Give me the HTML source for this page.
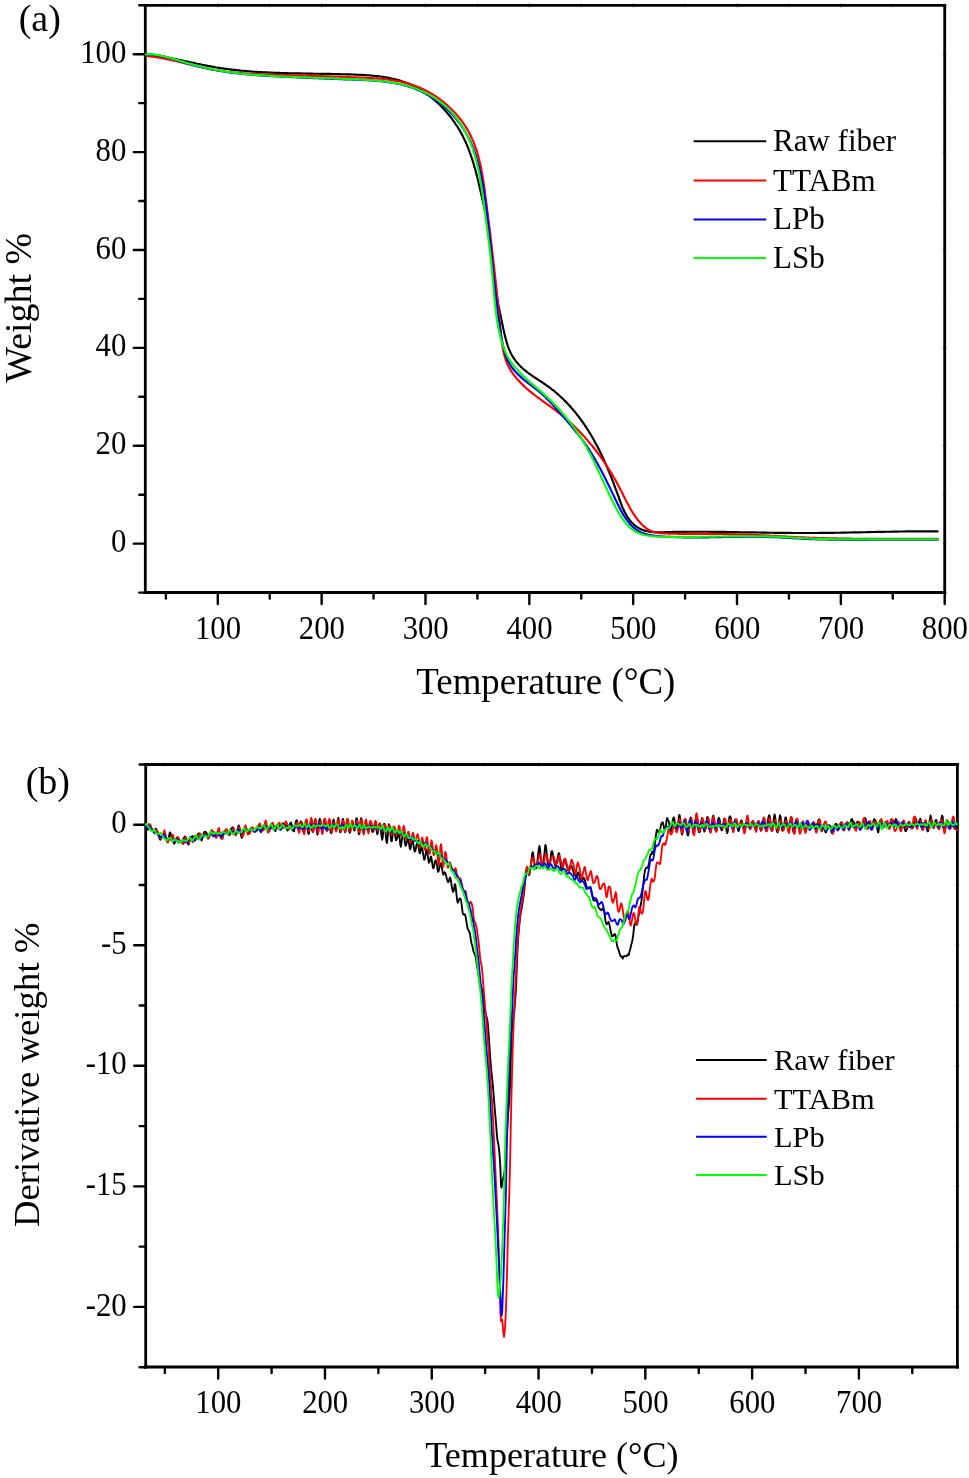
<!DOCTYPE html>
<html><head><meta charset="utf-8"><title>TGA / DTG curves</title>
<style>
html,body{margin:0;padding:0;background:#fff;}
body{width:969px;height:1478px;overflow:hidden;font-family:"Liberation Serif",serif;}
svg{display:block;will-change:transform;}
svg text{font-family:"Liberation Serif",serif;fill:#000;}
</style></head><body>
<svg width="969" height="1478" viewBox="0 0 969 1478">
<rect width="969" height="1478" fill="#fff"/>
<line x1="145.30" y1="3.90" x2="145.30" y2="594.00" stroke="#000" stroke-width="2.8" stroke-linecap="butt"/>
<line x1="944.70" y1="3.90" x2="944.70" y2="594.00" stroke="#000" stroke-width="2.8" stroke-linecap="butt"/>
<line x1="143.80" y1="5.40" x2="946.20" y2="5.40" stroke="#000" stroke-width="2.8" stroke-linecap="butt"/>
<line x1="143.80" y1="592.50" x2="946.20" y2="592.50" stroke="#000" stroke-width="2.8" stroke-linecap="butt"/>
<line x1="217.80" y1="592.50" x2="217.80" y2="604.00" stroke="#000" stroke-width="2.4" stroke-linecap="round"/>
<line x1="217.80" y1="3.30" x2="217.80" y2="7.50" stroke="#000" stroke-width="1.2" stroke-linecap="butt" stroke-opacity="0.35"/>
<line x1="321.64" y1="592.50" x2="321.64" y2="604.00" stroke="#000" stroke-width="2.4" stroke-linecap="round"/>
<line x1="321.64" y1="3.30" x2="321.64" y2="7.50" stroke="#000" stroke-width="1.2" stroke-linecap="butt" stroke-opacity="0.35"/>
<line x1="425.49" y1="592.50" x2="425.49" y2="604.00" stroke="#000" stroke-width="2.4" stroke-linecap="round"/>
<line x1="425.49" y1="3.30" x2="425.49" y2="7.50" stroke="#000" stroke-width="1.2" stroke-linecap="butt" stroke-opacity="0.35"/>
<line x1="529.33" y1="592.50" x2="529.33" y2="604.00" stroke="#000" stroke-width="2.4" stroke-linecap="round"/>
<line x1="529.33" y1="3.30" x2="529.33" y2="7.50" stroke="#000" stroke-width="1.2" stroke-linecap="butt" stroke-opacity="0.35"/>
<line x1="633.17" y1="592.50" x2="633.17" y2="604.00" stroke="#000" stroke-width="2.4" stroke-linecap="round"/>
<line x1="633.17" y1="3.30" x2="633.17" y2="7.50" stroke="#000" stroke-width="1.2" stroke-linecap="butt" stroke-opacity="0.35"/>
<line x1="737.01" y1="592.50" x2="737.01" y2="604.00" stroke="#000" stroke-width="2.4" stroke-linecap="round"/>
<line x1="737.01" y1="3.30" x2="737.01" y2="7.50" stroke="#000" stroke-width="1.2" stroke-linecap="butt" stroke-opacity="0.35"/>
<line x1="840.86" y1="592.50" x2="840.86" y2="604.00" stroke="#000" stroke-width="2.4" stroke-linecap="round"/>
<line x1="840.86" y1="3.30" x2="840.86" y2="7.50" stroke="#000" stroke-width="1.2" stroke-linecap="butt" stroke-opacity="0.35"/>
<line x1="944.70" y1="592.50" x2="944.70" y2="604.00" stroke="#000" stroke-width="2.4" stroke-linecap="round"/>
<line x1="944.70" y1="3.30" x2="944.70" y2="7.50" stroke="#000" stroke-width="1.2" stroke-linecap="butt" stroke-opacity="0.35"/>
<line x1="165.88" y1="592.50" x2="165.88" y2="598.50" stroke="#000" stroke-width="2.4" stroke-linecap="round"/>
<line x1="165.88" y1="3.40" x2="165.88" y2="7.40" stroke="#000" stroke-width="1.0" stroke-linecap="butt" stroke-opacity="0.3"/>
<line x1="269.72" y1="592.50" x2="269.72" y2="598.50" stroke="#000" stroke-width="2.4" stroke-linecap="round"/>
<line x1="269.72" y1="3.40" x2="269.72" y2="7.40" stroke="#000" stroke-width="1.0" stroke-linecap="butt" stroke-opacity="0.3"/>
<line x1="373.56" y1="592.50" x2="373.56" y2="598.50" stroke="#000" stroke-width="2.4" stroke-linecap="round"/>
<line x1="373.56" y1="3.40" x2="373.56" y2="7.40" stroke="#000" stroke-width="1.0" stroke-linecap="butt" stroke-opacity="0.3"/>
<line x1="477.41" y1="592.50" x2="477.41" y2="598.50" stroke="#000" stroke-width="2.4" stroke-linecap="round"/>
<line x1="477.41" y1="3.40" x2="477.41" y2="7.40" stroke="#000" stroke-width="1.0" stroke-linecap="butt" stroke-opacity="0.3"/>
<line x1="581.25" y1="592.50" x2="581.25" y2="598.50" stroke="#000" stroke-width="2.4" stroke-linecap="round"/>
<line x1="581.25" y1="3.40" x2="581.25" y2="7.40" stroke="#000" stroke-width="1.0" stroke-linecap="butt" stroke-opacity="0.3"/>
<line x1="685.09" y1="592.50" x2="685.09" y2="598.50" stroke="#000" stroke-width="2.4" stroke-linecap="round"/>
<line x1="685.09" y1="3.40" x2="685.09" y2="7.40" stroke="#000" stroke-width="1.0" stroke-linecap="butt" stroke-opacity="0.3"/>
<line x1="788.94" y1="592.50" x2="788.94" y2="598.50" stroke="#000" stroke-width="2.4" stroke-linecap="round"/>
<line x1="788.94" y1="3.40" x2="788.94" y2="7.40" stroke="#000" stroke-width="1.0" stroke-linecap="butt" stroke-opacity="0.3"/>
<line x1="892.78" y1="592.50" x2="892.78" y2="598.50" stroke="#000" stroke-width="2.4" stroke-linecap="round"/>
<line x1="892.78" y1="3.40" x2="892.78" y2="7.40" stroke="#000" stroke-width="1.0" stroke-linecap="butt" stroke-opacity="0.3"/>
<line x1="133.80" y1="543.65" x2="145.30" y2="543.65" stroke="#000" stroke-width="2.4" stroke-linecap="round"/>
<line x1="942.60" y1="543.65" x2="946.80" y2="543.65" stroke="#000" stroke-width="1.2" stroke-linecap="butt" stroke-opacity="0.35"/>
<line x1="133.80" y1="445.76" x2="145.30" y2="445.76" stroke="#000" stroke-width="2.4" stroke-linecap="round"/>
<line x1="942.60" y1="445.76" x2="946.80" y2="445.76" stroke="#000" stroke-width="1.2" stroke-linecap="butt" stroke-opacity="0.35"/>
<line x1="133.80" y1="347.87" x2="145.30" y2="347.87" stroke="#000" stroke-width="2.4" stroke-linecap="round"/>
<line x1="942.60" y1="347.87" x2="946.80" y2="347.87" stroke="#000" stroke-width="1.2" stroke-linecap="butt" stroke-opacity="0.35"/>
<line x1="133.80" y1="249.98" x2="145.30" y2="249.98" stroke="#000" stroke-width="2.4" stroke-linecap="round"/>
<line x1="942.60" y1="249.98" x2="946.80" y2="249.98" stroke="#000" stroke-width="1.2" stroke-linecap="butt" stroke-opacity="0.35"/>
<line x1="133.80" y1="152.09" x2="145.30" y2="152.09" stroke="#000" stroke-width="2.4" stroke-linecap="round"/>
<line x1="942.60" y1="152.09" x2="946.80" y2="152.09" stroke="#000" stroke-width="1.2" stroke-linecap="butt" stroke-opacity="0.35"/>
<line x1="133.80" y1="54.20" x2="145.30" y2="54.20" stroke="#000" stroke-width="2.4" stroke-linecap="round"/>
<line x1="942.60" y1="54.20" x2="946.80" y2="54.20" stroke="#000" stroke-width="1.2" stroke-linecap="butt" stroke-opacity="0.35"/>
<line x1="139.30" y1="592.60" x2="145.30" y2="592.60" stroke="#000" stroke-width="2.4" stroke-linecap="round"/>
<line x1="942.70" y1="592.60" x2="946.70" y2="592.60" stroke="#000" stroke-width="1.0" stroke-linecap="butt" stroke-opacity="0.3"/>
<line x1="139.30" y1="494.70" x2="145.30" y2="494.70" stroke="#000" stroke-width="2.4" stroke-linecap="round"/>
<line x1="942.70" y1="494.70" x2="946.70" y2="494.70" stroke="#000" stroke-width="1.0" stroke-linecap="butt" stroke-opacity="0.3"/>
<line x1="139.30" y1="396.81" x2="145.30" y2="396.81" stroke="#000" stroke-width="2.4" stroke-linecap="round"/>
<line x1="942.70" y1="396.81" x2="946.70" y2="396.81" stroke="#000" stroke-width="1.0" stroke-linecap="butt" stroke-opacity="0.3"/>
<line x1="139.30" y1="298.92" x2="145.30" y2="298.92" stroke="#000" stroke-width="2.4" stroke-linecap="round"/>
<line x1="942.70" y1="298.92" x2="946.70" y2="298.92" stroke="#000" stroke-width="1.0" stroke-linecap="butt" stroke-opacity="0.3"/>
<line x1="139.30" y1="201.03" x2="145.30" y2="201.03" stroke="#000" stroke-width="2.4" stroke-linecap="round"/>
<line x1="942.70" y1="201.03" x2="946.70" y2="201.03" stroke="#000" stroke-width="1.0" stroke-linecap="butt" stroke-opacity="0.3"/>
<line x1="139.30" y1="103.14" x2="145.30" y2="103.14" stroke="#000" stroke-width="2.4" stroke-linecap="round"/>
<line x1="942.70" y1="103.14" x2="946.70" y2="103.14" stroke="#000" stroke-width="1.0" stroke-linecap="butt" stroke-opacity="0.3"/>
<line x1="139.30" y1="5.25" x2="145.30" y2="5.25" stroke="#000" stroke-width="2.4" stroke-linecap="round"/>
<line x1="942.70" y1="5.25" x2="946.70" y2="5.25" stroke="#000" stroke-width="1.0" stroke-linecap="butt" stroke-opacity="0.3"/>
<text x="0.00" y="0.00" font-size="33.6" text-anchor="middle" transform="translate(218.00 638.70) scale(0.915,1)">100</text>
<text x="0.00" y="0.00" font-size="33.6" text-anchor="middle" transform="translate(321.84 638.70) scale(0.915,1)">200</text>
<text x="0.00" y="0.00" font-size="33.6" text-anchor="middle" transform="translate(425.69 638.70) scale(0.915,1)">300</text>
<text x="0.00" y="0.00" font-size="33.6" text-anchor="middle" transform="translate(529.53 638.70) scale(0.915,1)">400</text>
<text x="0.00" y="0.00" font-size="33.6" text-anchor="middle" transform="translate(633.37 638.70) scale(0.915,1)">500</text>
<text x="0.00" y="0.00" font-size="33.6" text-anchor="middle" transform="translate(737.21 638.70) scale(0.915,1)">600</text>
<text x="0.00" y="0.00" font-size="33.6" text-anchor="middle" transform="translate(841.06 638.70) scale(0.915,1)">700</text>
<text x="0.00" y="0.00" font-size="33.6" text-anchor="middle" transform="translate(944.90 638.70) scale(0.915,1)">800</text>
<text x="0.00" y="0.00" font-size="33.6" text-anchor="end" transform="translate(126.30 552.25) scale(0.915,1)">0</text>
<text x="0.00" y="0.00" font-size="33.6" text-anchor="end" transform="translate(126.30 454.36) scale(0.915,1)">20</text>
<text x="0.00" y="0.00" font-size="33.6" text-anchor="end" transform="translate(126.30 356.47) scale(0.915,1)">40</text>
<text x="0.00" y="0.00" font-size="33.6" text-anchor="end" transform="translate(126.30 258.58) scale(0.915,1)">60</text>
<text x="0.00" y="0.00" font-size="33.6" text-anchor="end" transform="translate(126.30 160.69) scale(0.915,1)">80</text>
<text x="0.00" y="0.00" font-size="33.6" text-anchor="end" transform="translate(126.30 62.80) scale(0.915,1)">100</text>
<path d="M145.9 54.5 L147.4 54.6 L148.8 54.8 L150.3 55.0 L151.8 55.1 L153.3 55.3 L154.8 55.5 L156.3 55.7 L157.8 56.0 L159.2 56.2 L160.7 56.4 L162.2 56.7 L163.7 56.9 L165.1 57.2 L166.6 57.4 L168.1 57.7 L169.6 58.0 L171.0 58.3 L172.5 58.5 L174.0 58.8 L175.5 59.1 L176.9 59.4 L178.4 59.7 L179.9 60.0 L181.3 60.3 L182.8 60.6 L184.3 61.0 L185.7 61.3 L187.2 61.6 L188.7 61.9 L190.1 62.2 L191.6 62.5 L193.1 62.8 L194.6 63.1 L196.0 63.5 L197.5 63.8 L199.0 64.1 L200.4 64.4 L201.9 64.7 L203.4 65.0 L204.9 65.3 L206.3 65.6 L207.8 65.9 L209.3 66.1 L210.7 66.4 L212.2 66.7 L213.7 66.9 L215.2 67.2 L216.7 67.5 L218.1 67.7 L219.6 67.9 L221.1 68.2 L222.6 68.4 L224.1 68.6 L225.6 68.8 L227.1 69.0 L228.6 69.2 L230.0 69.4 L231.5 69.6 L233.0 69.8 L234.5 69.9 L236.0 70.1 L237.5 70.3 L239.0 70.4 L240.5 70.6 L242.0 70.7 L243.5 70.8 L245.0 71.0 L246.5 71.1 L248.0 71.2 L249.5 71.3 L251.0 71.5 L252.5 71.6 L254.0 71.7 L255.5 71.8 L257.0 71.9 L258.5 72.0 L260.0 72.1 L261.5 72.1 L263.0 72.2 L264.5 72.3 L266.0 72.4 L267.5 72.4 L269.0 72.5 L270.5 72.6 L272.0 72.6 L273.5 72.7 L275.1 72.8 L276.6 72.8 L278.1 72.9 L279.6 72.9 L281.1 73.0 L282.6 73.0 L284.1 73.1 L285.6 73.1 L287.1 73.1 L288.6 73.2 L290.1 73.2 L291.6 73.2 L293.1 73.3 L294.6 73.3 L296.1 73.3 L297.6 73.4 L299.1 73.4 L300.5 73.4 L302.0 73.5 L303.5 73.5 L305.0 73.5 L306.5 73.5 L308.0 73.6 L309.5 73.6 L311.0 73.6 L312.5 73.6 L314.0 73.7 L315.5 73.7 L317.0 73.7 L318.5 73.7 L320.0 73.8 L321.5 73.8 L323.0 73.8 L324.5 73.8 L326.0 73.9 L327.5 73.9 L329.0 73.9 L330.5 73.9 L332.0 74.0 L333.5 74.0 L335.0 74.0 L336.5 74.1 L338.0 74.1 L339.5 74.1 L341.1 74.2 L342.6 74.2 L344.1 74.2 L345.6 74.3 L347.1 74.3 L348.6 74.4 L350.1 74.4 L351.6 74.5 L353.1 74.5 L354.6 74.6 L356.2 74.6 L357.7 74.7 L359.2 74.8 L360.7 74.8 L362.2 74.9 L363.7 75.0 L365.2 75.1 L366.7 75.2 L368.2 75.3 L369.7 75.4 L371.2 75.5 L372.7 75.7 L374.2 75.8 L375.7 76.0 L377.2 76.1 L378.7 76.3 L380.2 76.5 L381.7 76.7 L383.2 76.9 L384.6 77.2 L386.1 77.4 L387.6 77.7 L389.0 77.9 L390.5 78.2 L392.0 78.6 L393.4 78.9 L394.8 79.2 L396.3 79.6 L397.7 80.0 L399.1 80.4 L400.5 80.8 L402.0 81.3 L403.4 81.7 L404.8 82.2 L406.1 82.7 L407.5 83.2 L408.9 83.8 L410.3 84.4 L411.6 85.0 L413.0 85.6 L414.3 86.3 L415.6 87.0 L417.0 87.7 L418.3 88.4 L419.6 89.2 L420.9 89.9 L422.1 90.7 L423.4 91.6 L424.7 92.4 L425.9 93.3 L427.2 94.2 L428.4 95.1 L429.6 96.0 L430.8 96.9 L432.0 97.9 L433.2 98.9 L434.3 99.9 L435.5 100.9 L436.6 101.9 L437.8 103.0 L438.9 104.0 L440.0 105.1 L441.0 106.1 L442.1 107.2 L443.1 108.3 L444.2 109.5 L445.2 110.6 L446.2 111.7 L447.2 112.8 L448.1 114.0 L449.1 115.2 L450.0 116.3 L451.0 117.5 L451.9 118.7 L452.7 119.9 L453.6 121.1 L454.5 122.3 L455.3 123.6 L456.1 124.8 L457.0 126.0 L457.8 127.3 L458.5 128.6 L459.3 129.8 L460.0 131.1 L460.8 132.4 L461.5 133.7 L462.2 135.0 L462.9 136.3 L463.5 137.7 L464.2 139.0 L464.8 140.4 L465.5 141.7 L466.1 143.1 L466.7 144.4 L467.2 145.8 L467.8 147.2 L468.4 148.6 L468.9 150.0 L469.4 151.4 L469.9 152.8 L470.5 154.2 L470.9 155.6 L471.4 157.0 L471.9 158.5 L472.4 159.9 L472.8 161.3 L473.3 162.8 L473.7 164.2 L474.1 165.7 L474.5 167.1 L475.0 168.6 L475.4 170.0 L475.8 171.5 L476.1 172.9 L476.5 174.4 L476.9 175.9 L477.3 177.3 L477.6 178.8 L478.0 180.3 L478.4 181.8 L478.7 183.2 L479.1 184.7 L479.4 186.2 L479.7 187.6 L480.1 189.1 L480.4 190.6 L480.8 192.1 L481.1 193.5 L481.4 195.0 L481.8 196.5 L482.1 197.9 L482.4 199.4 L482.8 200.8 L483.1 202.3 L483.4 203.7 L483.8 205.2 L484.1 206.6 L484.4 208.1 L484.8 209.5 L485.1 211.0 L485.4 212.4 L485.7 213.9 L486.0 215.3 L486.3 216.8 L486.6 218.2 L486.9 219.7 L487.2 221.1 L487.4 222.6 L487.7 224.1 L487.9 225.5 L488.2 227.0 L488.4 228.5 L488.6 230.0 L488.8 231.5 L489.0 232.9 L489.2 234.4 L489.4 235.9 L489.6 237.4 L489.8 238.9 L489.9 240.4 L490.1 241.9 L490.3 243.4 L490.4 244.9 L490.6 246.4 L490.7 247.9 L490.9 249.4 L491.0 250.9 L491.2 252.4 L491.3 253.9 L491.5 255.4 L491.6 256.9 L491.8 258.4 L491.9 259.9 L492.1 261.4 L492.2 262.9 L492.4 264.4 L492.6 265.9 L492.7 267.4 L492.9 268.9 L493.1 270.4 L493.3 271.9 L493.4 273.4 L493.6 274.9 L493.8 276.3 L494.0 277.8 L494.2 279.3 L494.4 280.8 L494.7 282.3 L494.9 283.8 L495.1 285.3 L495.3 286.7 L495.6 288.2 L495.8 289.7 L496.0 291.2 L496.3 292.7 L496.5 294.1 L496.8 295.6 L497.0 297.1 L497.3 298.6 L497.5 300.0 L497.8 301.5 L498.1 303.0 L498.3 304.5 L498.6 305.9 L498.9 307.4 L499.2 308.9 L499.5 310.4 L499.8 311.8 L500.1 313.3 L500.4 314.8 L500.7 316.3 L501.0 317.7 L501.3 319.2 L501.6 320.7 L501.9 322.2 L502.2 323.6 L502.5 325.1 L502.9 326.6 L503.2 328.1 L503.5 329.5 L503.9 331.0 L504.2 332.5 L504.5 334.0 L504.9 335.5 L505.2 336.9 L505.6 338.4 L506.0 339.9 L506.4 341.3 L506.8 342.8 L507.2 344.2 L507.7 345.7 L508.2 347.1 L508.7 348.5 L509.3 349.8 L509.9 351.2 L510.5 352.5 L511.2 353.9 L511.9 355.2 L512.6 356.4 L513.4 357.7 L514.2 358.9 L515.1 360.1 L516.0 361.3 L516.9 362.4 L517.8 363.5 L518.8 364.6 L519.8 365.7 L520.9 366.7 L521.9 367.7 L523.0 368.7 L524.1 369.7 L525.3 370.6 L526.5 371.6 L527.6 372.5 L528.8 373.4 L530.0 374.2 L531.3 375.1 L532.5 376.0 L533.8 376.8 L535.0 377.7 L536.3 378.5 L537.6 379.3 L538.8 380.2 L540.1 381.0 L541.4 381.8 L542.7 382.7 L543.9 383.5 L545.2 384.4 L546.4 385.3 L547.7 386.1 L548.9 387.0 L550.1 387.9 L551.3 388.9 L552.5 389.8 L553.7 390.7 L554.9 391.7 L556.0 392.7 L557.2 393.7 L558.3 394.6 L559.5 395.7 L560.6 396.7 L561.7 397.7 L562.8 398.7 L563.8 399.8 L564.9 400.9 L566.0 401.9 L567.0 403.0 L568.0 404.1 L569.1 405.2 L570.1 406.3 L571.1 407.5 L572.1 408.6 L573.0 409.7 L574.0 410.9 L575.0 412.0 L575.9 413.2 L576.9 414.4 L577.8 415.6 L578.7 416.7 L579.6 417.9 L580.5 419.2 L581.4 420.4 L582.3 421.6 L583.1 422.8 L584.0 424.0 L584.8 425.3 L585.7 426.5 L586.5 427.8 L587.3 429.0 L588.1 430.3 L588.9 431.6 L589.7 432.8 L590.5 434.1 L591.2 435.4 L592.0 436.7 L592.7 438.0 L593.5 439.3 L594.2 440.6 L594.9 441.9 L595.6 443.2 L596.3 444.5 L597.0 445.8 L597.7 447.1 L598.4 448.4 L599.1 449.8 L599.7 451.1 L600.4 452.4 L601.0 453.8 L601.7 455.1 L602.3 456.4 L602.9 457.8 L603.5 459.1 L604.2 460.5 L604.8 461.9 L605.4 463.2 L606.0 464.6 L606.6 466.0 L607.2 467.3 L607.7 468.7 L608.3 470.1 L608.9 471.5 L609.5 472.9 L610.0 474.3 L610.6 475.7 L611.2 477.1 L611.7 478.5 L612.3 479.9 L612.8 481.3 L613.4 482.7 L613.9 484.2 L614.4 485.6 L615.0 487.0 L615.5 488.5 L616.0 489.9 L616.6 491.3 L617.1 492.8 L617.6 494.2 L618.2 495.7 L618.7 497.1 L619.2 498.6 L619.7 500.0 L620.3 501.5 L620.8 502.9 L621.4 504.4 L621.9 505.8 L622.5 507.3 L623.1 508.7 L623.8 510.1 L624.4 511.5 L625.1 512.8 L625.8 514.1 L626.6 515.5 L627.3 516.7 L628.1 518.0 L629.0 519.2 L629.9 520.4 L630.8 521.5 L631.8 522.6 L632.8 523.6 L633.8 524.6 L634.9 525.5 L636.0 526.4 L637.2 527.2 L638.4 527.9 L639.6 528.6 L640.9 529.2 L642.2 529.7 L643.5 530.2 L644.8 530.6 L646.2 531.0 L647.6 531.3 L649.1 531.6 L650.5 531.8 L652.0 532.0 L653.5 532.1 L654.9 532.2 L656.4 532.2 L657.9 532.3 L659.4 532.3 L661.0 532.2 L662.5 532.2 L664.0 532.2 L665.5 532.1 L667.0 532.1 L668.6 532.0 L670.1 532.0 L671.6 532.0 L673.1 531.9 L674.6 531.9 L676.2 531.9 L677.7 531.9 L679.2 531.8 L680.7 531.8 L682.2 531.8 L683.7 531.8 L685.3 531.8 L686.8 531.8 L688.3 531.7 L689.8 531.7 L691.3 531.7 L692.8 531.7 L694.3 531.7 L695.8 531.7 L697.4 531.7 L698.9 531.7 L700.4 531.7 L701.9 531.7 L703.4 531.7 L704.9 531.7 L706.4 531.7 L707.9 531.7 L709.4 531.8 L710.9 531.8 L712.4 531.8 L713.9 531.8 L715.4 531.8 L717.0 531.8 L718.5 531.8 L720.0 531.9 L721.5 531.9 L723.0 531.9 L724.5 531.9 L726.0 531.9 L727.5 532.0 L729.0 532.0 L730.5 532.0 L732.0 532.0 L733.5 532.1 L735.0 532.1 L736.5 532.1 L738.0 532.1 L739.5 532.2 L741.0 532.2 L742.5 532.2 L744.0 532.2 L745.5 532.3 L747.0 532.3 L748.5 532.3 L750.0 532.3 L751.5 532.4 L753.0 532.4 L754.5 532.4 L756.0 532.4 L757.5 532.5 L759.0 532.5 L760.5 532.5 L762.0 532.6 L763.5 532.6 L765.0 532.6 L766.5 532.6 L768.0 532.7 L769.5 532.7 L771.0 532.7 L772.5 532.7 L774.0 532.8 L775.5 532.8 L777.0 532.8 L778.5 532.8 L780.0 532.8 L781.5 532.9 L783.0 532.9 L784.5 532.9 L786.0 532.9 L787.5 532.9 L789.0 532.9 L790.4 532.9 L791.9 533.0 L793.4 533.0 L794.9 533.0 L796.4 533.0 L797.9 533.0 L799.4 533.0 L800.9 533.0 L802.4 533.0 L803.9 533.0 L805.5 533.0 L807.0 533.0 L808.5 533.0 L810.0 533.0 L811.5 533.0 L813.0 533.0 L814.5 533.0 L816.0 533.0 L817.5 533.0 L819.0 532.9 L820.5 532.9 L822.0 532.9 L823.5 532.9 L825.0 532.9 L826.5 532.9 L828.0 532.8 L829.5 532.8 L831.0 532.8 L832.5 532.8 L834.0 532.8 L835.5 532.7 L837.0 532.7 L838.5 532.7 L840.0 532.7 L841.5 532.6 L843.0 532.6 L844.5 532.6 L846.0 532.6 L847.5 532.5 L849.0 532.5 L850.6 532.5 L852.1 532.4 L853.6 532.4 L855.1 532.4 L856.6 532.3 L858.1 532.3 L859.6 532.3 L861.1 532.3 L862.6 532.2 L864.1 532.2 L865.6 532.2 L867.1 532.1 L868.6 532.1 L870.1 532.1 L871.6 532.0 L873.1 532.0 L874.6 532.0 L876.1 531.9 L877.6 531.9 L879.1 531.9 L880.6 531.8 L882.1 531.8 L883.6 531.8 L885.2 531.8 L886.7 531.7 L888.2 531.7 L889.7 531.7 L891.2 531.7 L892.7 531.6 L894.2 531.6 L895.7 531.6 L897.2 531.6 L898.7 531.5 L900.2 531.5 L901.7 531.5 L903.2 531.5 L904.7 531.5 L906.2 531.4 L907.7 531.4 L909.2 531.4 L910.7 531.4 L912.2 531.4 L913.7 531.4 L915.2 531.3 L916.7 531.3 L918.2 531.3 L919.7 531.3 L921.2 531.3 L922.7 531.3 L924.2 531.3 L925.7 531.3 L927.2 531.3 L928.7 531.3 L930.2 531.3 L931.7 531.3 L933.2 531.3 L934.7 531.3 L936.2 531.3 L937.6 531.4" fill="none" stroke="#000" stroke-width="2.15" stroke-linejoin="round" stroke-linecap="round"/>
<path d="M145.8 55.8 L147.3 56.0 L148.8 56.2 L150.3 56.4 L151.8 56.6 L153.3 56.8 L154.8 57.0 L156.3 57.2 L157.8 57.5 L159.2 57.7 L160.7 58.0 L162.2 58.2 L163.7 58.5 L165.1 58.8 L166.6 59.1 L168.1 59.4 L169.5 59.7 L171.0 60.0 L172.5 60.4 L173.9 60.7 L175.4 61.0 L176.9 61.3 L178.3 61.7 L179.8 62.0 L181.2 62.4 L182.7 62.7 L184.2 63.1 L185.6 63.4 L187.1 63.8 L188.5 64.1 L190.0 64.5 L191.5 64.8 L192.9 65.2 L194.4 65.5 L195.8 65.9 L197.3 66.2 L198.8 66.5 L200.2 66.9 L201.7 67.2 L203.2 67.5 L204.6 67.8 L206.1 68.2 L207.6 68.5 L209.0 68.8 L210.5 69.1 L212.0 69.3 L213.5 69.6 L214.9 69.9 L216.4 70.1 L217.9 70.4 L219.4 70.6 L220.9 70.9 L222.4 71.1 L223.8 71.3 L225.3 71.5 L226.8 71.7 L228.3 71.8 L229.8 72.0 L231.3 72.2 L232.8 72.3 L234.3 72.5 L235.8 72.6 L237.3 72.8 L238.8 72.9 L240.3 73.0 L241.8 73.1 L243.3 73.3 L244.8 73.4 L246.3 73.5 L247.8 73.6 L249.4 73.6 L250.9 73.7 L252.4 73.8 L253.9 73.9 L255.4 74.0 L256.9 74.0 L258.4 74.1 L259.9 74.1 L261.4 74.2 L262.9 74.3 L264.5 74.3 L266.0 74.4 L267.5 74.4 L269.0 74.5 L270.5 74.5 L272.0 74.5 L273.5 74.6 L275.0 74.6 L276.5 74.7 L278.0 74.7 L279.5 74.7 L281.0 74.8 L282.5 74.8 L284.0 74.9 L285.5 74.9 L287.0 75.0 L288.5 75.0 L290.0 75.1 L291.5 75.1 L293.0 75.1 L294.5 75.2 L296.0 75.2 L297.5 75.3 L299.0 75.3 L300.5 75.4 L302.0 75.4 L303.4 75.5 L304.9 75.5 L306.4 75.6 L307.9 75.7 L309.4 75.7 L310.9 75.8 L312.4 75.8 L313.9 75.9 L315.4 75.9 L316.9 76.0 L318.3 76.0 L319.8 76.1 L321.3 76.1 L322.8 76.2 L324.3 76.2 L325.8 76.3 L327.3 76.4 L328.8 76.4 L330.3 76.5 L331.8 76.5 L333.3 76.6 L334.8 76.6 L336.3 76.7 L337.8 76.7 L339.3 76.8 L340.8 76.8 L342.3 76.9 L343.8 76.9 L345.3 77.0 L346.8 77.0 L348.3 77.1 L349.8 77.1 L351.4 77.2 L352.9 77.2 L354.4 77.3 L355.9 77.3 L357.4 77.4 L359.0 77.5 L360.5 77.5 L362.0 77.6 L363.5 77.6 L365.0 77.7 L366.6 77.8 L368.1 77.8 L369.6 77.9 L371.1 78.0 L372.7 78.1 L374.2 78.2 L375.7 78.3 L377.2 78.4 L378.7 78.6 L380.2 78.7 L381.7 78.8 L383.3 79.0 L384.8 79.2 L386.3 79.3 L387.8 79.5 L389.3 79.7 L390.7 79.9 L392.2 80.2 L393.7 80.4 L395.2 80.6 L396.7 80.9 L398.1 81.2 L399.6 81.5 L401.1 81.8 L402.5 82.1 L404.0 82.5 L405.4 82.9 L406.9 83.2 L408.3 83.7 L409.7 84.1 L411.2 84.5 L412.6 85.0 L414.0 85.5 L415.4 86.0 L416.8 86.5 L418.2 87.1 L419.5 87.6 L420.9 88.2 L422.3 88.8 L423.6 89.5 L425.0 90.1 L426.3 90.8 L427.6 91.5 L428.9 92.2 L430.2 93.0 L431.5 93.7 L432.8 94.5 L434.1 95.3 L435.4 96.1 L436.6 96.9 L437.9 97.8 L439.1 98.7 L440.3 99.6 L441.5 100.5 L442.7 101.4 L443.9 102.3 L445.0 103.3 L446.2 104.3 L447.3 105.2 L448.4 106.3 L449.5 107.3 L450.6 108.3 L451.7 109.4 L452.7 110.4 L453.8 111.5 L454.8 112.6 L455.8 113.7 L456.8 114.9 L457.8 116.0 L458.7 117.1 L459.7 118.3 L460.6 119.5 L461.5 120.7 L462.4 121.9 L463.2 123.1 L464.1 124.3 L464.9 125.6 L465.7 126.8 L466.5 128.1 L467.3 129.4 L468.0 130.6 L468.7 131.9 L469.4 133.2 L470.1 134.6 L470.8 135.9 L471.4 137.2 L472.0 138.6 L472.6 139.9 L473.2 141.3 L473.8 142.7 L474.3 144.0 L474.8 145.4 L475.3 146.8 L475.8 148.2 L476.3 149.6 L476.8 151.1 L477.2 152.5 L477.6 153.9 L478.0 155.3 L478.4 156.8 L478.8 158.2 L479.2 159.7 L479.5 161.1 L479.9 162.6 L480.2 164.1 L480.6 165.6 L480.9 167.0 L481.2 168.5 L481.5 170.0 L481.7 171.5 L482.0 173.0 L482.3 174.5 L482.5 176.0 L482.8 177.5 L483.0 179.0 L483.3 180.5 L483.5 182.0 L483.7 183.5 L484.0 185.0 L484.2 186.5 L484.4 188.0 L484.6 189.5 L484.8 191.0 L485.0 192.5 L485.2 194.1 L485.4 195.6 L485.6 197.1 L485.8 198.6 L486.0 200.1 L486.2 201.6 L486.4 203.1 L486.6 204.6 L486.8 206.1 L486.9 207.6 L487.1 209.1 L487.3 210.6 L487.5 212.1 L487.7 213.6 L487.9 215.1 L488.1 216.6 L488.3 218.1 L488.5 219.6 L488.6 221.1 L488.8 222.6 L489.0 224.0 L489.2 225.5 L489.4 227.0 L489.6 228.5 L489.7 230.0 L489.9 231.5 L490.1 233.0 L490.3 234.5 L490.5 236.0 L490.6 237.4 L490.8 238.9 L491.0 240.4 L491.2 241.9 L491.3 243.4 L491.5 244.9 L491.7 246.3 L491.9 247.8 L492.0 249.3 L492.2 250.8 L492.4 252.3 L492.6 253.8 L492.7 255.2 L492.9 256.7 L493.1 258.2 L493.2 259.7 L493.4 261.2 L493.6 262.7 L493.7 264.1 L493.9 265.6 L494.1 267.1 L494.2 268.6 L494.4 270.1 L494.6 271.6 L494.7 273.1 L494.9 274.5 L495.1 276.0 L495.2 277.5 L495.4 279.0 L495.5 280.5 L495.7 282.0 L495.9 283.5 L496.0 284.9 L496.2 286.4 L496.3 287.9 L496.5 289.4 L496.7 290.9 L496.8 292.4 L497.0 293.9 L497.1 295.4 L497.3 296.9 L497.4 298.4 L497.6 299.9 L497.7 301.4 L497.9 302.9 L498.0 304.4 L498.2 305.9 L498.4 307.3 L498.5 308.9 L498.7 310.4 L498.8 311.9 L499.0 313.4 L499.1 314.9 L499.3 316.4 L499.4 317.9 L499.6 319.4 L499.7 320.9 L499.9 322.4 L500.0 323.9 L500.1 325.4 L500.3 326.9 L500.4 328.5 L500.6 330.0 L500.7 331.5 L500.9 333.0 L501.0 334.5 L501.2 336.1 L501.3 337.6 L501.5 339.1 L501.7 340.6 L501.9 342.1 L502.1 343.6 L502.3 345.1 L502.5 346.6 L502.8 348.1 L503.1 349.5 L503.3 351.0 L503.7 352.5 L504.0 353.9 L504.4 355.4 L504.8 356.8 L505.2 358.2 L505.7 359.6 L506.1 361.0 L506.7 362.3 L507.2 363.7 L507.8 365.0 L508.5 366.3 L509.1 367.6 L509.9 368.9 L510.6 370.2 L511.4 371.4 L512.2 372.7 L513.1 373.9 L514.0 375.1 L514.9 376.3 L515.8 377.4 L516.8 378.6 L517.8 379.7 L518.8 380.8 L519.8 382.0 L520.9 383.0 L522.0 384.1 L523.0 385.2 L524.2 386.2 L525.3 387.3 L526.4 388.3 L527.6 389.3 L528.7 390.3 L529.9 391.3 L531.1 392.2 L532.3 393.2 L533.4 394.1 L534.6 395.0 L535.8 396.0 L537.0 396.9 L538.2 397.8 L539.5 398.7 L540.7 399.5 L541.9 400.4 L543.1 401.3 L544.3 402.2 L545.5 403.0 L546.7 403.9 L547.9 404.8 L549.1 405.7 L550.4 406.5 L551.6 407.4 L552.8 408.3 L554.0 409.2 L555.2 410.1 L556.4 410.9 L557.5 411.9 L558.7 412.8 L559.9 413.7 L561.1 414.6 L562.2 415.6 L563.4 416.5 L564.6 417.5 L565.7 418.5 L566.8 419.5 L568.0 420.4 L569.1 421.5 L570.2 422.5 L571.3 423.5 L572.4 424.5 L573.5 425.6 L574.6 426.6 L575.7 427.7 L576.7 428.8 L577.8 429.8 L578.9 430.9 L579.9 432.0 L580.9 433.1 L582.0 434.2 L583.0 435.3 L584.0 436.4 L585.0 437.5 L586.0 438.7 L587.0 439.8 L588.0 440.9 L589.0 442.1 L589.9 443.2 L590.9 444.4 L591.9 445.5 L592.8 446.7 L593.7 447.8 L594.7 449.0 L595.6 450.2 L596.5 451.4 L597.4 452.6 L598.3 453.8 L599.2 455.0 L600.1 456.2 L600.9 457.4 L601.8 458.6 L602.7 459.8 L603.5 461.1 L604.4 462.3 L605.2 463.5 L606.0 464.8 L606.8 466.0 L607.7 467.3 L608.5 468.6 L609.3 469.8 L610.1 471.1 L610.8 472.4 L611.6 473.6 L612.4 474.9 L613.2 476.2 L613.9 477.5 L614.7 478.8 L615.4 480.1 L616.1 481.4 L616.9 482.8 L617.6 484.1 L618.3 485.4 L619.0 486.7 L619.7 488.1 L620.4 489.4 L621.1 490.8 L621.8 492.1 L622.5 493.5 L623.1 494.8 L623.8 496.2 L624.5 497.6 L625.2 498.9 L625.9 500.3 L626.6 501.6 L627.3 503.0 L628.0 504.3 L628.7 505.6 L629.4 507.0 L630.1 508.3 L630.9 509.6 L631.6 510.9 L632.4 512.2 L633.2 513.5 L634.1 514.7 L634.9 516.0 L635.8 517.2 L636.7 518.4 L637.6 519.6 L638.5 520.8 L639.5 521.9 L640.5 523.1 L641.6 524.2 L642.6 525.2 L643.7 526.2 L644.9 527.2 L646.0 528.1 L647.2 529.0 L648.5 529.8 L649.7 530.5 L651.0 531.1 L652.4 531.6 L653.8 532.1 L655.2 532.5 L656.6 532.7 L658.1 533.0 L659.6 533.1 L661.0 533.2 L662.6 533.3 L664.1 533.4 L665.6 533.5 L667.1 533.5 L668.6 533.6 L670.1 533.6 L671.6 533.6 L673.2 533.7 L674.7 533.7 L676.2 533.7 L677.7 533.8 L679.2 533.8 L680.7 533.8 L682.2 533.8 L683.7 533.9 L685.2 533.9 L686.7 533.9 L688.3 533.9 L689.8 533.9 L691.3 533.9 L692.8 533.9 L694.3 533.9 L695.8 533.9 L697.3 533.9 L698.8 533.9 L700.3 533.9 L701.8 533.9 L703.3 533.9 L704.8 533.9 L706.3 533.9 L707.8 533.9 L709.3 533.9 L710.8 533.9 L712.3 533.9 L713.8 533.9 L715.3 534.0 L716.8 534.0 L718.3 534.0 L719.9 534.0 L721.4 534.0 L722.9 534.0 L724.4 534.0 L725.9 534.0 L727.4 534.0 L728.9 534.1 L730.4 534.1 L731.9 534.1 L733.4 534.1 L734.9 534.2 L736.4 534.2 L737.9 534.2 L739.4 534.3 L740.9 534.3 L742.4 534.4 L743.9 534.4 L745.4 534.5 L746.9 534.5 L748.4 534.6 L749.9 534.6 L751.4 534.7 L752.9 534.8 L754.4 534.8 L755.9 534.9 L757.4 535.0 L758.9 535.0 L760.4 535.1 L761.9 535.2 L763.4 535.3 L764.9 535.4 L766.4 535.4 L767.9 535.5 L769.4 535.6 L770.9 535.7 L772.4 535.8 L773.9 535.9 L775.4 535.9 L776.9 536.0 L778.4 536.1 L779.9 536.2 L781.4 536.3 L782.9 536.4 L784.4 536.4 L785.9 536.5 L787.4 536.6 L788.9 536.7 L790.4 536.8 L791.9 536.9 L793.4 536.9 L794.9 537.0 L796.4 537.1 L797.9 537.2 L799.4 537.2 L800.9 537.3 L802.4 537.4 L803.9 537.4 L805.4 537.5 L806.9 537.6 L808.4 537.6 L809.9 537.7 L811.4 537.8 L812.9 537.8 L814.5 537.9 L816.0 537.9 L817.5 538.0 L819.0 538.0 L820.5 538.1 L822.0 538.1 L823.5 538.1 L825.0 538.2 L826.5 538.2 L828.0 538.3 L829.5 538.3 L831.0 538.3 L832.5 538.4 L834.0 538.4 L835.5 538.4 L837.0 538.5 L838.5 538.5 L840.0 538.5 L841.5 538.5 L843.0 538.5 L844.5 538.6 L846.0 538.6 L847.5 538.6 L849.0 538.6 L850.5 538.6 L852.0 538.7 L853.5 538.7 L855.0 538.7 L856.5 538.7 L858.0 538.7 L859.5 538.7 L861.0 538.7 L862.5 538.7 L864.0 538.7 L865.5 538.8 L867.0 538.8 L868.5 538.8 L870.0 538.8 L871.5 538.8 L873.0 538.8 L874.5 538.8 L876.1 538.8 L877.6 538.8 L879.1 538.8 L880.6 538.8 L882.1 538.8 L883.6 538.8 L885.1 538.8 L886.6 538.8 L888.1 538.8 L889.6 538.8 L891.1 538.8 L892.6 538.8 L894.1 538.8 L895.6 538.8 L897.1 538.8 L898.6 538.8 L900.1 538.8 L901.6 538.8 L903.1 538.8 L904.6 538.8 L906.1 538.8 L907.6 538.8 L909.1 538.8 L910.6 538.8 L912.1 538.8 L913.6 538.8 L915.1 538.8 L916.6 538.8 L918.1 538.8 L919.7 538.8 L921.2 538.8 L922.7 538.8 L924.2 538.8 L925.7 538.8 L927.2 538.8 L928.7 538.8 L930.2 538.8 L931.7 538.8 L933.2 538.8 L934.7 538.8 L936.2 538.8 L937.7 538.8" fill="none" stroke="#f00" stroke-width="2.15" stroke-linejoin="round" stroke-linecap="round"/>
<path d="M145.8 54.8 L147.3 54.7 L148.9 54.6 L150.4 54.6 L151.9 54.7 L153.4 54.8 L154.9 54.9 L156.3 55.1 L157.8 55.3 L159.3 55.5 L160.8 55.8 L162.2 56.1 L163.7 56.4 L165.1 56.8 L166.6 57.2 L168.0 57.6 L169.5 58.0 L170.9 58.4 L172.4 58.8 L173.8 59.3 L175.3 59.7 L176.7 60.2 L178.1 60.6 L179.6 61.1 L181.0 61.5 L182.5 62.0 L183.9 62.4 L185.3 62.9 L186.8 63.3 L188.2 63.7 L189.7 64.1 L191.1 64.5 L192.6 64.9 L194.0 65.3 L195.5 65.7 L196.9 66.1 L198.4 66.4 L199.8 66.8 L201.3 67.1 L202.8 67.5 L204.2 67.8 L205.7 68.2 L207.2 68.5 L208.6 68.8 L210.1 69.1 L211.6 69.4 L213.0 69.7 L214.5 70.0 L216.0 70.2 L217.5 70.5 L218.9 70.8 L220.4 71.0 L221.9 71.3 L223.4 71.5 L224.9 71.7 L226.4 72.0 L227.8 72.2 L229.3 72.4 L230.8 72.6 L232.3 72.8 L233.8 73.0 L235.3 73.1 L236.8 73.3 L238.3 73.5 L239.8 73.7 L241.3 73.8 L242.8 74.0 L244.3 74.1 L245.8 74.3 L247.3 74.4 L248.8 74.5 L250.3 74.7 L251.8 74.8 L253.3 74.9 L254.8 75.0 L256.3 75.1 L257.8 75.3 L259.4 75.4 L260.9 75.5 L262.4 75.6 L263.9 75.7 L265.4 75.8 L266.9 75.9 L268.4 75.9 L269.9 76.0 L271.4 76.1 L272.9 76.2 L274.4 76.3 L275.9 76.4 L277.4 76.4 L278.9 76.5 L280.4 76.6 L281.9 76.7 L283.4 76.7 L284.9 76.8 L286.4 76.9 L287.9 77.0 L289.4 77.0 L290.9 77.1 L292.4 77.2 L293.9 77.2 L295.4 77.3 L296.9 77.4 L298.4 77.5 L299.9 77.5 L301.4 77.6 L302.9 77.7 L304.3 77.7 L305.8 77.8 L307.3 77.9 L308.8 77.9 L310.3 78.0 L311.8 78.0 L313.3 78.1 L314.8 78.2 L316.3 78.2 L317.8 78.3 L319.3 78.4 L320.8 78.4 L322.3 78.5 L323.8 78.5 L325.3 78.6 L326.8 78.6 L328.2 78.7 L329.7 78.8 L331.2 78.8 L332.7 78.9 L334.2 78.9 L335.7 79.0 L337.3 79.0 L338.8 79.1 L340.3 79.2 L341.8 79.2 L343.3 79.3 L344.8 79.3 L346.3 79.4 L347.8 79.4 L349.3 79.5 L350.8 79.5 L352.4 79.6 L353.9 79.6 L355.4 79.7 L356.9 79.7 L358.4 79.8 L360.0 79.8 L361.5 79.9 L363.0 80.0 L364.5 80.0 L366.0 80.1 L367.6 80.2 L369.1 80.3 L370.6 80.4 L372.1 80.5 L373.6 80.6 L375.1 80.7 L376.7 80.8 L378.2 80.9 L379.7 81.1 L381.2 81.2 L382.7 81.4 L384.2 81.6 L385.7 81.7 L387.2 81.9 L388.7 82.1 L390.1 82.4 L391.6 82.6 L393.1 82.8 L394.6 83.1 L396.0 83.4 L397.5 83.7 L399.0 84.0 L400.4 84.3 L401.9 84.7 L403.3 85.0 L404.7 85.4 L406.2 85.8 L407.6 86.2 L409.0 86.7 L410.4 87.1 L411.8 87.6 L413.2 88.1 L414.6 88.6 L416.0 89.2 L417.4 89.7 L418.7 90.3 L420.1 90.9 L421.4 91.6 L422.8 92.2 L424.1 92.9 L425.4 93.6 L426.7 94.3 L428.0 95.1 L429.3 95.8 L430.6 96.6 L431.9 97.4 L433.1 98.2 L434.4 99.1 L435.6 99.9 L436.9 100.8 L438.1 101.7 L439.3 102.6 L440.5 103.5 L441.6 104.5 L442.8 105.5 L443.9 106.4 L445.1 107.4 L446.2 108.4 L447.3 109.5 L448.4 110.5 L449.5 111.6 L450.5 112.7 L451.6 113.8 L452.6 114.9 L453.6 116.0 L454.6 117.1 L455.6 118.3 L456.6 119.4 L457.5 120.6 L458.4 121.8 L459.4 123.0 L460.3 124.2 L461.1 125.4 L462.0 126.7 L462.8 127.9 L463.7 129.2 L464.5 130.5 L465.2 131.7 L466.0 133.0 L466.7 134.3 L467.5 135.7 L468.2 137.0 L468.9 138.3 L469.5 139.7 L470.2 141.0 L470.8 142.4 L471.4 143.7 L472.0 145.1 L472.5 146.5 L473.1 147.9 L473.6 149.3 L474.1 150.7 L474.6 152.1 L475.1 153.5 L475.6 155.0 L476.1 156.4 L476.5 157.8 L476.9 159.3 L477.4 160.7 L477.8 162.2 L478.1 163.6 L478.5 165.1 L478.9 166.5 L479.3 168.0 L479.6 169.4 L479.9 170.9 L480.3 172.4 L480.6 173.9 L480.9 175.3 L481.2 176.8 L481.5 178.3 L481.8 179.8 L482.1 181.2 L482.3 182.7 L482.6 184.2 L482.9 185.7 L483.1 187.2 L483.4 188.6 L483.6 190.1 L483.9 191.6 L484.1 193.1 L484.3 194.6 L484.5 196.1 L484.8 197.6 L485.0 199.1 L485.2 200.5 L485.4 202.0 L485.6 203.5 L485.8 205.0 L486.0 206.5 L486.2 208.0 L486.4 209.5 L486.6 211.0 L486.8 212.5 L487.0 214.0 L487.2 215.4 L487.3 216.9 L487.5 218.4 L487.7 219.9 L487.9 221.4 L488.1 222.9 L488.2 224.4 L488.4 225.9 L488.6 227.4 L488.7 228.9 L488.9 230.4 L489.1 231.9 L489.2 233.4 L489.4 234.8 L489.6 236.3 L489.7 237.8 L489.9 239.3 L490.0 240.8 L490.2 242.3 L490.3 243.8 L490.5 245.3 L490.7 246.8 L490.8 248.3 L491.0 249.8 L491.1 251.3 L491.3 252.8 L491.4 254.3 L491.6 255.8 L491.7 257.3 L491.9 258.8 L492.0 260.2 L492.2 261.7 L492.3 263.2 L492.5 264.7 L492.6 266.2 L492.8 267.7 L492.9 269.2 L493.1 270.7 L493.2 272.2 L493.4 273.7 L493.5 275.2 L493.7 276.7 L493.8 278.2 L494.0 279.7 L494.2 281.2 L494.3 282.7 L494.5 284.2 L494.6 285.7 L494.8 287.2 L495.0 288.7 L495.1 290.2 L495.3 291.7 L495.5 293.2 L495.6 294.6 L495.8 296.1 L496.0 297.6 L496.1 299.1 L496.3 300.6 L496.5 302.1 L496.7 303.6 L496.9 305.1 L497.0 306.6 L497.2 308.1 L497.4 309.6 L497.6 311.1 L497.8 312.6 L498.0 314.1 L498.2 315.6 L498.4 317.1 L498.6 318.6 L498.8 320.1 L499.0 321.6 L499.2 323.1 L499.4 324.6 L499.7 326.1 L499.9 327.6 L500.1 329.1 L500.3 330.5 L500.6 332.0 L500.8 333.5 L501.1 335.0 L501.3 336.5 L501.6 338.0 L501.8 339.5 L502.1 341.0 L502.4 342.5 L502.7 343.9 L503.0 345.4 L503.3 346.9 L503.7 348.3 L504.0 349.8 L504.4 351.2 L504.9 352.6 L505.3 354.0 L505.8 355.4 L506.3 356.7 L506.8 358.1 L507.4 359.4 L508.0 360.7 L508.7 362.0 L509.3 363.3 L510.1 364.6 L510.8 365.8 L511.6 367.0 L512.5 368.2 L513.4 369.3 L514.3 370.5 L515.3 371.6 L516.3 372.7 L517.4 373.7 L518.5 374.8 L519.6 375.8 L520.7 376.9 L521.9 377.9 L523.0 378.9 L524.2 379.9 L525.4 380.8 L526.7 381.8 L527.9 382.8 L529.1 383.8 L530.4 384.7 L531.6 385.7 L532.8 386.6 L534.1 387.6 L535.3 388.6 L536.5 389.5 L537.7 390.5 L538.9 391.5 L540.1 392.5 L541.2 393.5 L542.4 394.5 L543.5 395.5 L544.6 396.5 L545.7 397.5 L546.7 398.6 L547.8 399.6 L548.9 400.7 L549.9 401.7 L550.9 402.8 L551.9 403.8 L552.9 404.9 L554.0 406.0 L554.9 407.1 L555.9 408.2 L556.9 409.3 L557.9 410.4 L558.9 411.5 L559.8 412.6 L560.8 413.7 L561.8 414.9 L562.8 416.0 L563.7 417.1 L564.7 418.2 L565.7 419.4 L566.7 420.5 L567.7 421.7 L568.6 422.8 L569.6 424.0 L570.6 425.1 L571.6 426.3 L572.5 427.5 L573.5 428.6 L574.5 429.8 L575.4 431.0 L576.4 432.2 L577.4 433.4 L578.3 434.5 L579.2 435.7 L580.2 436.9 L581.1 438.1 L582.0 439.4 L582.9 440.6 L583.8 441.8 L584.6 443.0 L585.5 444.3 L586.4 445.5 L587.2 446.7 L588.0 448.0 L588.9 449.2 L589.7 450.5 L590.5 451.7 L591.3 453.0 L592.0 454.3 L592.8 455.5 L593.6 456.8 L594.3 458.1 L595.1 459.4 L595.8 460.7 L596.6 462.0 L597.3 463.3 L598.0 464.6 L598.7 465.9 L599.5 467.2 L600.2 468.5 L600.9 469.8 L601.6 471.1 L602.2 472.5 L602.9 473.8 L603.6 475.1 L604.3 476.5 L605.0 477.8 L605.6 479.1 L606.3 480.5 L607.0 481.8 L607.6 483.2 L608.3 484.5 L609.0 485.9 L609.6 487.2 L610.3 488.6 L610.9 490.0 L611.6 491.3 L612.2 492.7 L612.9 494.1 L613.6 495.4 L614.2 496.8 L614.9 498.2 L615.5 499.6 L616.2 500.9 L616.9 502.3 L617.5 503.7 L618.2 505.1 L618.9 506.5 L619.6 507.8 L620.3 509.2 L621.0 510.6 L621.8 511.9 L622.5 513.2 L623.3 514.6 L624.1 515.9 L624.9 517.2 L625.8 518.5 L626.7 519.7 L627.6 521.0 L628.5 522.2 L629.5 523.3 L630.5 524.5 L631.5 525.5 L632.5 526.6 L633.6 527.5 L634.7 528.5 L635.9 529.3 L637.1 530.1 L638.3 530.9 L639.5 531.6 L640.8 532.2 L642.1 532.7 L643.5 533.2 L644.8 533.7 L646.2 534.1 L647.6 534.5 L649.1 534.8 L650.5 535.1 L652.0 535.4 L653.4 535.6 L654.9 535.8 L656.4 536.0 L657.9 536.1 L659.5 536.3 L661.0 536.4 L662.5 536.5 L664.0 536.6 L665.5 536.7 L667.1 536.7 L668.6 536.8 L670.1 536.9 L671.6 537.0 L673.1 537.0 L674.7 537.1 L676.2 537.1 L677.7 537.2 L679.2 537.2 L680.7 537.2 L682.2 537.3 L683.7 537.3 L685.2 537.3 L686.8 537.3 L688.3 537.3 L689.8 537.4 L691.3 537.4 L692.8 537.4 L694.3 537.4 L695.8 537.4 L697.3 537.4 L698.8 537.4 L700.3 537.3 L701.8 537.3 L703.3 537.3 L704.8 537.3 L706.3 537.3 L707.8 537.3 L709.3 537.3 L710.8 537.2 L712.3 537.2 L713.8 537.2 L715.3 537.2 L716.8 537.1 L718.3 537.1 L719.8 537.1 L721.3 537.1 L722.8 537.0 L724.3 537.0 L725.8 537.0 L727.3 537.0 L728.9 536.9 L730.4 536.9 L731.9 536.9 L733.4 536.9 L734.9 536.8 L736.4 536.8 L737.9 536.8 L739.4 536.8 L740.9 536.8 L742.4 536.8 L743.9 536.7 L745.4 536.7 L746.9 536.7 L748.4 536.7 L749.9 536.7 L751.4 536.7 L753.0 536.7 L754.5 536.7 L756.0 536.8 L757.5 536.8 L759.0 536.8 L760.5 536.8 L762.0 536.8 L763.5 536.9 L765.0 536.9 L766.5 536.9 L768.0 537.0 L769.5 537.0 L771.0 537.1 L772.5 537.1 L774.0 537.2 L775.5 537.2 L777.0 537.3 L778.5 537.4 L780.0 537.4 L781.5 537.5 L783.0 537.6 L784.5 537.7 L786.0 537.8 L787.5 537.9 L789.0 537.9 L790.5 538.0 L792.0 538.1 L793.5 538.2 L795.0 538.3 L796.4 538.4 L797.9 538.5 L799.4 538.5 L800.9 538.6 L802.4 538.7 L803.9 538.8 L805.4 538.9 L806.9 538.9 L808.4 539.0 L809.9 539.1 L811.4 539.1 L812.9 539.2 L814.4 539.2 L815.9 539.3 L817.4 539.3 L818.9 539.4 L820.4 539.4 L821.9 539.4 L823.4 539.5 L824.9 539.5 L826.4 539.5 L827.9 539.6 L829.4 539.6 L830.9 539.6 L832.4 539.6 L833.9 539.7 L835.4 539.7 L836.9 539.7 L838.4 539.7 L839.9 539.7 L841.4 539.7 L842.9 539.7 L844.4 539.8 L846.0 539.8 L847.5 539.8 L849.0 539.8 L850.5 539.8 L852.0 539.8 L853.5 539.8 L855.0 539.8 L856.5 539.8 L858.0 539.8 L859.5 539.8 L861.0 539.8 L862.5 539.8 L864.0 539.8 L865.5 539.8 L867.0 539.8 L868.5 539.8 L870.0 539.8 L871.5 539.7 L873.0 539.7 L874.5 539.7 L876.0 539.7 L877.5 539.7 L879.1 539.7 L880.6 539.7 L882.1 539.7 L883.6 539.7 L885.1 539.7 L886.6 539.7 L888.1 539.7 L889.6 539.7 L891.1 539.7 L892.6 539.7 L894.1 539.7 L895.6 539.7 L897.1 539.7 L898.6 539.7 L900.1 539.7 L901.6 539.7 L903.1 539.7 L904.6 539.7 L906.1 539.7 L907.6 539.7 L909.1 539.7 L910.6 539.7 L912.1 539.7 L913.6 539.7 L915.1 539.7 L916.6 539.7 L918.1 539.7 L919.6 539.7 L921.1 539.7 L922.6 539.7 L924.2 539.7 L925.7 539.7 L927.2 539.7 L928.7 539.7 L930.2 539.7 L931.7 539.7 L933.2 539.7 L934.7 539.7 L936.2 539.7 L937.7 539.7" fill="none" stroke="#00f" stroke-width="2.15" stroke-linejoin="round" stroke-linecap="round"/>
<path d="M145.8 54.3 L147.4 54.3 L148.9 54.3 L150.4 54.3 L151.9 54.4 L153.4 54.5 L154.8 54.7 L156.3 54.9 L157.8 55.1 L159.3 55.4 L160.7 55.7 L162.2 56.0 L163.6 56.3 L165.1 56.6 L166.6 57.0 L168.0 57.4 L169.4 57.8 L170.9 58.2 L172.3 58.6 L173.8 59.0 L175.2 59.5 L176.7 59.9 L178.1 60.3 L179.5 60.8 L181.0 61.2 L182.4 61.6 L183.9 62.0 L185.3 62.5 L186.8 62.9 L188.2 63.3 L189.6 63.7 L191.1 64.1 L192.5 64.5 L194.0 64.9 L195.5 65.3 L196.9 65.6 L198.4 66.0 L199.8 66.4 L201.3 66.7 L202.7 67.1 L204.2 67.4 L205.7 67.8 L207.1 68.1 L208.6 68.4 L210.1 68.7 L211.5 69.0 L213.0 69.3 L214.5 69.6 L215.9 69.9 L217.4 70.2 L218.9 70.4 L220.4 70.7 L221.8 70.9 L223.3 71.2 L224.8 71.4 L226.3 71.7 L227.8 71.9 L229.3 72.1 L230.8 72.3 L232.2 72.5 L233.7 72.7 L235.2 72.9 L236.7 73.1 L238.2 73.2 L239.7 73.4 L241.2 73.6 L242.7 73.7 L244.2 73.9 L245.7 74.0 L247.2 74.2 L248.7 74.3 L250.2 74.4 L251.7 74.6 L253.2 74.7 L254.7 74.8 L256.2 74.9 L257.7 75.0 L259.2 75.1 L260.7 75.2 L262.2 75.3 L263.7 75.4 L265.2 75.5 L266.7 75.6 L268.2 75.7 L269.7 75.8 L271.2 75.9 L272.7 76.0 L274.2 76.0 L275.7 76.1 L277.2 76.2 L278.7 76.3 L280.2 76.3 L281.7 76.4 L283.2 76.5 L284.7 76.5 L286.2 76.6 L287.7 76.7 L289.2 76.7 L290.7 76.8 L292.2 76.9 L293.7 76.9 L295.2 77.0 L296.7 77.1 L298.2 77.1 L299.7 77.2 L301.2 77.2 L302.7 77.3 L304.2 77.4 L305.7 77.4 L307.2 77.5 L308.7 77.5 L310.2 77.6 L311.7 77.7 L313.2 77.7 L314.7 77.8 L316.2 77.8 L317.7 77.9 L319.2 77.9 L320.7 78.0 L322.2 78.1 L323.7 78.1 L325.2 78.2 L326.7 78.2 L328.2 78.3 L329.7 78.3 L331.2 78.4 L332.7 78.5 L334.2 78.5 L335.7 78.6 L337.2 78.6 L338.7 78.7 L340.2 78.7 L341.7 78.8 L343.2 78.9 L344.7 78.9 L346.2 79.0 L347.7 79.1 L349.2 79.1 L350.7 79.2 L352.2 79.2 L353.7 79.3 L355.2 79.4 L356.7 79.4 L358.2 79.5 L359.7 79.6 L361.2 79.6 L362.8 79.7 L364.3 79.8 L365.8 79.9 L367.3 80.0 L368.8 80.1 L370.3 80.2 L371.8 80.3 L373.3 80.4 L374.8 80.5 L376.3 80.6 L377.8 80.7 L379.3 80.9 L380.8 81.0 L382.3 81.2 L383.8 81.4 L385.3 81.5 L386.8 81.7 L388.3 81.9 L389.8 82.1 L391.3 82.4 L392.7 82.6 L394.2 82.9 L395.7 83.1 L397.1 83.4 L398.6 83.7 L400.1 84.0 L401.5 84.3 L403.0 84.7 L404.4 85.0 L405.9 85.4 L407.3 85.8 L408.7 86.2 L410.1 86.6 L411.6 87.1 L413.0 87.5 L414.4 88.0 L415.8 88.5 L417.2 89.1 L418.6 89.6 L419.9 90.2 L421.3 90.8 L422.7 91.4 L424.0 92.0 L425.4 92.7 L426.7 93.4 L428.1 94.1 L429.4 94.8 L430.7 95.6 L432.0 96.3 L433.3 97.1 L434.5 97.9 L435.8 98.8 L437.1 99.6 L438.3 100.5 L439.5 101.4 L440.7 102.3 L441.9 103.2 L443.1 104.2 L444.2 105.1 L445.4 106.1 L446.5 107.2 L447.6 108.2 L448.7 109.2 L449.7 110.3 L450.8 111.4 L451.8 112.5 L452.8 113.6 L453.8 114.8 L454.8 115.9 L455.7 117.1 L456.6 118.3 L457.5 119.5 L458.4 120.7 L459.3 121.9 L460.1 123.2 L461.0 124.4 L461.8 125.7 L462.6 127.0 L463.3 128.3 L464.1 129.6 L464.8 130.9 L465.5 132.2 L466.2 133.6 L466.9 134.9 L467.6 136.3 L468.2 137.6 L468.8 139.0 L469.4 140.4 L470.0 141.7 L470.6 143.1 L471.1 144.5 L471.6 145.9 L472.2 147.3 L472.7 148.7 L473.2 150.1 L473.6 151.6 L474.1 153.0 L474.5 154.4 L474.9 155.8 L475.4 157.3 L475.8 158.7 L476.1 160.2 L476.5 161.6 L476.9 163.1 L477.2 164.5 L477.6 166.0 L477.9 167.4 L478.2 168.9 L478.5 170.4 L478.8 171.8 L479.1 173.3 L479.4 174.8 L479.7 176.3 L479.9 177.7 L480.2 179.2 L480.4 180.7 L480.7 182.2 L480.9 183.7 L481.2 185.2 L481.4 186.7 L481.6 188.2 L481.8 189.7 L482.0 191.1 L482.3 192.6 L482.5 194.1 L482.7 195.6 L482.9 197.1 L483.1 198.6 L483.3 200.1 L483.5 201.6 L483.7 203.1 L483.9 204.6 L484.1 206.1 L484.3 207.6 L484.5 209.1 L484.7 210.6 L484.9 212.1 L485.1 213.5 L485.3 215.0 L485.5 216.5 L485.7 218.0 L485.9 219.5 L486.1 221.0 L486.3 222.5 L486.5 223.9 L486.7 225.4 L486.9 226.9 L487.1 228.4 L487.3 229.9 L487.5 231.4 L487.7 232.9 L487.9 234.3 L488.0 235.8 L488.2 237.3 L488.4 238.8 L488.6 240.3 L488.8 241.8 L489.0 243.2 L489.2 244.7 L489.4 246.2 L489.5 247.7 L489.7 249.2 L489.9 250.7 L490.1 252.2 L490.2 253.7 L490.4 255.1 L490.6 256.6 L490.7 258.1 L490.9 259.6 L491.1 261.1 L491.2 262.6 L491.4 264.1 L491.5 265.6 L491.7 267.1 L491.8 268.6 L492.0 270.1 L492.1 271.6 L492.2 273.1 L492.4 274.6 L492.5 276.1 L492.6 277.6 L492.8 279.1 L492.9 280.6 L493.0 282.1 L493.1 283.6 L493.3 285.1 L493.4 286.6 L493.5 288.1 L493.6 289.6 L493.8 291.1 L493.9 292.6 L494.0 294.1 L494.2 295.6 L494.3 297.1 L494.4 298.7 L494.6 300.2 L494.7 301.7 L494.9 303.2 L495.0 304.7 L495.2 306.2 L495.4 307.7 L495.5 309.2 L495.7 310.7 L495.9 312.1 L496.1 313.6 L496.3 315.1 L496.5 316.6 L496.7 318.1 L497.0 319.6 L497.2 321.1 L497.4 322.6 L497.7 324.0 L498.0 325.5 L498.2 327.0 L498.5 328.5 L498.8 329.9 L499.1 331.4 L499.5 332.9 L499.8 334.3 L500.1 335.8 L500.5 337.2 L500.9 338.7 L501.3 340.1 L501.7 341.6 L502.1 343.0 L502.5 344.4 L503.0 345.9 L503.5 347.3 L504.0 348.7 L504.6 350.0 L505.1 351.4 L505.7 352.8 L506.4 354.1 L507.0 355.4 L507.7 356.7 L508.5 358.0 L509.2 359.3 L510.0 360.5 L510.8 361.7 L511.7 363.0 L512.6 364.2 L513.5 365.3 L514.4 366.5 L515.3 367.6 L516.3 368.8 L517.3 369.9 L518.3 371.0 L519.3 372.1 L520.3 373.1 L521.4 374.2 L522.4 375.2 L523.5 376.3 L524.6 377.3 L525.7 378.3 L526.8 379.3 L527.9 380.3 L529.0 381.3 L530.2 382.3 L531.3 383.3 L532.5 384.2 L533.6 385.2 L534.7 386.2 L535.9 387.2 L537.0 388.2 L538.2 389.2 L539.3 390.2 L540.5 391.1 L541.6 392.1 L542.8 393.1 L543.9 394.2 L545.0 395.2 L546.1 396.2 L547.2 397.2 L548.3 398.3 L549.4 399.3 L550.5 400.4 L551.6 401.5 L552.6 402.5 L553.7 403.6 L554.8 404.7 L555.8 405.8 L556.8 406.9 L557.9 408.0 L558.9 409.1 L559.9 410.3 L560.9 411.4 L561.9 412.5 L562.9 413.7 L563.9 414.8 L564.9 416.0 L565.8 417.1 L566.8 418.3 L567.7 419.5 L568.7 420.7 L569.6 421.8 L570.5 423.0 L571.4 424.2 L572.3 425.4 L573.2 426.7 L574.1 427.9 L575.0 429.1 L575.9 430.3 L576.7 431.6 L577.6 432.8 L578.4 434.0 L579.2 435.3 L580.1 436.5 L580.9 437.8 L581.7 439.1 L582.5 440.3 L583.2 441.6 L584.0 442.9 L584.8 444.2 L585.5 445.5 L586.3 446.8 L587.0 448.0 L587.7 449.4 L588.4 450.7 L589.1 452.0 L589.8 453.3 L590.5 454.6 L591.2 455.9 L591.9 457.2 L592.5 458.6 L593.2 459.9 L593.8 461.2 L594.5 462.6 L595.1 463.9 L595.8 465.3 L596.4 466.6 L597.1 468.0 L597.7 469.3 L598.3 470.7 L598.9 472.0 L599.6 473.4 L600.2 474.8 L600.8 476.1 L601.4 477.5 L602.1 478.9 L602.7 480.2 L603.3 481.6 L603.9 483.0 L604.6 484.3 L605.2 485.7 L605.8 487.1 L606.5 488.5 L607.1 489.8 L607.8 491.2 L608.4 492.6 L609.0 494.0 L609.7 495.4 L610.4 496.7 L611.0 498.1 L611.7 499.5 L612.4 500.9 L613.1 502.3 L613.8 503.6 L614.5 505.0 L615.2 506.4 L615.9 507.8 L616.6 509.1 L617.4 510.5 L618.1 511.8 L618.9 513.2 L619.7 514.5 L620.5 515.8 L621.3 517.1 L622.2 518.3 L623.0 519.5 L623.9 520.7 L624.8 521.9 L625.7 523.1 L626.7 524.2 L627.7 525.2 L628.7 526.2 L629.7 527.2 L630.8 528.2 L631.9 529.0 L633.0 529.9 L634.1 530.7 L635.3 531.4 L636.5 532.1 L637.8 532.7 L639.1 533.2 L640.4 533.7 L641.7 534.2 L643.1 534.6 L644.5 535.0 L645.9 535.3 L647.4 535.5 L648.9 535.8 L650.3 536.0 L651.8 536.2 L653.3 536.3 L654.9 536.4 L656.4 536.5 L657.9 536.6 L659.5 536.7 L661.0 536.7 L662.6 536.7 L664.2 536.8 L665.7 536.8 L667.3 536.8 L668.8 536.8 L670.4 536.8 L671.9 536.9 L673.4 536.9 L675.0 536.9 L676.5 536.9 L678.0 536.9 L679.5 536.9 L681.1 536.9 L682.6 536.9 L684.1 536.9 L685.6 536.9 L687.1 536.9 L688.6 536.9 L690.2 536.9 L691.7 536.8 L693.2 536.8 L694.7 536.8 L696.2 536.8 L697.7 536.8 L699.2 536.8 L700.7 536.8 L702.2 536.7 L703.7 536.7 L705.2 536.7 L706.6 536.7 L708.1 536.7 L709.6 536.6 L711.1 536.6 L712.6 536.6 L714.1 536.6 L715.6 536.6 L717.1 536.5 L718.6 536.5 L720.1 536.5 L721.6 536.5 L723.1 536.5 L724.5 536.4 L726.0 536.4 L727.5 536.4 L729.0 536.4 L730.5 536.4 L732.0 536.3 L733.5 536.3 L735.0 536.3 L736.5 536.3 L738.0 536.3 L739.5 536.3 L741.0 536.3 L742.5 536.3 L744.0 536.2 L745.5 536.2 L747.0 536.2 L748.6 536.2 L750.1 536.2 L751.6 536.2 L753.1 536.2 L754.6 536.3 L756.1 536.3 L757.6 536.3 L759.1 536.3 L760.6 536.3 L762.1 536.3 L763.7 536.4 L765.2 536.4 L766.7 536.4 L768.2 536.5 L769.7 536.5 L771.2 536.6 L772.7 536.6 L774.2 536.7 L775.7 536.7 L777.2 536.8 L778.7 536.9 L780.2 536.9 L781.7 537.0 L783.2 537.1 L784.7 537.2 L786.2 537.3 L787.7 537.3 L789.2 537.4 L790.6 537.5 L792.1 537.6 L793.6 537.7 L795.1 537.8 L796.6 537.9 L798.1 538.0 L799.6 538.0 L801.1 538.1 L802.6 538.2 L804.1 538.3 L805.6 538.4 L807.0 538.4 L808.5 538.5 L810.0 538.5 L811.5 538.6 L813.0 538.7 L814.5 538.7 L816.0 538.8 L817.5 538.8 L819.0 538.9 L820.5 538.9 L822.0 538.9 L823.5 539.0 L825.0 539.0 L826.5 539.0 L828.0 539.1 L829.5 539.1 L831.0 539.1 L832.5 539.1 L834.0 539.2 L835.5 539.2 L837.0 539.2 L838.5 539.2 L840.0 539.2 L841.5 539.2 L843.0 539.3 L844.5 539.3 L846.0 539.3 L847.5 539.3 L849.0 539.3 L850.5 539.3 L852.1 539.3 L853.6 539.3 L855.1 539.3 L856.6 539.3 L858.1 539.3 L859.6 539.3 L861.1 539.3 L862.6 539.3 L864.1 539.3 L865.6 539.3 L867.1 539.3 L868.6 539.3 L870.1 539.3 L871.6 539.3 L873.1 539.2 L874.6 539.2 L876.1 539.2 L877.6 539.2 L879.1 539.2 L880.6 539.2 L882.1 539.2 L883.6 539.2 L885.1 539.2 L886.6 539.2 L888.1 539.2 L889.6 539.2 L891.1 539.2 L892.6 539.2 L894.1 539.2 L895.6 539.2 L897.1 539.2 L898.6 539.2 L900.1 539.2 L901.6 539.2 L903.1 539.2 L904.6 539.2 L906.1 539.2 L907.6 539.2 L909.1 539.2 L910.6 539.2 L912.1 539.2 L913.6 539.2 L915.1 539.2 L916.7 539.2 L918.2 539.2 L919.7 539.2 L921.2 539.2 L922.7 539.2 L924.2 539.2 L925.7 539.2 L927.2 539.2 L928.7 539.2 L930.2 539.2 L931.7 539.2 L933.2 539.2 L934.7 539.2 L936.2 539.2 L937.7 539.2" fill="none" stroke="#0f0" stroke-width="2.15" stroke-linejoin="round" stroke-linecap="round"/>
<line x1="693.60" y1="141.20" x2="766.20" y2="141.20" stroke="#000" stroke-width="2.0" stroke-linecap="butt"/>
<text x="773.00" y="151.20" font-size="31" text-anchor="start">Raw fiber</text>
<line x1="693.60" y1="180.50" x2="766.20" y2="180.50" stroke="#f00" stroke-width="2.0" stroke-linecap="butt"/>
<text x="773.00" y="190.50" font-size="31" text-anchor="start">TTABm</text>
<line x1="693.60" y1="219.40" x2="766.20" y2="219.40" stroke="#00f" stroke-width="2.0" stroke-linecap="butt"/>
<text x="773.00" y="229.40" font-size="31" text-anchor="start">LPb</text>
<line x1="693.60" y1="258.00" x2="766.20" y2="258.00" stroke="#0f0" stroke-width="2.0" stroke-linecap="butt"/>
<text x="773.00" y="268.00" font-size="31" text-anchor="start">LSb</text>
<text x="18.70" y="31.00" font-size="38" text-anchor="start">(a)</text>
<text x="31.00" y="307.70" font-size="38" text-anchor="middle" transform="rotate(-90 31.00 307.70)">Weight %</text>
<text x="416.30" y="693.80" font-size="36.9" text-anchor="start">Temperature (°C)</text>
<line x1="145.70" y1="763.00" x2="145.70" y2="1368.50" stroke="#000" stroke-width="2.8" stroke-linecap="butt"/>
<line x1="957.40" y1="763.00" x2="957.40" y2="1368.50" stroke="#000" stroke-width="2.8" stroke-linecap="butt"/>
<line x1="144.20" y1="764.50" x2="958.90" y2="764.50" stroke="#000" stroke-width="2.8" stroke-linecap="butt"/>
<line x1="144.20" y1="1367.00" x2="958.90" y2="1367.00" stroke="#000" stroke-width="2.8" stroke-linecap="butt"/>
<line x1="218.20" y1="1367.00" x2="218.20" y2="1378.50" stroke="#000" stroke-width="2.4" stroke-linecap="round"/>
<line x1="218.20" y1="762.40" x2="218.20" y2="766.60" stroke="#000" stroke-width="1.2" stroke-linecap="butt" stroke-opacity="0.35"/>
<line x1="324.98" y1="1367.00" x2="324.98" y2="1378.50" stroke="#000" stroke-width="2.4" stroke-linecap="round"/>
<line x1="324.98" y1="762.40" x2="324.98" y2="766.60" stroke="#000" stroke-width="1.2" stroke-linecap="butt" stroke-opacity="0.35"/>
<line x1="431.77" y1="1367.00" x2="431.77" y2="1378.50" stroke="#000" stroke-width="2.4" stroke-linecap="round"/>
<line x1="431.77" y1="762.40" x2="431.77" y2="766.60" stroke="#000" stroke-width="1.2" stroke-linecap="butt" stroke-opacity="0.35"/>
<line x1="538.55" y1="1367.00" x2="538.55" y2="1378.50" stroke="#000" stroke-width="2.4" stroke-linecap="round"/>
<line x1="538.55" y1="762.40" x2="538.55" y2="766.60" stroke="#000" stroke-width="1.2" stroke-linecap="butt" stroke-opacity="0.35"/>
<line x1="645.33" y1="1367.00" x2="645.33" y2="1378.50" stroke="#000" stroke-width="2.4" stroke-linecap="round"/>
<line x1="645.33" y1="762.40" x2="645.33" y2="766.60" stroke="#000" stroke-width="1.2" stroke-linecap="butt" stroke-opacity="0.35"/>
<line x1="752.12" y1="1367.00" x2="752.12" y2="1378.50" stroke="#000" stroke-width="2.4" stroke-linecap="round"/>
<line x1="752.12" y1="762.40" x2="752.12" y2="766.60" stroke="#000" stroke-width="1.2" stroke-linecap="butt" stroke-opacity="0.35"/>
<line x1="858.90" y1="1367.00" x2="858.90" y2="1378.50" stroke="#000" stroke-width="2.4" stroke-linecap="round"/>
<line x1="858.90" y1="762.40" x2="858.90" y2="766.60" stroke="#000" stroke-width="1.2" stroke-linecap="butt" stroke-opacity="0.35"/>
<line x1="164.81" y1="1367.00" x2="164.81" y2="1373.00" stroke="#000" stroke-width="2.4" stroke-linecap="round"/>
<line x1="164.81" y1="762.50" x2="164.81" y2="766.50" stroke="#000" stroke-width="1.0" stroke-linecap="butt" stroke-opacity="0.3"/>
<line x1="271.59" y1="1367.00" x2="271.59" y2="1373.00" stroke="#000" stroke-width="2.4" stroke-linecap="round"/>
<line x1="271.59" y1="762.50" x2="271.59" y2="766.50" stroke="#000" stroke-width="1.0" stroke-linecap="butt" stroke-opacity="0.3"/>
<line x1="378.38" y1="1367.00" x2="378.38" y2="1373.00" stroke="#000" stroke-width="2.4" stroke-linecap="round"/>
<line x1="378.38" y1="762.50" x2="378.38" y2="766.50" stroke="#000" stroke-width="1.0" stroke-linecap="butt" stroke-opacity="0.3"/>
<line x1="485.16" y1="1367.00" x2="485.16" y2="1373.00" stroke="#000" stroke-width="2.4" stroke-linecap="round"/>
<line x1="485.16" y1="762.50" x2="485.16" y2="766.50" stroke="#000" stroke-width="1.0" stroke-linecap="butt" stroke-opacity="0.3"/>
<line x1="591.94" y1="1367.00" x2="591.94" y2="1373.00" stroke="#000" stroke-width="2.4" stroke-linecap="round"/>
<line x1="591.94" y1="762.50" x2="591.94" y2="766.50" stroke="#000" stroke-width="1.0" stroke-linecap="butt" stroke-opacity="0.3"/>
<line x1="698.73" y1="1367.00" x2="698.73" y2="1373.00" stroke="#000" stroke-width="2.4" stroke-linecap="round"/>
<line x1="698.73" y1="762.50" x2="698.73" y2="766.50" stroke="#000" stroke-width="1.0" stroke-linecap="butt" stroke-opacity="0.3"/>
<line x1="805.51" y1="1367.00" x2="805.51" y2="1373.00" stroke="#000" stroke-width="2.4" stroke-linecap="round"/>
<line x1="805.51" y1="762.50" x2="805.51" y2="766.50" stroke="#000" stroke-width="1.0" stroke-linecap="butt" stroke-opacity="0.3"/>
<line x1="912.29" y1="1367.00" x2="912.29" y2="1373.00" stroke="#000" stroke-width="2.4" stroke-linecap="round"/>
<line x1="912.29" y1="762.50" x2="912.29" y2="766.50" stroke="#000" stroke-width="1.0" stroke-linecap="butt" stroke-opacity="0.3"/>
<line x1="134.20" y1="1306.90" x2="145.70" y2="1306.90" stroke="#000" stroke-width="2.4" stroke-linecap="round"/>
<line x1="955.30" y1="1306.90" x2="959.50" y2="1306.90" stroke="#000" stroke-width="1.2" stroke-linecap="butt" stroke-opacity="0.35"/>
<line x1="134.20" y1="1186.35" x2="145.70" y2="1186.35" stroke="#000" stroke-width="2.4" stroke-linecap="round"/>
<line x1="955.30" y1="1186.35" x2="959.50" y2="1186.35" stroke="#000" stroke-width="1.2" stroke-linecap="butt" stroke-opacity="0.35"/>
<line x1="134.20" y1="1065.80" x2="145.70" y2="1065.80" stroke="#000" stroke-width="2.4" stroke-linecap="round"/>
<line x1="955.30" y1="1065.80" x2="959.50" y2="1065.80" stroke="#000" stroke-width="1.2" stroke-linecap="butt" stroke-opacity="0.35"/>
<line x1="134.20" y1="945.25" x2="145.70" y2="945.25" stroke="#000" stroke-width="2.4" stroke-linecap="round"/>
<line x1="955.30" y1="945.25" x2="959.50" y2="945.25" stroke="#000" stroke-width="1.2" stroke-linecap="butt" stroke-opacity="0.35"/>
<line x1="134.20" y1="824.70" x2="145.70" y2="824.70" stroke="#000" stroke-width="2.4" stroke-linecap="round"/>
<line x1="955.30" y1="824.70" x2="959.50" y2="824.70" stroke="#000" stroke-width="1.2" stroke-linecap="butt" stroke-opacity="0.35"/>
<line x1="139.70" y1="1367.18" x2="145.70" y2="1367.18" stroke="#000" stroke-width="2.4" stroke-linecap="round"/>
<line x1="955.40" y1="1367.18" x2="959.40" y2="1367.18" stroke="#000" stroke-width="1.0" stroke-linecap="butt" stroke-opacity="0.3"/>
<line x1="139.70" y1="1246.62" x2="145.70" y2="1246.62" stroke="#000" stroke-width="2.4" stroke-linecap="round"/>
<line x1="955.40" y1="1246.62" x2="959.40" y2="1246.62" stroke="#000" stroke-width="1.0" stroke-linecap="butt" stroke-opacity="0.3"/>
<line x1="139.70" y1="1126.08" x2="145.70" y2="1126.08" stroke="#000" stroke-width="2.4" stroke-linecap="round"/>
<line x1="955.40" y1="1126.08" x2="959.40" y2="1126.08" stroke="#000" stroke-width="1.0" stroke-linecap="butt" stroke-opacity="0.3"/>
<line x1="139.70" y1="1005.53" x2="145.70" y2="1005.53" stroke="#000" stroke-width="2.4" stroke-linecap="round"/>
<line x1="955.40" y1="1005.53" x2="959.40" y2="1005.53" stroke="#000" stroke-width="1.0" stroke-linecap="butt" stroke-opacity="0.3"/>
<line x1="139.70" y1="884.98" x2="145.70" y2="884.98" stroke="#000" stroke-width="2.4" stroke-linecap="round"/>
<line x1="955.40" y1="884.98" x2="959.40" y2="884.98" stroke="#000" stroke-width="1.0" stroke-linecap="butt" stroke-opacity="0.3"/>
<line x1="139.70" y1="764.43" x2="145.70" y2="764.43" stroke="#000" stroke-width="2.4" stroke-linecap="round"/>
<line x1="955.40" y1="764.43" x2="959.40" y2="764.43" stroke="#000" stroke-width="1.0" stroke-linecap="butt" stroke-opacity="0.3"/>
<text x="0.00" y="0.00" font-size="33.6" text-anchor="middle" transform="translate(218.40 1413.20) scale(0.915,1)">100</text>
<text x="0.00" y="0.00" font-size="33.6" text-anchor="middle" transform="translate(325.18 1413.20) scale(0.915,1)">200</text>
<text x="0.00" y="0.00" font-size="33.6" text-anchor="middle" transform="translate(431.97 1413.20) scale(0.915,1)">300</text>
<text x="0.00" y="0.00" font-size="33.6" text-anchor="middle" transform="translate(538.75 1413.20) scale(0.915,1)">400</text>
<text x="0.00" y="0.00" font-size="33.6" text-anchor="middle" transform="translate(645.53 1413.20) scale(0.915,1)">500</text>
<text x="0.00" y="0.00" font-size="33.6" text-anchor="middle" transform="translate(752.32 1413.20) scale(0.915,1)">600</text>
<text x="0.00" y="0.00" font-size="33.6" text-anchor="middle" transform="translate(859.10 1413.20) scale(0.915,1)">700</text>
<text x="0.00" y="0.00" font-size="33.6" text-anchor="end" transform="translate(126.70 1315.50) scale(0.915,1)">-20</text>
<text x="0.00" y="0.00" font-size="33.6" text-anchor="end" transform="translate(126.70 1194.95) scale(0.915,1)">-15</text>
<text x="0.00" y="0.00" font-size="33.6" text-anchor="end" transform="translate(126.70 1074.40) scale(0.915,1)">-10</text>
<text x="0.00" y="0.00" font-size="33.6" text-anchor="end" transform="translate(126.70 953.85) scale(0.915,1)">-5</text>
<text x="0.00" y="0.00" font-size="33.6" text-anchor="end" transform="translate(126.70 833.30) scale(0.915,1)">0</text>
<path d="M145.8 825.4 L146.4 826.5 L147.0 828.2 L147.6 829.5 L148.2 829.4 L148.8 827.9 L149.4 826.6 L150.0 826.1 L150.6 826.1 L151.2 827.8 L151.8 830.1 L152.4 830.8 L153.0 830.3 L153.6 831.2 L154.2 832.8 L154.8 831.4 L155.4 829.0 L156.0 828.6 L156.6 830.1 L157.2 831.7 L157.8 833.0 L158.4 834.9 L159.0 836.9 L159.6 838.8 L160.2 839.7 L160.8 838.8 L161.4 837.4 L162.0 835.7 L162.6 834.6 L163.2 834.3 L163.8 833.9 L164.4 834.1 L165.0 834.9 L165.6 836.4 L166.2 838.5 L166.8 840.5 L167.4 841.1 L168.0 841.0 L168.6 839.1 L169.2 835.1 L169.8 832.5 L170.4 832.6 L171.0 835.0 L171.6 837.9 L172.2 839.6 L172.8 840.4 L173.4 841.8 L174.0 843.7 L174.6 843.4 L175.2 841.3 L175.8 839.6 L176.4 838.8 L177.0 837.7 L177.6 837.3 L178.2 838.0 L178.8 838.9 L179.4 840.3 L180.0 841.9 L180.6 841.9 L181.2 842.0 L181.8 842.8 L182.4 842.5 L183.0 840.9 L183.6 839.1 L184.2 837.7 L184.8 836.5 L185.4 836.6 L186.0 838.4 L186.6 839.9 L187.2 841.6 L187.8 843.5 L188.4 844.6 L189.0 843.7 L189.6 839.9 L190.2 837.3 L190.8 837.4 L191.4 837.4 L192.0 836.2 L192.6 836.1 L193.2 837.8 L193.8 838.9 L194.4 840.0 L195.0 840.6 L195.6 839.3 L196.2 838.0 L196.8 837.1 L197.4 835.7 L198.0 834.3 L198.6 833.3 L199.2 833.3 L199.8 833.8 L200.4 836.0 L201.0 839.4 L201.6 840.5 L202.2 839.1 L202.8 836.7 L203.4 834.8 L204.0 832.9 L204.6 831.6 L205.2 831.8 L205.8 832.1 L206.4 832.6 L207.0 834.3 L207.6 837.2 L208.2 838.7 L208.8 837.5 L209.4 835.4 L210.0 834.4 L210.6 833.9 L211.2 832.6 L211.8 831.6 L212.4 831.3 L213.0 832.2 L213.6 833.7 L214.2 834.1 L214.8 835.1 L215.4 835.1 L216.0 834.0 L216.6 833.8 L217.2 833.0 L217.8 831.0 L218.4 829.8 L219.0 831.1 L219.6 833.2 L220.2 835.2 L220.8 837.4 L221.4 838.5 L222.0 838.4 L222.6 836.9 L223.2 833.8 L223.8 831.6 L224.4 831.1 L225.0 831.5 L225.6 832.3 L226.2 832.8 L226.8 833.0 L227.4 833.7 L228.0 834.2 L228.6 834.4 L229.2 834.4 L229.8 833.7 L230.4 831.4 L231.0 829.3 L231.6 828.3 L232.2 827.6 L232.8 827.3 L233.4 828.3 L234.0 831.3 L234.6 833.7 L235.2 834.7 L235.8 834.0 L236.4 833.0 L237.0 833.0 L237.6 830.7 L238.2 827.0 L238.8 825.4 L239.4 827.2 L240.0 830.0 L240.6 832.8 L241.2 836.3 L241.8 838.0 L242.4 836.4 L243.0 833.9 L243.6 832.1 L244.2 829.6 L244.8 828.5 L245.4 829.1 L246.0 829.1 L246.6 829.4 L247.2 830.8 L247.8 832.2 L248.4 833.1 L249.0 832.7 L249.6 831.0 L250.2 829.6 L250.8 828.6 L251.4 827.9 L252.0 827.8 L252.6 828.2 L253.2 829.0 L253.8 830.1 L254.4 831.0 L255.0 831.9 L255.6 831.7 L256.2 830.2 L256.8 830.6 L257.4 830.2 L258.0 827.0 L258.6 825.1 L259.2 824.9 L259.8 827.6 L260.4 831.3 L261.0 832.2 L261.6 830.3 L262.2 828.5 L262.8 828.2 L263.4 828.2 L264.0 826.9 L264.6 825.6 L265.2 825.4 L265.8 826.1 L266.4 827.0 L267.0 827.4 L267.6 828.3 L268.2 829.3 L268.8 829.0 L269.4 829.1 L270.0 827.9 L270.6 825.7 L271.2 824.1 L271.8 823.6 L272.4 824.0 L273.0 824.7 L273.6 826.4 L274.2 828.8 L274.8 830.5 L275.4 831.1 L276.0 829.5 L276.6 827.5 L277.2 826.7 L277.8 825.5 L278.4 823.9 L279.0 824.6 L279.6 826.2 L280.2 826.4 L280.8 827.0 L281.4 827.6 L282.0 825.9 L282.6 823.5 L283.2 823.4 L283.8 824.8 L284.4 825.5 L285.0 825.4 L285.6 825.0 L286.2 825.9 L286.8 828.7 L287.4 830.5 L288.0 830.1 L288.6 829.0 L289.2 827.0 L289.8 824.8 L290.4 822.9 L291.0 822.5 L291.6 824.5 L292.2 826.6 L292.8 828.9 L293.4 831.1 L294.0 831.4 L294.6 828.7 L295.2 824.7 L295.8 821.8 L296.4 820.3 L297.0 820.5 L297.6 823.5 L298.2 828.5 L298.8 830.9 L299.4 828.7 L300.0 824.7 L300.6 821.7 L301.2 821.5 L301.8 824.3 L302.4 828.1 L303.0 831.0 L303.6 831.6 L304.2 829.3 L304.8 825.9 L305.4 822.2 L306.0 820.3 L306.6 822.0 L307.2 825.8 L307.8 830.3 L308.4 833.9 L309.0 833.5 L309.6 828.6 L310.2 823.9 L310.8 822.4 L311.4 825.1 L312.0 829.8 L312.6 831.7 L313.2 830.9 L313.8 827.8 L314.4 823.7 L315.0 820.5 L315.6 820.1 L316.2 823.5 L316.8 830.3 L317.4 834.7 L318.0 832.1 L318.6 826.1 L319.2 821.0 L319.8 818.8 L320.4 820.3 L321.0 824.3 L321.6 828.6 L322.2 829.5 L322.8 827.4 L323.4 824.8 L324.0 821.5 L324.6 818.9 L325.2 820.6 L325.8 825.4 L326.4 829.4 L327.0 831.0 L327.6 830.0 L328.2 825.4 L328.8 820.9 L329.4 821.8 L330.0 827.5 L330.6 832.2 L331.2 833.2 L331.8 831.9 L332.4 827.7 L333.0 821.8 L333.6 819.5 L334.2 821.6 L334.8 825.2 L335.4 828.6 L336.0 830.0 L336.6 828.7 L337.2 824.7 L337.8 819.6 L338.4 817.9 L339.0 822.2 L339.6 828.8 L340.2 832.4 L340.8 831.8 L341.4 828.7 L342.0 823.9 L342.6 819.6 L343.2 819.0 L343.8 823.7 L344.4 829.5 L345.0 832.2 L345.6 830.6 L346.2 826.5 L346.8 821.2 L347.4 819.0 L348.0 822.1 L348.6 826.9 L349.2 831.1 L349.8 832.9 L350.4 831.4 L351.0 827.5 L351.6 823.5 L352.2 821.2 L352.8 821.8 L353.4 825.8 L354.0 830.0 L354.6 830.6 L355.2 827.7 L355.8 822.6 L356.4 818.3 L357.0 818.4 L357.6 822.9 L358.2 829.4 L358.8 834.2 L359.4 833.9 L360.0 827.6 L360.6 819.8 L361.2 818.1 L361.8 823.3 L362.4 829.5 L363.0 831.9 L363.6 830.2 L364.2 827.3 L364.8 824.4 L365.4 822.8 L366.0 824.0 L366.6 826.3 L367.2 828.7 L367.8 830.0 L368.4 829.2 L369.0 826.7 L369.6 823.5 L370.2 822.1 L370.8 823.6 L371.4 827.4 L372.0 830.9 L372.6 832.0 L373.2 831.5 L373.8 829.5 L374.4 826.3 L375.0 823.7 L375.6 824.3 L376.2 828.0 L376.8 832.6 L377.4 834.3 L378.0 832.0 L378.6 827.8 L379.2 824.6 L379.8 823.5 L380.4 825.6 L381.0 831.1 L381.6 836.8 L382.2 839.8 L382.8 836.9 L383.4 829.4 L384.0 823.9 L384.6 823.9 L385.2 828.2 L385.8 835.4 L386.4 841.8 L387.0 843.0 L387.6 838.0 L388.2 829.6 L388.8 824.2 L389.4 825.4 L390.0 830.2 L390.6 836.0 L391.2 840.8 L391.8 841.2 L392.4 837.4 L393.0 831.8 L393.6 827.8 L394.2 827.7 L394.8 831.9 L395.4 837.1 L396.0 840.2 L396.6 839.7 L397.2 837.7 L397.8 835.0 L398.4 833.1 L399.0 833.8 L399.6 837.9 L400.2 844.1 L400.8 846.8 L401.4 843.7 L402.0 838.9 L402.6 835.1 L403.2 833.7 L403.8 834.6 L404.4 838.0 L405.0 843.3 L405.6 845.9 L406.2 844.8 L406.8 842.3 L407.4 839.5 L408.0 838.9 L408.6 840.6 L409.2 844.3 L409.8 848.5 L410.4 849.3 L411.0 845.8 L411.6 841.4 L412.2 839.7 L412.8 840.9 L413.4 844.4 L414.0 848.9 L414.6 851.5 L415.2 851.4 L415.8 849.0 L416.4 845.4 L417.0 843.0 L417.6 842.2 L418.2 843.6 L418.8 848.1 L419.4 852.7 L420.0 853.3 L420.6 850.7 L421.2 847.6 L421.8 847.3 L422.4 849.7 L423.0 853.0 L423.6 856.8 L424.2 859.7 L424.8 858.9 L425.4 855.7 L426.0 851.9 L426.6 849.5 L427.2 851.4 L427.8 855.9 L428.4 860.4 L429.0 862.7 L429.6 861.7 L430.2 858.7 L430.8 856.4 L431.4 857.4 L432.0 861.5 L432.6 865.9 L433.2 868.2 L433.8 867.6 L434.4 864.4 L435.0 861.1 L435.6 860.2 L436.2 861.4 L436.8 864.2 L437.4 868.2 L438.0 871.9 L438.6 871.3 L439.2 868.9 L439.8 866.0 L440.4 863.3 L441.0 863.4 L441.6 866.0 L442.2 869.7 L442.8 873.0 L443.4 874.7 L444.0 873.8 L444.6 872.2 L445.2 872.7 L445.8 874.6 L446.4 876.9 L447.0 879.5 L447.6 881.6 L448.2 882.2 L448.8 881.4 L449.4 879.0 L450.0 877.4 L450.6 878.9 L451.2 882.7 L451.8 886.7 L452.4 890.0 L453.0 891.8 L453.6 891.4 L454.2 887.8 L454.8 884.1 L455.4 884.9 L456.0 889.8 L456.6 895.7 L457.2 900.8 L457.8 902.7 L458.4 901.7 L459.0 899.5 L459.6 898.5 L460.2 898.4 L460.8 899.4 L461.4 902.5 L462.0 907.6 L462.6 912.4 L463.2 914.4 L463.8 914.6 L464.4 914.3 L465.0 914.5 L465.6 916.5 L466.2 920.2 L466.8 924.0 L467.4 927.6 L468.0 929.5 L468.6 930.4 L469.2 931.4 L469.8 933.2 L470.4 936.5 L471.0 940.9 L471.6 943.8 L472.2 945.2 L472.8 948.1 L473.4 951.0 L474.0 952.6 L474.6 954.0 L475.2 955.4 L475.8 957.7 L476.4 961.9 L477.0 966.0 L477.6 969.4 L478.2 973.3 L478.8 977.9 L479.4 981.9 L480.0 983.8 L480.6 985.1 L481.2 986.6 L481.8 989.1 L482.4 992.2 L483.0 995.7 L483.6 999.6 L484.2 1004.4 L484.8 1009.5 L485.4 1013.3 L486.0 1015.3 L486.6 1017.0 L487.2 1019.4 L487.8 1023.3 L488.4 1030.5 L489.0 1039.0 L489.6 1048.0 L490.2 1057.1 L490.8 1064.9 L491.4 1071.6 L492.0 1077.2 L492.6 1082.7 L493.2 1088.8 L493.8 1096.5 L494.4 1104.6 L495.0 1111.5 L495.6 1118.3 L496.2 1125.8 L496.8 1133.6 L497.4 1139.7 L498.0 1142.6 L498.6 1145.5 L499.2 1150.8 L499.8 1158.2 L500.4 1168.7 L501.0 1186.4 L501.6 1187.7 L502.2 1183.9 L502.8 1179.8 L503.4 1177.3 L504.0 1174.8 L504.6 1171.3 L505.2 1164.9 L505.8 1155.8 L506.4 1146.7 L507.0 1135.8 L507.6 1123.3 L508.2 1112.8 L508.8 1105.8 L509.4 1098.4 L510.0 1086.0 L510.6 1067.0 L511.2 1047.0 L511.8 1032.6 L512.4 1025.6 L513.0 1020.4 L513.6 1015.9 L514.2 1011.1 L514.8 1004.8 L515.4 997.5 L516.0 989.1 L516.6 973.1 L517.2 955.9 L517.8 944.3 L518.4 935.3 L519.0 928.6 L519.6 922.3 L520.2 916.6 L520.8 912.7 L521.4 910.0 L522.0 906.5 L522.6 902.3 L523.2 898.7 L523.8 894.8 L524.4 889.5 L525.0 882.6 L525.6 876.1 L526.2 872.7 L526.8 871.2 L527.4 871.1 L528.0 872.5 L528.6 874.5 L529.2 875.2 L529.8 872.6 L530.4 868.4 L531.0 864.2 L531.6 858.7 L532.2 853.3 L532.8 852.1 L533.4 855.5 L534.0 861.4 L534.6 866.0 L535.2 867.8 L535.8 868.5 L536.4 868.0 L537.0 864.6 L537.6 859.3 L538.2 854.0 L538.8 848.7 L539.4 846.0 L540.0 848.9 L540.6 855.5 L541.2 861.1 L541.8 864.3 L542.4 866.6 L543.0 865.7 L543.6 860.7 L544.2 855.5 L544.8 849.4 L545.4 844.9 L546.0 846.8 L546.6 852.5 L547.2 858.7 L547.8 863.1 L548.4 865.7 L549.0 866.8 L549.6 865.6 L550.2 861.6 L550.8 856.0 L551.4 851.8 L552.0 851.0 L552.6 853.0 L553.2 856.6 L553.8 859.8 L554.4 862.7 L555.0 865.4 L555.6 866.4 L556.2 864.4 L556.8 861.5 L557.4 859.3 L558.0 856.3 L558.6 853.1 L559.2 853.5 L559.8 857.6 L560.4 863.0 L561.0 868.1 L561.6 869.8 L562.2 868.4 L562.8 865.3 L563.4 862.7 L564.0 860.9 L564.6 859.0 L565.2 859.4 L565.8 862.5 L566.4 865.0 L567.0 866.6 L567.6 868.5 L568.2 870.6 L568.8 871.1 L569.4 868.8 L570.0 866.4 L570.6 865.3 L571.2 865.7 L571.8 866.7 L572.4 868.6 L573.0 870.6 L573.6 872.5 L574.2 874.7 L574.8 875.3 L575.4 874.9 L576.0 876.2 L576.6 876.9 L577.2 874.5 L577.8 872.5 L578.4 872.4 L579.0 874.4 L579.6 877.0 L580.2 879.4 L580.8 880.2 L581.4 880.5 L582.0 880.9 L582.6 879.6 L583.2 878.0 L583.8 877.7 L584.4 878.6 L585.0 880.7 L585.6 883.0 L586.2 885.4 L586.8 887.3 L587.4 888.0 L588.0 888.1 L588.6 887.6 L589.2 888.0 L589.8 887.6 L590.4 886.9 L591.0 888.3 L591.6 891.4 L592.2 894.6 L592.8 897.8 L593.4 900.2 L594.0 900.6 L594.6 900.5 L595.2 900.6 L595.8 900.3 L596.4 899.5 L597.0 900.1 L597.6 902.4 L598.2 905.8 L598.8 908.1 L599.4 908.5 L600.0 909.1 L600.6 909.9 L601.2 910.4 L601.8 909.8 L602.4 908.4 L603.0 908.5 L603.6 910.0 L604.2 911.9 L604.8 915.6 L605.4 920.2 L606.0 923.3 L606.6 924.3 L607.2 924.0 L607.8 923.2 L608.4 921.8 L609.0 922.4 L609.6 925.6 L610.2 928.7 L610.8 931.5 L611.4 934.2 L612.0 936.1 L612.6 936.4 L613.2 935.9 L613.8 934.8 L614.4 934.2 L615.0 934.1 L615.6 935.8 L616.2 939.5 L616.8 943.9 L617.4 946.7 L618.0 948.6 L618.6 949.9 L619.2 951.9 L619.8 954.1 L620.4 955.8 L621.0 956.5 L621.6 956.1 L622.2 957.6 L622.8 958.6 L623.4 957.2 L624.0 956.2 L624.6 956.0 L625.2 956.1 L625.8 956.2 L626.4 956.4 L627.0 955.6 L627.6 954.5 L628.2 955.0 L628.8 955.1 L629.4 951.8 L630.0 950.0 L630.6 947.6 L631.2 944.7 L631.8 942.7 L632.4 940.2 L633.0 936.6 L633.6 931.3 L634.2 925.4 L634.8 923.3 L635.4 924.3 L636.0 924.6 L636.6 924.9 L637.2 923.9 L637.8 920.2 L638.4 916.8 L639.0 913.9 L639.6 910.9 L640.2 907.8 L640.8 904.7 L641.4 901.2 L642.0 896.7 L642.6 891.1 L643.2 884.9 L643.8 879.2 L644.4 873.8 L645.0 870.4 L645.6 868.8 L646.2 867.7 L646.8 867.7 L647.4 867.8 L648.0 867.1 L648.6 865.1 L649.2 861.7 L649.8 857.6 L650.4 854.9 L651.0 854.6 L651.6 853.2 L652.2 851.5 L652.8 852.5 L653.4 854.5 L654.0 852.1 L654.6 846.2 L655.2 840.8 L655.8 836.5 L656.4 832.3 L657.0 829.8 L657.6 830.3 L658.2 831.9 L658.8 832.3 L659.4 831.8 L660.0 830.3 L660.6 826.9 L661.2 824.3 L661.8 823.2 L662.4 822.3 L663.0 822.8 L663.6 825.7 L664.2 828.8 L664.8 829.6 L665.4 828.2 L666.0 825.2 L666.6 820.2 L667.2 817.9 L667.8 819.3 L668.4 820.6 L669.0 822.2 L669.6 826.1 L670.2 830.6 L670.8 832.5 L671.4 830.1 L672.0 825.5 L672.6 821.1 L673.2 818.2 L673.8 817.3 L674.4 819.3 L675.0 823.6 L675.6 828.0 L676.2 831.1 L676.8 831.4 L677.4 829.0 L678.0 824.8 L678.6 819.0 L679.2 815.0 L679.8 815.6 L680.4 820.2 L681.0 827.3 L681.6 833.2 L682.2 834.5 L682.8 831.6 L683.4 827.6 L684.0 823.5 L684.6 819.5 L685.2 818.9 L685.8 820.9 L686.4 824.7 L687.0 830.7 L687.6 835.0 L688.2 835.5 L688.8 832.2 L689.4 825.9 L690.0 820.1 L690.6 817.4 L691.2 817.9 L691.8 821.2 L692.4 826.4 L693.0 831.9 L693.6 833.7 L694.2 831.6 L694.8 826.9 L695.4 821.3 L696.0 817.2 L696.6 815.8 L697.2 818.0 L697.8 824.2 L698.4 830.2 L699.0 832.2 L699.6 832.1 L700.2 830.7 L700.8 826.3 L701.4 821.0 L702.0 818.0 L702.6 819.6 L703.2 824.7 L703.8 829.6 L704.4 831.7 L705.0 830.5 L705.6 827.1 L706.2 823.1 L706.8 819.8 L707.4 817.0 L708.0 817.4 L708.6 821.6 L709.2 827.1 L709.8 831.1 L710.4 831.6 L711.0 829.9 L711.6 826.8 L712.2 821.2 L712.8 816.5 L713.4 815.6 L714.0 818.7 L714.6 824.3 L715.2 829.1 L715.8 831.1 L716.4 830.8 L717.0 828.1 L717.6 823.8 L718.2 819.2 L718.8 817.6 L719.4 818.8 L720.0 821.6 L720.6 826.2 L721.2 829.7 L721.8 830.4 L722.4 829.3 L723.0 826.6 L723.6 822.1 L724.2 818.6 L724.8 818.7 L725.4 822.3 L726.0 827.3 L726.6 831.2 L727.2 833.1 L727.8 831.2 L728.4 825.3 L729.0 819.4 L729.6 816.5 L730.2 816.4 L730.8 817.8 L731.4 822.1 L732.0 826.5 L732.6 828.1 L733.2 828.5 L733.8 827.6 L734.4 824.4 L735.0 820.4 L735.6 819.3 L736.2 820.6 L736.8 823.1 L737.4 826.9 L738.0 830.4 L738.6 831.0 L739.2 829.1 L739.8 826.1 L740.4 823.0 L741.0 820.6 L741.6 820.5 L742.2 822.5 L742.8 825.4 L743.4 827.8 L744.0 829.6 L744.6 830.1 L745.2 828.5 L745.8 825.6 L746.4 822.9 L747.0 822.5 L747.6 824.0 L748.2 825.0 L748.8 825.7 L749.4 827.5 L750.0 829.0 L750.6 827.8 L751.2 824.8 L751.8 822.4 L752.4 821.7 L753.0 821.7 L753.6 822.5 L754.2 825.4 L754.8 827.8 L755.4 828.6 L756.0 828.3 L756.6 826.2 L757.2 824.4 L757.8 823.8 L758.4 823.5 L759.0 823.9 L759.6 825.3 L760.2 828.1 L760.8 830.7 L761.4 829.7 L762.0 826.1 L762.6 822.3 L763.2 820.7 L763.8 821.0 L764.4 821.8 L765.0 824.8 L765.6 829.1 L766.2 830.9 L766.8 828.6 L767.4 824.2 L768.0 820.1 L768.6 816.7 L769.2 815.1 L769.8 816.9 L770.4 821.9 L771.0 827.8 L771.6 830.8 L772.2 829.9 L772.8 826.9 L773.4 822.4 L774.0 817.1 L774.6 814.5 L775.2 817.0 L775.8 823.1 L776.4 828.7 L777.0 831.7 L777.6 832.3 L778.2 829.2 L778.8 824.0 L779.4 818.8 L780.0 815.3 L780.6 816.5 L781.2 822.1 L781.8 828.0 L782.4 830.7 L783.0 830.3 L783.6 828.4 L784.2 825.2 L784.8 821.0 L785.4 817.4 L786.0 817.4 L786.6 821.1 L787.2 825.6 L787.8 829.1 L788.4 830.8 L789.0 829.8 L789.6 826.0 L790.2 820.9 L790.8 817.4 L791.4 817.4 L792.0 821.2 L792.6 827.1 L793.2 831.4 L793.8 832.7 L794.4 831.2 L795.0 827.0 L795.6 822.3 L796.2 819.6 L796.8 819.8 L797.4 821.8 L798.0 824.8 L798.6 827.4 L799.2 827.9 L799.8 827.0 L800.4 826.0 L801.0 824.5 L801.6 823.3 L802.2 822.9 L802.8 823.3 L803.4 825.7 L804.0 829.1 L804.6 830.0 L805.2 827.9 L805.8 825.5 L806.4 824.6 L807.0 825.0 L807.6 826.2 L808.2 826.8 L808.8 826.1 L809.4 826.5 L810.0 828.1 L810.6 828.7 L811.2 827.1 L811.8 825.3 L812.4 825.2 L813.0 825.2 L813.6 825.2 L814.2 825.2 L814.8 826.4 L815.4 826.3 L816.0 824.1 L816.6 824.3 L817.2 825.8 L817.8 823.8 L818.4 820.1 L819.0 819.4 L819.6 821.2 L820.2 825.1 L820.8 829.0 L821.4 830.7 L822.0 831.0 L822.6 828.4 L823.2 826.7 L823.8 828.0 L824.4 829.3 L825.0 830.8 L825.6 832.4 L826.2 832.4 L826.8 830.0 L827.4 826.2 L828.0 825.3 L828.6 826.4 L829.2 826.5 L829.8 825.8 L830.4 826.3 L831.0 829.7 L831.6 832.8 L832.2 833.0 L832.8 832.4 L833.4 831.5 L834.0 829.6 L834.6 826.6 L835.2 824.3 L835.8 824.0 L836.4 824.0 L837.0 824.5 L837.6 827.3 L838.2 829.5 L838.8 829.2 L839.4 827.7 L840.0 826.3 L840.6 824.0 L841.2 822.2 L841.8 824.1 L842.4 828.0 L843.0 829.8 L843.6 828.8 L844.2 827.5 L844.8 826.6 L845.4 826.2 L846.0 826.0 L846.6 823.2 L847.2 822.1 L847.8 823.9 L848.4 823.7 L849.0 823.1 L849.6 824.3 L850.2 824.2 L850.8 821.9 L851.4 819.3 L852.0 819.0 L852.6 820.5 L853.2 821.6 L853.8 822.1 L854.4 823.4 L855.0 825.2 L855.6 826.1 L856.2 824.6 L856.8 822.5 L857.4 821.9 L858.0 821.5 L858.6 821.8 L859.2 823.0 L859.8 825.3 L860.4 827.1 L861.0 828.0 L861.6 828.0 L862.2 826.5 L862.8 824.0 L863.4 821.3 L864.0 819.4 L864.6 818.7 L865.2 817.9 L865.8 819.5 L866.4 823.8 L867.0 827.4 L867.6 829.0 L868.2 827.8 L868.8 825.2 L869.4 823.4 L870.0 824.5 L870.6 827.2 L871.2 828.6 L871.8 828.6 L872.4 827.0 L873.0 823.7 L873.6 820.6 L874.2 819.2 L874.8 819.8 L875.4 820.3 L876.0 821.6 L876.6 824.4 L877.2 827.8 L877.8 831.6 L878.4 832.4 L879.0 827.9 L879.6 822.0 L880.2 820.4 L880.8 822.9 L881.4 823.3 L882.0 823.4 L882.6 825.1 L883.2 825.2 L883.8 825.4 L884.4 824.8 L885.0 822.6 L885.6 822.0 L886.2 823.4 L886.8 823.0 L887.4 823.2 L888.0 823.7 L888.6 824.0 L889.2 826.0 L889.8 827.8 L890.4 826.8 L891.0 823.5 L891.6 821.1 L892.2 820.3 L892.8 820.0 L893.4 820.8 L894.0 824.3 L894.6 825.7 L895.2 822.7 L895.8 818.9 L896.4 819.3 L897.0 822.9 L897.6 824.1 L898.2 822.1 L898.8 822.7 L899.4 826.3 L900.0 828.1 L900.6 827.3 L901.2 825.5 L901.8 823.9 L902.4 823.3 L903.0 824.0 L903.6 825.6 L904.2 827.2 L904.8 829.1 L905.4 831.0 L906.0 831.1 L906.6 829.7 L907.2 828.5 L907.8 825.7 L908.4 822.7 L909.0 821.8 L909.6 824.1 L910.2 826.4 L910.8 826.7 L911.4 826.3 L912.0 827.1 L912.6 828.5 L913.2 826.6 L913.8 822.7 L914.4 820.1 L915.0 818.5 L915.6 818.2 L916.2 820.5 L916.8 823.8 L917.4 824.6 L918.0 823.5 L918.6 823.2 L919.2 822.0 L919.8 819.5 L920.4 818.6 L921.0 821.6 L921.6 824.0 L922.2 823.3 L922.8 824.0 L923.4 826.7 L924.0 825.5 L924.6 823.4 L925.2 824.6 L925.8 826.2 L926.4 827.2 L927.0 829.1 L927.6 831.4 L928.2 831.2 L928.8 827.3 L929.4 822.9 L930.0 818.5 L930.6 815.5 L931.2 818.1 L931.8 822.4 L932.4 825.6 L933.0 827.6 L933.6 828.1 L934.2 826.3 L934.8 823.4 L935.4 821.0 L936.0 819.9 L936.6 820.6 L937.2 822.7 L937.8 824.9 L938.4 828.3 L939.0 828.8 L939.6 825.1 L940.2 822.8 L940.8 821.7 L941.4 818.7 L942.0 815.6 L942.6 816.4 L943.2 822.5 L943.8 827.8 L944.4 830.7 L945.0 830.8 L945.6 826.8 L946.2 822.5 L946.8 820.3 L947.4 820.8 L948.0 823.4 L948.6 826.2 L949.2 826.8 L949.8 825.7 L950.4 825.9 L951.0 825.9 L951.6 824.2 L952.2 824.7 L952.8 826.2 L953.4 826.2 L954.0 827.0 L954.6 828.7 L955.2 828.6 L955.8 827.2 L956.4 826.8 L957.0 827.2" fill="none" stroke="#000" stroke-width="1.85" stroke-linejoin="round" stroke-linecap="round"/>
<path d="M145.8 823.9 L146.4 825.9 L147.0 827.0 L147.6 827.2 L148.2 825.8 L148.8 824.2 L149.4 824.1 L150.0 824.5 L150.6 825.4 L151.2 827.0 L151.8 828.7 L152.4 829.9 L153.0 830.4 L153.6 830.2 L154.2 829.5 L154.8 829.6 L155.4 830.2 L156.0 829.8 L156.6 829.7 L157.2 830.7 L157.8 832.0 L158.4 833.2 L159.0 834.7 L159.6 836.6 L160.2 838.0 L160.8 838.0 L161.4 837.3 L162.0 837.5 L162.6 837.0 L163.2 834.9 L163.8 832.0 L164.4 830.2 L165.0 832.6 L165.6 836.5 L166.2 838.3 L166.8 840.4 L167.4 842.4 L168.0 842.4 L168.6 840.8 L169.2 838.8 L169.8 838.0 L170.4 838.7 L171.0 838.6 L171.6 837.4 L172.2 835.4 L172.8 834.7 L173.4 836.8 L174.0 840.0 L174.6 841.2 L175.2 841.3 L175.8 841.2 L176.4 840.5 L177.0 839.1 L177.6 837.6 L178.2 837.3 L178.8 838.9 L179.4 840.3 L180.0 840.6 L180.6 841.2 L181.2 841.9 L181.8 842.2 L182.4 842.6 L183.0 844.1 L183.6 843.7 L184.2 841.0 L184.8 838.4 L185.4 837.7 L186.0 839.2 L186.6 840.3 L187.2 840.0 L187.8 840.2 L188.4 842.1 L189.0 842.6 L189.6 840.5 L190.2 839.6 L190.8 840.0 L191.4 840.1 L192.0 840.9 L192.6 842.2 L193.2 841.1 L193.8 838.0 L194.4 835.9 L195.0 836.2 L195.6 836.5 L196.2 837.0 L196.8 837.4 L197.4 836.4 L198.0 836.1 L198.6 836.2 L199.2 834.9 L199.8 833.9 L200.4 833.9 L201.0 834.4 L201.6 835.1 L202.2 836.1 L202.8 836.5 L203.4 836.7 L204.0 836.1 L204.6 834.8 L205.2 833.7 L205.8 833.7 L206.4 834.9 L207.0 836.3 L207.6 837.4 L208.2 838.0 L208.8 837.5 L209.4 836.5 L210.0 834.8 L210.6 832.3 L211.2 830.5 L211.8 830.0 L212.4 831.4 L213.0 832.3 L213.6 831.7 L214.2 832.4 L214.8 834.7 L215.4 837.0 L216.0 837.9 L216.6 837.5 L217.2 835.7 L217.8 832.2 L218.4 828.3 L219.0 828.1 L219.6 831.7 L220.2 833.8 L220.8 833.0 L221.4 834.4 L222.0 838.0 L222.6 838.9 L223.2 836.0 L223.8 833.5 L224.4 832.3 L225.0 830.7 L225.6 829.6 L226.2 829.2 L226.8 829.2 L227.4 831.3 L228.0 833.8 L228.6 834.6 L229.2 835.2 L229.8 835.2 L230.4 834.3 L231.0 832.1 L231.6 830.4 L232.2 829.8 L232.8 829.1 L233.4 828.3 L234.0 828.9 L234.6 831.9 L235.2 834.7 L235.8 835.3 L236.4 833.8 L237.0 832.2 L237.6 831.6 L238.2 829.7 L238.8 827.4 L239.4 827.5 L240.0 830.2 L240.6 831.8 L241.2 832.6 L241.8 834.5 L242.4 836.0 L243.0 835.9 L243.6 834.5 L244.2 831.5 L244.8 826.9 L245.4 825.2 L246.0 827.4 L246.6 829.9 L247.2 832.4 L247.8 834.5 L248.4 834.0 L249.0 833.2 L249.6 833.8 L250.2 832.6 L250.8 830.5 L251.4 829.1 L252.0 827.9 L252.6 827.3 L253.2 828.3 L253.8 829.5 L254.4 830.2 L255.0 830.1 L255.6 829.4 L256.2 829.4 L256.8 829.4 L257.4 829.3 L258.0 828.8 L258.6 826.5 L259.2 824.1 L259.8 823.5 L260.4 824.7 L261.0 826.7 L261.6 828.9 L262.2 830.6 L262.8 830.6 L263.4 830.3 L264.0 829.1 L264.6 825.4 L265.2 821.6 L265.8 820.6 L266.4 822.9 L267.0 827.5 L267.6 831.3 L268.2 832.7 L268.8 832.0 L269.4 831.1 L270.0 829.5 L270.6 826.7 L271.2 824.9 L271.8 824.1 L272.4 822.9 L273.0 823.0 L273.6 825.1 L274.2 826.9 L274.8 828.2 L275.4 828.8 L276.0 828.7 L276.6 828.9 L277.2 827.9 L277.8 826.0 L278.4 824.4 L279.0 823.0 L279.6 822.6 L280.2 825.3 L280.8 828.2 L281.4 828.6 L282.0 828.0 L282.6 827.4 L283.2 827.5 L283.8 827.7 L284.4 825.6 L285.0 823.1 L285.6 821.5 L286.2 821.7 L286.8 823.1 L287.4 825.1 L288.0 827.8 L288.6 829.1 L289.2 828.2 L289.8 827.5 L290.4 826.8 L291.0 825.7 L291.6 826.1 L292.2 826.9 L292.8 827.0 L293.4 826.7 L294.0 826.6 L294.6 827.1 L295.2 827.0 L295.8 825.0 L296.4 822.8 L297.0 822.4 L297.6 824.2 L298.2 828.5 L298.8 832.7 L299.4 832.7 L300.0 829.2 L300.6 825.1 L301.2 822.7 L301.8 822.7 L302.4 824.1 L303.0 827.7 L303.6 832.3 L304.2 834.3 L304.8 831.6 L305.4 826.0 L306.0 820.6 L306.6 819.3 L307.2 822.9 L307.8 827.7 L308.4 830.4 L309.0 831.0 L309.6 829.1 L310.2 824.0 L310.8 819.2 L311.4 817.8 L312.0 820.6 L312.6 827.3 L313.2 832.0 L313.8 829.7 L314.4 824.3 L315.0 820.0 L315.6 818.6 L316.2 821.6 L316.8 826.6 L317.4 830.8 L318.0 832.6 L318.6 831.3 L319.2 827.3 L319.8 823.0 L320.4 821.2 L321.0 824.0 L321.6 829.8 L322.2 834.1 L322.8 833.1 L323.4 827.6 L324.0 821.7 L324.6 818.6 L325.2 818.8 L325.8 822.4 L326.4 827.4 L327.0 830.4 L327.6 830.0 L328.2 826.7 L328.8 821.6 L329.4 818.6 L330.0 820.1 L330.6 824.6 L331.2 830.2 L331.8 832.6 L332.4 829.9 L333.0 824.9 L333.6 822.1 L334.2 822.7 L334.8 826.0 L335.4 829.6 L336.0 831.6 L336.6 830.6 L337.2 826.5 L337.8 821.7 L338.4 819.8 L339.0 821.6 L339.6 825.1 L340.2 828.9 L340.8 831.2 L341.4 830.8 L342.0 827.6 L342.6 823.0 L343.2 820.6 L343.8 823.5 L344.4 829.0 L345.0 831.9 L345.6 831.1 L346.2 827.1 L346.8 821.7 L347.4 818.6 L348.0 819.7 L348.6 823.3 L349.2 827.2 L349.8 830.4 L350.4 831.0 L351.0 828.4 L351.6 823.9 L352.2 820.7 L352.8 822.1 L353.4 826.1 L354.0 828.9 L354.6 828.9 L355.2 827.8 L355.8 825.7 L356.4 822.4 L357.0 820.8 L357.6 822.3 L358.2 826.4 L358.8 830.9 L359.4 832.1 L360.0 828.9 L360.6 823.9 L361.2 820.1 L361.8 819.3 L362.4 823.0 L363.0 829.7 L363.6 834.5 L364.2 833.2 L364.8 827.0 L365.4 821.0 L366.0 819.4 L366.6 822.0 L367.2 826.1 L367.8 830.5 L368.4 833.4 L369.0 831.1 L369.6 825.3 L370.2 821.2 L370.8 821.0 L371.4 822.6 L372.0 824.9 L372.6 827.6 L373.2 830.3 L373.8 829.5 L374.4 825.4 L375.0 821.8 L375.6 820.8 L376.2 822.4 L376.8 826.5 L377.4 830.4 L378.0 830.7 L378.6 828.1 L379.2 825.2 L379.8 823.5 L380.4 823.9 L381.0 826.8 L381.6 830.0 L382.2 831.5 L382.8 831.2 L383.4 829.5 L384.0 826.9 L384.6 824.8 L385.2 824.6 L385.8 826.5 L386.4 830.0 L387.0 832.5 L387.6 831.9 L388.2 829.3 L388.8 826.9 L389.4 825.8 L390.0 826.4 L390.6 829.9 L391.2 833.5 L391.8 834.4 L392.4 832.5 L393.0 829.5 L393.6 827.0 L394.2 826.4 L394.8 827.8 L395.4 830.6 L396.0 833.8 L396.6 835.4 L397.2 834.2 L397.8 831.7 L398.4 827.8 L399.0 825.7 L399.6 827.1 L400.2 831.0 L400.8 835.1 L401.4 835.9 L402.0 834.3 L402.6 831.9 L403.2 828.3 L403.8 825.8 L404.4 827.8 L405.0 833.1 L405.6 837.5 L406.2 838.7 L406.8 837.1 L407.4 834.5 L408.0 832.2 L408.6 831.7 L409.2 834.6 L409.8 839.6 L410.4 842.7 L411.0 841.9 L411.6 838.7 L412.2 835.0 L412.8 832.6 L413.4 833.7 L414.0 836.8 L414.6 839.5 L415.2 840.7 L415.8 839.7 L416.4 837.7 L417.0 835.4 L417.6 834.2 L418.2 836.0 L418.8 839.9 L419.4 844.3 L420.0 847.0 L420.6 845.7 L421.2 842.0 L421.8 838.3 L422.4 837.6 L423.0 840.4 L423.6 844.2 L424.2 848.1 L424.8 850.0 L425.4 847.0 L426.0 841.3 L426.6 837.3 L427.2 837.8 L427.8 843.2 L428.4 849.7 L429.0 853.6 L429.6 853.8 L430.2 850.1 L430.8 844.3 L431.4 840.3 L432.0 841.6 L432.6 847.1 L433.2 852.8 L433.8 855.2 L434.4 853.7 L435.0 850.6 L435.6 847.1 L436.2 845.1 L436.8 847.4 L437.4 853.3 L438.0 860.7 L438.6 865.6 L439.2 863.3 L439.8 855.0 L440.4 847.0 L441.0 844.2 L441.6 848.0 L442.2 856.2 L442.8 864.4 L443.4 866.9 L444.0 862.2 L444.6 855.5 L445.2 852.0 L445.8 852.7 L446.4 856.9 L447.0 862.8 L447.6 867.5 L448.2 867.6 L448.8 864.8 L449.4 862.2 L450.0 862.5 L450.6 864.3 L451.2 865.7 L451.8 867.3 L452.4 869.9 L453.0 871.2 L453.6 871.1 L454.2 870.2 L454.8 869.1 L455.4 868.3 L456.0 869.4 L456.6 873.5 L457.2 877.7 L457.8 879.4 L458.4 880.7 L459.0 881.3 L459.6 879.4 L460.2 878.1 L460.8 879.9 L461.4 882.4 L462.0 884.6 L462.6 887.5 L463.2 890.5 L463.8 892.2 L464.4 891.7 L465.0 890.6 L465.6 891.1 L466.2 893.8 L466.8 898.3 L467.4 901.3 L468.0 902.5 L468.6 903.7 L469.2 904.4 L469.8 903.5 L470.4 902.0 L471.0 902.1 L471.6 903.6 L472.2 905.5 L472.8 909.0 L473.4 915.3 L474.0 920.5 L474.6 921.8 L475.2 922.3 L475.8 924.3 L476.4 927.0 L477.0 930.1 L477.6 934.5 L478.2 939.2 L478.8 943.6 L479.4 950.0 L480.0 956.8 L480.6 961.1 L481.2 964.0 L481.8 967.2 L482.4 973.0 L483.0 980.8 L483.6 988.1 L484.2 995.6 L484.8 1003.2 L485.4 1010.0 L486.0 1016.4 L486.6 1024.6 L487.2 1034.0 L487.8 1041.2 L488.4 1048.5 L489.0 1057.5 L489.6 1066.5 L490.2 1075.6 L490.8 1084.8 L491.4 1092.9 L492.0 1101.6 L492.6 1111.3 L493.2 1122.4 L493.8 1135.3 L494.4 1148.2 L495.0 1161.6 L495.6 1175.6 L496.2 1187.7 L496.8 1200.1 L497.4 1214.2 L498.0 1229.2 L498.6 1245.1 L499.2 1262.8 L499.8 1289.5 L500.4 1313.3 L501.0 1321.0 L501.6 1320.9 L502.2 1319.5 L502.8 1326.6 L503.4 1333.1 L504.0 1336.8 L504.6 1332.6 L505.2 1325.0 L505.8 1312.9 L506.4 1295.2 L507.0 1273.5 L507.6 1249.1 L508.2 1226.4 L508.8 1208.3 L509.4 1190.7 L510.0 1165.5 L510.6 1135.1 L511.2 1105.6 L511.8 1081.7 L512.4 1060.0 L513.0 1039.8 L513.6 1024.1 L514.2 1011.7 L514.8 998.1 L515.4 985.0 L516.0 973.0 L516.6 959.7 L517.2 949.2 L517.8 940.6 L518.4 932.6 L519.0 925.1 L519.6 919.3 L520.2 913.9 L520.8 909.7 L521.4 905.8 L522.0 901.3 L522.6 898.8 L523.2 895.4 L523.8 889.9 L524.4 884.1 L525.0 878.3 L525.6 872.9 L526.2 869.2 L526.8 866.9 L527.4 866.7 L528.0 869.6 L528.6 873.9 L529.2 874.8 L529.8 872.1 L530.4 868.4 L531.0 864.8 L531.6 861.4 L532.2 858.5 L532.8 857.5 L533.4 858.9 L534.0 861.6 L534.6 863.3 L535.2 864.3 L535.8 865.8 L536.4 866.3 L537.0 865.6 L537.6 863.4 L538.2 860.1 L538.8 856.9 L539.4 854.4 L540.0 854.4 L540.6 856.7 L541.2 859.1 L541.8 862.6 L542.4 866.0 L543.0 867.8 L543.6 866.5 L544.2 862.0 L544.8 857.0 L545.4 854.6 L546.0 854.8 L546.6 856.1 L547.2 857.8 L547.8 859.4 L548.4 861.5 L549.0 862.8 L549.6 862.7 L550.2 862.2 L550.8 860.5 L551.4 858.5 L552.0 857.1 L552.6 856.1 L553.2 856.2 L553.8 856.7 L554.4 859.1 L555.0 863.2 L555.6 864.8 L556.2 863.8 L556.8 863.6 L557.4 862.8 L558.0 859.2 L558.6 855.9 L559.2 855.6 L559.8 857.3 L560.4 859.1 L561.0 861.3 L561.6 864.3 L562.2 867.0 L562.8 867.4 L563.4 865.7 L564.0 863.0 L564.6 859.9 L565.2 858.5 L565.8 860.4 L566.4 862.7 L567.0 864.4 L567.6 866.8 L568.2 869.5 L568.8 871.4 L569.4 871.4 L570.0 868.9 L570.6 864.2 L571.2 860.3 L571.8 859.7 L572.4 861.8 L573.0 863.3 L573.6 864.9 L574.2 868.3 L574.8 872.7 L575.4 874.1 L576.0 871.9 L576.6 867.8 L577.2 864.2 L577.8 862.5 L578.4 863.6 L579.0 866.1 L579.6 868.2 L580.2 871.8 L580.8 876.8 L581.4 879.1 L582.0 877.7 L582.6 874.7 L583.2 872.0 L583.8 869.9 L584.4 867.5 L585.0 867.0 L585.6 870.8 L586.2 874.9 L586.8 877.6 L587.4 880.0 L588.0 880.0 L588.6 877.1 L589.2 875.1 L589.8 874.0 L590.4 871.5 L591.0 871.1 L591.6 874.0 L592.2 878.0 L592.8 881.5 L593.4 883.2 L594.0 883.1 L594.6 882.2 L595.2 880.7 L595.8 878.3 L596.4 876.6 L597.0 876.0 L597.6 876.9 L598.2 879.5 L598.8 884.1 L599.4 887.7 L600.0 889.1 L600.6 889.0 L601.2 888.3 L601.8 886.8 L602.4 884.9 L603.0 883.9 L603.6 883.5 L604.2 883.4 L604.8 885.7 L605.4 889.9 L606.0 894.5 L606.6 897.2 L607.2 895.9 L607.8 891.4 L608.4 887.5 L609.0 886.4 L609.6 886.6 L610.2 887.8 L610.8 891.5 L611.4 896.3 L612.0 900.3 L612.6 902.6 L613.2 902.6 L613.8 900.5 L614.4 898.6 L615.0 895.8 L615.6 892.1 L616.2 894.1 L616.8 900.1 L617.4 906.0 L618.0 910.3 L618.6 911.9 L619.2 911.1 L619.8 909.1 L620.4 906.0 L621.0 903.4 L621.6 903.8 L622.2 906.4 L622.8 910.3 L623.4 914.4 L624.0 918.2 L624.6 920.7 L625.2 921.3 L625.8 919.0 L626.4 914.9 L627.0 912.0 L627.6 911.0 L628.2 912.0 L628.8 914.6 L629.4 918.8 L630.0 923.3 L630.6 925.6 L631.2 924.5 L631.8 921.1 L632.4 917.4 L633.0 914.6 L633.6 912.9 L634.2 913.7 L634.8 917.0 L635.4 920.3 L636.0 923.4 L636.6 924.4 L637.2 923.3 L637.8 919.7 L638.4 913.3 L639.0 907.9 L639.6 906.4 L640.2 908.6 L640.8 911.7 L641.4 913.3 L642.0 913.7 L642.6 912.7 L643.2 909.4 L643.8 904.1 L644.4 897.4 L645.0 892.3 L645.6 891.0 L646.2 893.1 L646.8 896.8 L647.4 899.3 L648.0 900.1 L648.6 899.3 L649.2 895.0 L649.8 889.1 L650.4 884.7 L651.0 880.9 L651.6 878.8 L652.2 879.8 L652.8 881.6 L653.4 881.6 L654.0 880.5 L654.6 878.8 L655.2 874.3 L655.8 868.5 L656.4 864.3 L657.0 862.5 L657.6 862.7 L658.2 862.9 L658.8 862.9 L659.4 864.1 L660.0 864.1 L660.6 861.0 L661.2 855.7 L661.8 849.5 L662.4 845.1 L663.0 844.2 L663.6 843.5 L664.2 843.2 L664.8 844.9 L665.4 844.7 L666.0 842.2 L666.6 839.8 L667.2 836.9 L667.8 833.1 L668.4 830.0 L669.0 829.4 L669.6 830.7 L670.2 832.9 L670.8 834.5 L671.4 834.2 L672.0 833.0 L672.6 830.7 L673.2 827.3 L673.8 823.9 L674.4 822.1 L675.0 823.3 L675.6 827.4 L676.2 831.6 L676.8 832.3 L677.4 830.5 L678.0 828.2 L678.6 825.1 L679.2 821.0 L679.8 818.5 L680.4 820.5 L681.0 825.3 L681.6 830.7 L682.2 833.1 L682.8 831.2 L683.4 827.3 L684.0 823.2 L684.6 820.2 L685.2 818.9 L685.8 819.8 L686.4 822.8 L687.0 826.7 L687.6 829.8 L688.2 831.6 L688.8 831.5 L689.4 828.4 L690.0 823.1 L690.6 819.1 L691.2 818.5 L691.8 820.4 L692.4 824.5 L693.0 830.0 L693.6 834.6 L694.2 835.1 L694.8 830.7 L695.4 822.7 L696.0 815.1 L696.6 813.3 L697.2 816.2 L697.8 820.4 L698.4 826.0 L699.0 830.5 L699.6 831.3 L700.2 829.3 L700.8 825.4 L701.4 821.7 L702.0 819.5 L702.6 818.5 L703.2 819.6 L703.8 823.0 L704.4 827.3 L705.0 829.5 L705.6 829.2 L706.2 827.3 L706.8 824.0 L707.4 820.9 L708.0 818.5 L708.6 818.4 L709.2 822.8 L709.8 829.3 L710.4 832.8 L711.0 832.2 L711.6 828.1 L712.2 822.6 L712.8 818.5 L713.4 816.9 L714.0 818.4 L714.6 821.8 L715.2 826.6 L715.8 831.0 L716.4 831.9 L717.0 829.5 L717.6 825.8 L718.2 822.2 L718.8 821.1 L719.4 822.0 L720.0 823.9 L720.6 826.2 L721.2 827.8 L721.8 828.3 L722.4 828.1 L723.0 826.7 L723.6 824.4 L724.2 821.1 L724.8 818.6 L725.4 819.2 L726.0 822.7 L726.6 826.6 L727.2 828.4 L727.8 828.4 L728.4 827.3 L729.0 823.8 L729.6 820.1 L730.2 819.3 L730.8 819.3 L731.4 820.7 L732.0 825.2 L732.6 829.9 L733.2 832.2 L733.8 830.9 L734.4 826.9 L735.0 823.3 L735.6 821.2 L736.2 819.1 L736.8 819.9 L737.4 823.1 L738.0 824.7 L738.6 825.4 L739.2 826.9 L739.8 827.3 L740.4 825.6 L741.0 823.2 L741.6 822.3 L742.2 822.9 L742.8 825.2 L743.4 829.0 L744.0 832.6 L744.6 833.3 L745.2 830.8 L745.8 826.2 L746.4 820.9 L747.0 816.6 L747.6 815.5 L748.2 818.8 L748.8 823.8 L749.4 827.2 L750.0 828.8 L750.6 828.7 L751.2 827.1 L751.8 824.7 L752.4 822.0 L753.0 820.5 L753.6 822.2 L754.2 824.4 L754.8 826.7 L755.4 829.9 L756.0 831.8 L756.6 830.3 L757.2 826.4 L757.8 822.5 L758.4 820.9 L759.0 821.2 L759.6 823.3 L760.2 826.1 L760.8 828.6 L761.4 830.1 L762.0 829.3 L762.6 824.4 L763.2 818.7 L763.8 817.4 L764.4 818.6 L765.0 820.5 L765.6 824.8 L766.2 829.6 L766.8 831.4 L767.4 830.1 L768.0 825.6 L768.6 820.5 L769.2 818.5 L769.8 818.2 L770.4 820.5 L771.0 825.3 L771.6 829.7 L772.2 831.1 L772.8 829.4 L773.4 826.3 L774.0 823.2 L774.6 820.7 L775.2 819.9 L775.8 822.2 L776.4 825.7 L777.0 828.5 L777.6 830.5 L778.2 831.3 L778.8 829.8 L779.4 825.4 L780.0 821.5 L780.6 819.9 L781.2 820.8 L781.8 823.7 L782.4 826.6 L783.0 829.3 L783.6 830.4 L784.2 828.1 L784.8 824.4 L785.4 821.9 L786.0 820.8 L786.6 820.8 L787.2 822.9 L787.8 827.2 L788.4 832.2 L789.0 833.0 L789.6 829.9 L790.2 825.4 L790.8 820.2 L791.4 816.8 L792.0 818.2 L792.6 823.6 L793.2 829.2 L793.8 832.5 L794.4 833.9 L795.0 832.4 L795.6 826.8 L796.2 821.5 L796.8 819.1 L797.4 818.6 L798.0 820.9 L798.6 825.8 L799.2 830.8 L799.8 833.8 L800.4 833.2 L801.0 830.5 L801.6 827.0 L802.2 823.7 L802.8 821.6 L803.4 821.3 L804.0 824.3 L804.6 829.2 L805.2 832.7 L805.8 832.7 L806.4 830.6 L807.0 827.2 L807.6 823.4 L808.2 821.4 L808.8 822.8 L809.4 825.3 L810.0 825.8 L810.6 826.8 L811.2 828.2 L811.8 827.5 L812.4 825.7 L813.0 823.2 L813.6 821.8 L814.2 822.5 L814.8 825.7 L815.4 829.6 L816.0 832.4 L816.6 832.5 L817.2 829.9 L817.8 826.2 L818.4 823.1 L819.0 820.6 L819.6 819.3 L820.2 821.2 L820.8 825.7 L821.4 830.0 L822.0 831.3 L822.6 828.5 L823.2 825.7 L823.8 824.7 L824.4 823.0 L825.0 821.6 L825.6 821.4 L826.2 822.8 L826.8 826.4 L827.4 829.1 L828.0 828.9 L828.6 827.3 L829.2 826.3 L829.8 825.7 L830.4 825.7 L831.0 827.4 L831.6 828.9 L832.2 831.5 L832.8 833.9 L833.4 832.2 L834.0 829.0 L834.6 826.5 L835.2 825.2 L835.8 825.8 L836.4 826.1 L837.0 826.2 L837.6 827.4 L838.2 829.3 L838.8 828.4 L839.4 824.8 L840.0 823.6 L840.6 824.3 L841.2 823.7 L841.8 822.7 L842.4 822.8 L843.0 825.4 L843.6 829.4 L844.2 830.6 L844.8 828.0 L845.4 824.2 L846.0 823.6 L846.6 823.5 L847.2 822.6 L847.8 823.4 L848.4 827.3 L849.0 830.3 L849.6 829.4 L850.2 826.9 L850.8 826.4 L851.4 826.1 L852.0 824.5 L852.6 823.3 L853.2 823.7 L853.8 824.8 L854.4 826.3 L855.0 828.4 L855.6 830.4 L856.2 830.7 L856.8 828.1 L857.4 824.8 L858.0 823.3 L858.6 822.7 L859.2 821.9 L859.8 822.6 L860.4 825.9 L861.0 827.9 L861.6 827.6 L862.2 825.8 L862.8 822.3 L863.4 818.9 L864.0 818.0 L864.6 820.5 L865.2 823.6 L865.8 826.5 L866.4 828.4 L867.0 828.5 L867.6 826.5 L868.2 823.2 L868.8 821.7 L869.4 821.4 L870.0 821.0 L870.6 822.2 L871.2 825.0 L871.8 828.4 L872.4 829.5 L873.0 827.6 L873.6 825.4 L874.2 823.7 L874.8 821.9 L875.4 821.2 L876.0 821.7 L876.6 823.0 L877.2 824.9 L877.8 827.7 L878.4 828.6 L879.0 826.8 L879.6 825.2 L880.2 823.6 L880.8 820.9 L881.4 818.9 L882.0 820.7 L882.6 824.4 L883.2 827.5 L883.8 827.2 L884.4 824.2 L885.0 823.3 L885.6 823.7 L886.2 822.9 L886.8 821.4 L887.4 820.8 L888.0 822.9 L888.6 826.7 L889.2 829.0 L889.8 827.7 L890.4 823.2 L891.0 819.3 L891.6 819.0 L892.2 820.1 L892.8 821.7 L893.4 824.7 L894.0 828.4 L894.6 831.0 L895.2 830.8 L895.8 830.1 L896.4 829.2 L897.0 826.2 L897.6 822.9 L898.2 821.7 L898.8 822.6 L899.4 826.1 L900.0 829.4 L900.6 830.9 L901.2 831.1 L901.8 828.4 L902.4 824.4 L903.0 821.7 L903.6 820.5 L904.2 821.1 L904.8 823.8 L905.4 827.0 L906.0 827.6 L906.6 826.6 L907.2 826.5 L907.8 827.0 L908.4 825.9 L909.0 823.1 L909.6 822.0 L910.2 823.7 L910.8 826.5 L911.4 828.5 L912.0 828.4 L912.6 825.6 L913.2 820.7 L913.8 817.4 L914.4 816.4 L915.0 817.0 L915.6 821.0 L916.2 826.3 L916.8 828.9 L917.4 828.5 L918.0 826.1 L918.6 822.8 L919.2 820.5 L919.8 820.3 L920.4 821.7 L921.0 823.8 L921.6 826.9 L922.2 829.6 L922.8 830.1 L923.4 829.1 L924.0 826.9 L924.6 823.6 L925.2 820.3 L925.8 820.1 L926.4 823.4 L927.0 826.4 L927.6 827.7 L928.2 828.4 L928.8 829.3 L929.4 828.0 L930.0 825.3 L930.6 821.7 L931.2 819.1 L931.8 819.8 L932.4 823.7 L933.0 826.8 L933.6 827.7 L934.2 827.1 L934.8 825.5 L935.4 824.2 L936.0 822.9 L936.6 821.8 L937.2 822.0 L937.8 824.7 L938.4 828.2 L939.0 829.2 L939.6 828.0 L940.2 825.6 L940.8 822.3 L941.4 819.9 L942.0 819.9 L942.6 821.0 L943.2 824.3 L943.8 830.0 L944.4 833.4 L945.0 831.7 L945.6 827.6 L946.2 823.4 L946.8 821.2 L947.4 820.8 L948.0 822.5 L948.6 825.1 L949.2 827.2 L949.8 828.9 L950.4 828.9 L951.0 827.4 L951.6 824.0 L952.2 819.9 L952.8 817.2 L953.4 816.4 L954.0 818.9 L954.6 824.3 L955.2 828.6 L955.8 829.6 L956.4 829.8 L957.0 829.9" fill="none" stroke="#f00" stroke-width="1.85" stroke-linejoin="round" stroke-linecap="round"/>
<path d="M145.8 827.3 L146.4 826.9 L147.0 826.1 L147.6 825.4 L148.2 825.3 L148.8 825.8 L149.4 826.8 L150.0 827.4 L150.6 827.8 L151.2 828.8 L151.8 829.6 L152.4 829.9 L153.0 830.8 L153.6 832.1 L154.2 832.7 L154.8 832.5 L155.4 832.8 L156.0 833.5 L156.6 833.9 L157.2 834.2 L157.8 834.6 L158.4 834.9 L159.0 835.3 L159.6 836.0 L160.2 836.6 L160.8 837.1 L161.4 836.9 L162.0 835.9 L162.6 834.8 L163.2 834.8 L163.8 835.2 L164.4 835.1 L165.0 835.8 L165.6 838.2 L166.2 839.6 L166.8 839.2 L167.4 839.4 L168.0 839.7 L168.6 838.8 L169.2 837.7 L169.8 837.4 L170.4 838.3 L171.0 839.8 L171.6 840.5 L172.2 840.7 L172.8 840.7 L173.4 840.2 L174.0 840.2 L174.6 840.7 L175.2 841.0 L175.8 840.6 L176.4 839.4 L177.0 839.1 L177.6 841.0 L178.2 842.5 L178.8 842.3 L179.4 841.7 L180.0 841.5 L180.6 841.3 L181.2 840.9 L181.8 840.7 L182.4 840.0 L183.0 839.2 L183.6 839.7 L184.2 840.8 L184.8 841.8 L185.4 842.2 L186.0 842.5 L186.6 842.1 L187.2 841.7 L187.8 841.3 L188.4 840.4 L189.0 839.3 L189.6 838.0 L190.2 837.2 L190.8 837.4 L191.4 838.1 L192.0 838.6 L192.6 839.5 L193.2 840.5 L193.8 840.7 L194.4 840.4 L195.0 839.9 L195.6 839.0 L196.2 837.6 L196.8 836.7 L197.4 836.8 L198.0 837.3 L198.6 837.8 L199.2 838.1 L199.8 838.1 L200.4 838.2 L201.0 838.7 L201.6 838.6 L202.2 837.5 L202.8 836.6 L203.4 836.2 L204.0 835.6 L204.6 834.6 L205.2 834.9 L205.8 835.5 L206.4 835.6 L207.0 836.5 L207.6 837.2 L208.2 836.3 L208.8 835.3 L209.4 834.5 L210.0 833.8 L210.6 833.4 L211.2 833.3 L211.8 833.9 L212.4 835.5 L213.0 836.3 L213.6 836.2 L214.2 836.0 L214.8 835.8 L215.4 835.4 L216.0 834.6 L216.6 833.6 L217.2 833.3 L217.8 834.1 L218.4 834.9 L219.0 835.5 L219.6 835.3 L220.2 834.9 L220.8 835.7 L221.4 836.3 L222.0 835.9 L222.6 835.3 L223.2 834.4 L223.8 833.5 L224.4 833.0 L225.0 833.1 L225.6 833.3 L226.2 832.8 L226.8 833.1 L227.4 833.9 L228.0 833.9 L228.6 834.0 L229.2 834.0 L229.8 833.1 L230.4 831.5 L231.0 830.7 L231.6 831.1 L232.2 831.6 L232.8 831.9 L233.4 832.6 L234.0 833.6 L234.6 833.6 L235.2 832.8 L235.8 832.8 L236.4 832.3 L237.0 830.8 L237.6 829.7 L238.2 829.3 L238.8 829.7 L239.4 831.1 L240.0 832.4 L240.6 832.9 L241.2 832.8 L241.8 832.3 L242.4 832.0 L243.0 831.2 L243.6 830.5 L244.2 830.2 L244.8 830.4 L245.4 830.9 L246.0 831.2 L246.6 831.3 L247.2 831.0 L247.8 830.6 L248.4 830.3 L249.0 830.2 L249.6 829.7 L250.2 829.2 L250.8 829.0 L251.4 829.0 L252.0 829.3 L252.6 829.9 L253.2 831.1 L253.8 831.7 L254.4 831.3 L255.0 831.0 L255.6 830.5 L256.2 829.4 L256.8 828.9 L257.4 828.8 L258.0 828.3 L258.6 827.7 L259.2 828.0 L259.8 829.6 L260.4 831.1 L261.0 831.6 L261.6 830.4 L262.2 828.4 L262.8 827.0 L263.4 826.6 L264.0 826.8 L264.6 826.8 L265.2 826.8 L265.8 826.8 L266.4 827.3 L267.0 828.0 L267.6 827.7 L268.2 827.1 L268.8 827.4 L269.4 828.1 L270.0 828.2 L270.6 827.7 L271.2 827.4 L271.8 827.9 L272.4 828.7 L273.0 828.8 L273.6 828.4 L274.2 829.0 L274.8 829.5 L275.4 827.4 L276.0 825.5 L276.6 825.2 L277.2 825.4 L277.8 826.2 L278.4 827.6 L279.0 828.3 L279.6 828.9 L280.2 830.0 L280.8 829.7 L281.4 828.6 L282.0 827.3 L282.6 826.5 L283.2 826.9 L283.8 827.3 L284.4 827.2 L285.0 827.1 L285.6 827.8 L286.2 828.4 L286.8 827.9 L287.4 827.4 L288.0 826.9 L288.6 826.2 L289.2 825.2 L289.8 824.3 L290.4 824.7 L291.0 826.9 L291.6 829.2 L292.2 829.8 L292.8 829.1 L293.4 828.1 L294.0 827.4 L294.6 827.0 L295.2 826.7 L295.8 826.5 L296.4 827.0 L297.0 827.5 L297.6 828.3 L298.2 828.3 L298.8 826.7 L299.4 825.2 L300.0 825.2 L300.6 826.0 L301.2 827.3 L301.8 828.6 L302.4 829.1 L303.0 828.8 L303.6 828.6 L304.2 827.5 L304.8 825.6 L305.4 824.4 L306.0 825.3 L306.6 827.0 L307.2 828.7 L307.8 829.3 L308.4 827.6 L309.0 825.8 L309.6 825.1 L310.2 824.8 L310.8 824.7 L311.4 825.5 L312.0 826.5 L312.6 826.7 L313.2 826.1 L313.8 824.7 L314.4 824.0 L315.0 825.1 L315.6 826.7 L316.2 827.8 L316.8 828.1 L317.4 827.4 L318.0 825.5 L318.6 823.8 L319.2 823.6 L319.8 824.6 L320.4 826.1 L321.0 828.0 L321.6 829.2 L322.2 828.5 L322.8 827.0 L323.4 825.6 L324.0 825.4 L324.6 826.8 L325.2 828.2 L325.8 829.3 L326.4 829.6 L327.0 829.0 L327.6 827.7 L328.2 826.4 L328.8 826.0 L329.4 826.2 L330.0 826.4 L330.6 826.5 L331.2 826.9 L331.8 826.6 L332.4 825.4 L333.0 824.3 L333.6 824.5 L334.2 826.1 L334.8 827.4 L335.4 827.6 L336.0 826.3 L336.6 825.2 L337.2 825.2 L337.8 825.7 L338.4 826.4 L339.0 827.3 L339.6 827.8 L340.2 827.3 L340.8 826.4 L341.4 825.7 L342.0 825.1 L342.6 824.7 L343.2 825.0 L343.8 826.5 L344.4 827.7 L345.0 827.4 L345.6 826.3 L346.2 825.8 L346.8 825.8 L347.4 826.3 L348.0 826.6 L348.6 827.0 L349.2 827.2 L349.8 826.6 L350.4 826.1 L351.0 826.0 L351.6 826.4 L352.2 827.1 L352.8 827.9 L353.4 828.0 L354.0 827.4 L354.6 827.3 L355.2 826.6 L355.8 824.8 L356.4 824.3 L357.0 825.2 L357.6 826.7 L358.2 828.0 L358.8 827.8 L359.4 826.6 L360.0 826.2 L360.6 826.6 L361.2 826.5 L361.8 827.4 L362.4 829.2 L363.0 829.3 L363.6 828.0 L364.2 826.7 L364.8 826.1 L365.4 827.5 L366.0 828.9 L366.6 828.8 L367.2 828.6 L367.8 827.9 L368.4 826.9 L369.0 826.1 L369.6 825.5 L370.2 825.7 L370.8 827.0 L371.4 828.5 L372.0 829.2 L372.6 829.0 L373.2 828.2 L373.8 827.1 L374.4 826.2 L375.0 826.1 L375.6 827.1 L376.2 827.6 L376.8 827.8 L377.4 828.4 L378.0 828.9 L378.6 828.5 L379.2 828.0 L379.8 828.3 L380.4 828.9 L381.0 829.8 L381.6 830.4 L382.2 829.5 L382.8 828.2 L383.4 827.8 L384.0 828.2 L384.6 828.6 L385.2 829.5 L385.8 830.4 L386.4 831.2 L387.0 831.5 L387.6 831.4 L388.2 831.5 L388.8 831.1 L389.4 830.1 L390.0 829.8 L390.6 830.6 L391.2 831.5 L391.8 831.8 L392.4 831.1 L393.0 830.2 L393.6 830.1 L394.2 831.7 L394.8 833.2 L395.4 833.1 L396.0 832.4 L396.6 832.1 L397.2 831.9 L397.8 831.9 L398.4 832.2 L399.0 832.7 L399.6 833.2 L400.2 833.7 L400.8 833.6 L401.4 832.7 L402.0 831.9 L402.6 832.4 L403.2 833.1 L403.8 834.1 L404.4 835.5 L405.0 835.9 L405.6 835.6 L406.2 835.3 L406.8 835.0 L407.4 835.1 L408.0 835.1 L408.6 835.4 L409.2 837.4 L409.8 839.1 L410.4 839.2 L411.0 838.2 L411.6 837.0 L412.2 836.6 L412.8 837.8 L413.4 839.9 L414.0 840.9 L414.6 840.9 L415.2 840.5 L415.8 840.0 L416.4 840.2 L417.0 840.8 L417.6 840.9 L418.2 841.0 L418.8 841.6 L419.4 842.0 L420.0 842.0 L420.6 842.1 L421.2 842.1 L421.8 842.1 L422.4 843.2 L423.0 844.3 L423.6 844.2 L424.2 843.7 L424.8 843.2 L425.4 842.9 L426.0 843.7 L426.6 844.2 L427.2 844.6 L427.8 846.0 L428.4 846.7 L429.0 846.4 L429.6 846.5 L430.2 846.9 L430.8 846.7 L431.4 847.5 L432.0 849.0 L432.6 849.6 L433.2 850.3 L433.8 851.5 L434.4 851.1 L435.0 851.0 L435.6 852.2 L436.2 852.9 L436.8 853.2 L437.4 853.8 L438.0 854.5 L438.6 854.7 L439.2 854.8 L439.8 855.0 L440.4 854.9 L441.0 855.1 L441.6 856.4 L442.2 858.1 L442.8 858.8 L443.4 858.9 L444.0 859.4 L444.6 859.6 L445.2 859.3 L445.8 859.7 L446.4 860.8 L447.0 862.0 L447.6 863.2 L448.2 864.0 L448.8 863.7 L449.4 863.3 L450.0 864.5 L450.6 866.7 L451.2 868.3 L451.8 869.0 L452.4 869.4 L453.0 870.2 L453.6 870.8 L454.2 870.9 L454.8 871.6 L455.4 873.3 L456.0 874.5 L456.6 874.9 L457.2 875.3 L457.8 876.2 L458.4 877.7 L459.0 879.0 L459.6 879.7 L460.2 880.6 L460.8 882.4 L461.4 885.0 L462.0 887.2 L462.6 888.6 L463.2 889.8 L463.8 891.0 L464.4 891.7 L465.0 892.6 L465.6 894.6 L466.2 897.5 L466.8 899.7 L467.4 900.9 L468.0 901.8 L468.6 902.9 L469.2 904.7 L469.8 907.2 L470.4 909.2 L471.0 911.4 L471.6 915.1 L472.2 918.1 L472.8 920.3 L473.4 923.0 L474.0 926.0 L474.6 929.1 L475.2 932.9 L475.8 937.3 L476.4 942.4 L477.0 947.9 L477.6 953.4 L478.2 958.3 L478.8 963.5 L479.4 969.9 L480.0 976.5 L480.6 982.4 L481.2 987.3 L481.8 991.4 L482.4 996.3 L483.0 1003.6 L483.6 1011.9 L484.2 1020.3 L484.8 1028.4 L485.4 1035.9 L486.0 1043.5 L486.6 1050.8 L487.2 1057.4 L487.8 1064.3 L488.4 1072.1 L489.0 1080.6 L489.6 1090.0 L490.2 1100.7 L490.8 1112.0 L491.4 1123.5 L492.0 1135.1 L492.6 1145.7 L493.2 1155.0 L493.8 1163.9 L494.4 1173.6 L495.0 1185.1 L495.6 1197.0 L496.2 1208.2 L496.8 1219.5 L497.4 1231.6 L498.0 1244.3 L498.6 1257.1 L499.2 1269.6 L499.8 1281.4 L500.4 1295.4 L501.0 1308.6 L501.6 1315.8 L502.2 1311.7 L502.8 1295.9 L503.4 1279.4 L504.0 1260.1 L504.6 1238.6 L505.2 1217.1 L505.8 1196.9 L506.4 1168.7 L507.0 1134.8 L507.6 1114.1 L508.2 1097.0 L508.8 1080.5 L509.4 1065.5 L510.0 1052.9 L510.6 1041.0 L511.2 1029.0 L511.8 1018.3 L512.4 1005.8 L513.0 989.0 L513.6 976.7 L514.2 969.1 L514.8 960.5 L515.4 951.1 L516.0 941.5 L516.6 932.4 L517.2 925.0 L517.8 918.6 L518.4 913.2 L519.0 909.2 L519.6 905.7 L520.2 902.5 L520.8 899.2 L521.4 896.1 L522.0 892.5 L522.6 888.9 L523.2 886.1 L523.8 884.4 L524.4 882.7 L525.0 880.2 L525.6 877.2 L526.2 875.0 L526.8 873.6 L527.4 871.9 L528.0 871.5 L528.6 871.7 L529.2 870.6 L529.8 869.0 L530.4 868.5 L531.0 868.1 L531.6 867.1 L532.2 866.4 L532.8 866.4 L533.4 866.3 L534.0 866.5 L534.6 866.4 L535.2 865.2 L535.8 864.8 L536.4 865.1 L537.0 865.0 L537.6 864.8 L538.2 863.9 L538.8 863.1 L539.4 862.8 L540.0 863.9 L540.6 865.5 L541.2 865.9 L541.8 865.9 L542.4 866.2 L543.0 865.9 L543.6 864.5 L544.2 863.9 L544.8 863.6 L545.4 863.5 L546.0 864.6 L546.6 866.9 L547.2 868.8 L547.8 868.9 L548.4 867.8 L549.0 866.2 L549.6 864.6 L550.2 864.0 L550.8 864.2 L551.4 864.6 L552.0 865.9 L552.6 867.3 L553.2 868.2 L553.8 868.3 L554.4 868.2 L555.0 868.3 L555.6 867.7 L556.2 867.0 L556.8 866.5 L557.4 866.1 L558.0 866.4 L558.6 867.2 L559.2 868.3 L559.8 869.7 L560.4 870.2 L561.0 870.5 L561.6 870.6 L562.2 870.2 L562.8 869.5 L563.4 868.8 L564.0 868.7 L564.6 869.4 L565.2 869.5 L565.8 870.2 L566.4 872.2 L567.0 873.8 L567.6 873.9 L568.2 873.2 L568.8 872.8 L569.4 872.8 L570.0 873.1 L570.6 873.5 L571.2 874.0 L571.8 874.8 L572.4 875.4 L573.0 876.1 L573.6 877.9 L574.2 879.8 L574.8 880.0 L575.4 878.9 L576.0 877.3 L576.6 876.2 L577.2 876.8 L577.8 878.8 L578.4 880.4 L579.0 881.2 L579.6 881.9 L580.2 882.4 L580.8 882.1 L581.4 881.0 L582.0 880.6 L582.6 881.1 L583.2 881.6 L583.8 882.6 L584.4 884.0 L585.0 885.2 L585.6 887.0 L586.2 888.7 L586.8 889.0 L587.4 888.8 L588.0 888.7 L588.6 888.0 L589.2 887.3 L589.8 887.2 L590.4 888.2 L591.0 890.3 L591.6 893.2 L592.2 895.9 L592.8 897.2 L593.4 897.5 L594.0 898.0 L594.6 898.4 L595.2 898.1 L595.8 898.3 L596.4 899.9 L597.0 901.6 L597.6 903.3 L598.2 904.4 L598.8 904.3 L599.4 904.0 L600.0 903.8 L600.6 902.9 L601.2 902.0 L601.8 902.1 L602.4 903.0 L603.0 904.9 L603.6 907.7 L604.2 910.4 L604.8 912.7 L605.4 913.3 L606.0 913.5 L606.6 914.1 L607.2 913.4 L607.8 912.5 L608.4 913.3 L609.0 915.2 L609.6 917.2 L610.2 918.9 L610.8 920.1 L611.4 920.9 L612.0 921.1 L612.6 920.9 L613.2 920.7 L613.8 920.2 L614.4 919.4 L615.0 919.7 L615.6 921.3 L616.2 922.7 L616.8 923.8 L617.4 924.9 L618.0 924.5 L618.6 922.4 L619.2 920.2 L619.8 919.2 L620.4 919.3 L621.0 919.4 L621.6 919.9 L622.2 921.4 L622.8 923.6 L623.4 924.4 L624.0 923.2 L624.6 921.0 L625.2 918.6 L625.8 916.9 L626.4 916.0 L627.0 915.1 L627.6 915.3 L628.2 917.0 L628.8 918.9 L629.4 919.0 L630.0 917.5 L630.6 915.1 L631.2 912.0 L631.8 909.0 L632.4 906.9 L633.0 906.1 L633.6 905.5 L634.2 905.5 L634.8 907.0 L635.4 907.5 L636.0 906.2 L636.6 904.2 L637.2 901.5 L637.8 899.2 L638.4 898.3 L639.0 897.9 L639.6 897.9 L640.2 897.2 L640.8 895.6 L641.4 893.5 L642.0 891.0 L642.6 888.3 L643.2 885.7 L643.8 883.9 L644.4 881.7 L645.0 880.0 L645.6 879.7 L646.2 879.9 L646.8 879.7 L647.4 877.5 L648.0 874.1 L648.6 870.8 L649.2 867.1 L649.8 862.8 L650.4 859.7 L651.0 859.4 L651.6 860.4 L652.2 860.5 L652.8 860.2 L653.4 858.6 L654.0 854.9 L654.6 850.9 L655.2 848.1 L655.8 846.6 L656.4 845.6 L657.0 845.5 L657.6 845.7 L658.2 845.2 L658.8 844.1 L659.4 842.7 L660.0 840.9 L660.6 838.3 L661.2 836.3 L661.8 835.9 L662.4 836.2 L663.0 835.4 L663.6 833.3 L664.2 831.4 L664.8 830.3 L665.4 829.3 L666.0 828.0 L666.6 826.9 L667.2 826.6 L667.8 826.8 L668.4 827.3 L669.0 828.3 L669.6 828.8 L670.2 828.0 L670.8 826.4 L671.4 824.1 L672.0 822.4 L672.6 822.5 L673.2 823.1 L673.8 823.8 L674.4 825.0 L675.0 826.7 L675.6 827.8 L676.2 827.3 L676.8 825.7 L677.4 823.9 L678.0 822.8 L678.6 822.7 L679.2 823.2 L679.8 824.8 L680.4 827.5 L681.0 828.4 L681.6 827.4 L682.2 826.2 L682.8 825.2 L683.4 823.4 L684.0 821.2 L684.6 821.2 L685.2 823.9 L685.8 827.2 L686.4 830.2 L687.0 831.9 L687.6 831.1 L688.2 827.7 L688.8 823.8 L689.4 821.0 L690.0 819.8 L690.6 820.7 L691.2 823.1 L691.8 825.6 L692.4 827.5 L693.0 828.0 L693.6 826.6 L694.2 824.2 L694.8 822.4 L695.4 821.6 L696.0 822.5 L696.6 824.4 L697.2 826.1 L697.8 827.5 L698.4 827.9 L699.0 827.3 L699.6 826.1 L700.2 824.4 L700.8 823.1 L701.4 823.0 L702.0 824.1 L702.6 825.9 L703.2 827.5 L703.8 828.8 L704.4 828.5 L705.0 826.5 L705.6 823.9 L706.2 821.7 L706.8 820.9 L707.4 821.8 L708.0 823.9 L708.6 826.8 L709.2 828.9 L709.8 828.6 L710.4 827.3 L711.0 826.2 L711.6 824.4 L712.2 822.7 L712.8 822.9 L713.4 824.5 L714.0 826.3 L714.6 827.6 L715.2 828.2 L715.8 827.5 L716.4 825.9 L717.0 824.5 L717.6 823.4 L718.2 822.2 L718.8 822.4 L719.4 824.3 L720.0 826.7 L720.6 827.6 L721.2 826.8 L721.8 825.6 L722.4 824.7 L723.0 824.1 L723.6 823.8 L724.2 823.8 L724.8 824.6 L725.4 826.6 L726.0 828.0 L726.6 827.3 L727.2 826.2 L727.8 826.3 L728.4 825.4 L729.0 824.0 L729.6 823.5 L730.2 823.8 L730.8 824.6 L731.4 826.1 L732.0 827.7 L732.6 827.8 L733.2 826.7 L733.8 824.3 L734.4 821.8 L735.0 821.6 L735.6 823.2 L736.2 824.4 L736.8 825.8 L737.4 827.5 L738.0 828.3 L738.6 827.7 L739.2 826.2 L739.8 825.3 L740.4 824.9 L741.0 825.1 L741.6 825.6 L742.2 826.0 L742.8 825.7 L743.4 826.0 L744.0 826.4 L744.6 825.5 L745.2 824.1 L745.8 823.4 L746.4 823.4 L747.0 823.7 L747.6 824.5 L748.2 826.4 L748.8 827.4 L749.4 826.8 L750.0 825.7 L750.6 824.7 L751.2 823.6 L751.8 823.3 L752.4 824.5 L753.0 825.9 L753.6 826.3 L754.2 826.6 L754.8 826.5 L755.4 825.4 L756.0 824.1 L756.6 823.5 L757.2 822.8 L757.8 822.4 L758.4 823.3 L759.0 824.9 L759.6 826.4 L760.2 827.5 L760.8 826.6 L761.4 824.1 L762.0 822.3 L762.6 821.5 L763.2 821.3 L763.8 823.3 L764.4 826.3 L765.0 828.0 L765.6 828.0 L766.2 827.1 L766.8 826.0 L767.4 824.7 L768.0 822.9 L768.6 822.3 L769.2 824.0 L769.8 826.3 L770.4 827.6 L771.0 827.5 L771.6 826.7 L772.2 825.3 L772.8 824.2 L773.4 823.5 L774.0 823.0 L774.6 823.0 L775.2 824.8 L775.8 826.6 L776.4 826.5 L777.0 825.4 L777.6 825.3 L778.2 825.6 L778.8 824.9 L779.4 823.8 L780.0 823.4 L780.6 824.0 L781.2 825.6 L781.8 827.3 L782.4 827.4 L783.0 825.9 L783.6 825.3 L784.2 825.0 L784.8 824.0 L785.4 823.4 L786.0 824.4 L786.6 826.0 L787.2 827.0 L787.8 826.8 L788.4 825.5 L789.0 824.0 L789.6 823.1 L790.2 822.9 L790.8 822.7 L791.4 823.8 L792.0 825.9 L792.6 827.2 L793.2 827.7 L793.8 827.5 L794.4 826.2 L795.0 824.3 L795.6 822.3 L796.2 821.3 L796.8 822.6 L797.4 825.1 L798.0 827.2 L798.6 828.1 L799.2 827.4 L799.8 825.7 L800.4 824.1 L801.0 823.4 L801.6 823.5 L802.2 823.0 L802.8 823.3 L803.4 824.8 L804.0 826.3 L804.6 827.2 L805.2 826.5 L805.8 824.5 L806.4 822.3 L807.0 820.8 L807.6 821.0 L808.2 823.5 L808.8 827.1 L809.4 829.8 L810.0 830.0 L810.6 828.0 L811.2 825.5 L811.8 823.8 L812.4 823.1 L813.0 823.1 L813.6 824.6 L814.2 826.9 L814.8 828.5 L815.4 828.7 L816.0 828.1 L816.6 827.3 L817.2 826.6 L817.8 825.6 L818.4 824.9 L819.0 825.3 L819.6 826.2 L820.2 827.7 L820.8 828.8 L821.4 829.2 L822.0 828.3 L822.6 826.3 L823.2 825.0 L823.8 825.2 L824.4 826.7 L825.0 829.3 L825.6 831.2 L826.2 830.9 L826.8 829.5 L827.4 828.5 L828.0 827.3 L828.6 825.7 L829.2 825.2 L829.8 826.0 L830.4 827.3 L831.0 828.9 L831.6 830.8 L832.2 831.4 L832.8 830.2 L833.4 827.8 L834.0 826.1 L834.6 825.8 L835.2 825.9 L835.8 826.7 L836.4 828.2 L837.0 829.7 L837.6 830.5 L838.2 829.9 L838.8 827.4 L839.4 825.6 L840.0 825.0 L840.6 825.0 L841.2 825.6 L841.8 826.5 L842.4 827.5 L843.0 829.2 L843.6 829.4 L844.2 827.3 L844.8 825.1 L845.4 824.1 L846.0 823.9 L846.6 824.3 L847.2 825.8 L847.8 827.7 L848.4 829.0 L849.0 828.9 L849.6 827.2 L850.2 825.7 L850.8 825.2 L851.4 824.7 L852.0 823.8 L852.6 824.2 L853.2 826.4 L853.8 827.5 L854.4 827.1 L855.0 826.8 L855.6 825.5 L856.2 824.0 L856.8 824.1 L857.4 824.9 L858.0 825.9 L858.6 826.6 L859.2 827.7 L859.8 829.4 L860.4 830.0 L861.0 828.4 L861.6 825.9 L862.2 824.0 L862.8 822.7 L863.4 822.6 L864.0 824.0 L864.6 826.0 L865.2 827.4 L865.8 827.9 L866.4 827.0 L867.0 825.2 L867.6 822.9 L868.2 822.0 L868.8 822.9 L869.4 824.1 L870.0 825.6 L870.6 828.1 L871.2 829.7 L871.8 829.2 L872.4 827.5 L873.0 825.4 L873.6 824.0 L874.2 824.2 L874.8 825.3 L875.4 825.7 L876.0 825.5 L876.6 826.7 L877.2 828.5 L877.8 828.1 L878.4 826.1 L879.0 824.2 L879.6 823.1 L880.2 822.7 L880.8 823.1 L881.4 824.2 L882.0 825.6 L882.6 826.9 L883.2 827.2 L883.8 825.8 L884.4 823.8 L885.0 823.3 L885.6 823.8 L886.2 824.0 L886.8 824.7 L887.4 826.1 L888.0 826.7 L888.6 826.4 L889.2 826.1 L889.8 824.8 L890.4 823.2 L891.0 822.6 L891.6 822.9 L892.2 823.6 L892.8 825.0 L893.4 826.5 L894.0 826.7 L894.6 825.9 L895.2 824.4 L895.8 822.7 L896.4 821.9 L897.0 822.7 L897.6 823.6 L898.2 825.0 L898.8 826.5 L899.4 826.9 L900.0 826.0 L900.6 825.2 L901.2 824.0 L901.8 822.4 L902.4 822.0 L903.0 823.4 L903.6 825.1 L904.2 826.1 L904.8 826.3 L905.4 826.0 L906.0 825.6 L906.6 824.9 L907.2 823.8 L907.8 823.4 L908.4 824.0 L909.0 825.6 L909.6 827.2 L910.2 827.4 L910.8 826.7 L911.4 826.2 L912.0 825.8 L912.6 825.2 L913.2 824.5 L913.8 824.2 L914.4 824.5 L915.0 825.4 L915.6 825.9 L916.2 826.1 L916.8 826.0 L917.4 825.1 L918.0 823.4 L918.6 821.7 L919.2 822.1 L919.8 824.0 L920.4 825.3 L921.0 826.5 L921.6 827.6 L922.2 827.6 L922.8 826.0 L923.4 824.0 L924.0 823.1 L924.6 823.0 L925.2 823.5 L925.8 825.2 L926.4 827.0 L927.0 827.6 L927.6 826.8 L928.2 825.1 L928.8 822.8 L929.4 821.3 L930.0 821.6 L930.6 823.8 L931.2 825.4 L931.8 826.0 L932.4 826.3 L933.0 825.9 L933.6 824.3 L934.2 822.3 L934.8 821.7 L935.4 822.5 L936.0 823.4 L936.6 824.5 L937.2 826.4 L937.8 827.1 L938.4 825.6 L939.0 823.4 L939.6 822.4 L940.2 822.5 L940.8 822.3 L941.4 822.4 L942.0 823.9 L942.6 826.1 L943.2 827.2 L943.8 827.0 L944.4 825.4 L945.0 823.8 L945.6 823.2 L946.2 822.9 L946.8 823.3 L947.4 824.2 L948.0 825.8 L948.6 827.7 L949.2 828.6 L949.8 828.1 L950.4 826.5 L951.0 824.0 L951.6 822.1 L952.2 821.5 L952.8 822.6 L953.4 824.5 L954.0 825.9 L954.6 826.9 L955.2 826.6 L955.8 825.2 L956.4 823.1 L957.0 822.3" fill="none" stroke="#00f" stroke-width="1.85" stroke-linejoin="round" stroke-linecap="round"/>
<path d="M145.8 825.1 L146.4 824.1 L147.0 823.9 L147.6 825.4 L148.2 826.7 L148.8 827.2 L149.4 828.0 L150.0 829.3 L150.6 830.1 L151.2 830.4 L151.8 831.0 L152.4 831.7 L153.0 831.1 L153.6 829.8 L154.2 829.4 L154.8 830.2 L155.4 831.6 L156.0 833.2 L156.6 834.1 L157.2 834.2 L157.8 833.9 L158.4 833.7 L159.0 833.8 L159.6 833.7 L160.2 833.1 L160.8 832.8 L161.4 833.4 L162.0 834.8 L162.6 835.9 L163.2 836.7 L163.8 838.0 L164.4 838.7 L165.0 838.9 L165.6 839.5 L166.2 840.0 L166.8 840.0 L167.4 840.1 L168.0 839.9 L168.6 838.6 L169.2 837.9 L169.8 838.1 L170.4 838.2 L171.0 838.8 L171.6 840.1 L172.2 841.5 L172.8 841.3 L173.4 840.1 L174.0 839.6 L174.6 840.1 L175.2 840.2 L175.8 840.0 L176.4 840.2 L177.0 840.8 L177.6 841.7 L178.2 842.0 L178.8 841.4 L179.4 841.0 L180.0 841.6 L180.6 842.3 L181.2 842.2 L181.8 840.9 L182.4 840.0 L183.0 839.9 L183.6 840.5 L184.2 840.6 L184.8 840.6 L185.4 840.9 L186.0 841.0 L186.6 840.8 L187.2 840.4 L187.8 839.7 L188.4 838.9 L189.0 838.1 L189.6 837.6 L190.2 838.0 L190.8 838.5 L191.4 839.5 L192.0 840.8 L192.6 840.7 L193.2 839.3 L193.8 838.1 L194.4 837.7 L195.0 837.0 L195.6 835.6 L196.2 835.2 L196.8 835.9 L197.4 837.6 L198.0 839.4 L198.6 839.7 L199.2 839.1 L199.8 838.5 L200.4 837.8 L201.0 836.3 L201.6 835.2 L202.2 835.2 L202.8 835.6 L203.4 835.6 L204.0 835.6 L204.6 835.6 L205.2 835.8 L205.8 836.0 L206.4 836.5 L207.0 836.8 L207.6 836.8 L208.2 836.1 L208.8 835.1 L209.4 834.1 L210.0 832.5 L210.6 831.4 L211.2 831.9 L211.8 833.2 L212.4 833.6 L213.0 833.7 L213.6 833.8 L214.2 833.1 L214.8 832.3 L215.4 832.8 L216.0 833.2 L216.6 833.0 L217.2 833.4 L217.8 834.1 L218.4 833.3 L219.0 832.8 L219.6 833.4 L220.2 833.6 L220.8 833.8 L221.4 833.6 L222.0 832.4 L222.6 831.8 L223.2 832.0 L223.8 832.1 L224.4 832.3 L225.0 832.4 L225.6 832.8 L226.2 833.5 L226.8 834.0 L227.4 834.2 L228.0 833.9 L228.6 832.4 L229.2 830.4 L229.8 829.9 L230.4 830.9 L231.0 832.2 L231.6 832.8 L232.2 833.2 L232.8 834.1 L233.4 834.4 L234.0 833.9 L234.6 832.4 L235.2 831.6 L235.8 831.6 L236.4 831.1 L237.0 831.2 L237.6 832.1 L238.2 833.0 L238.8 833.4 L239.4 832.7 L240.0 832.2 L240.6 832.1 L241.2 832.2 L241.8 831.7 L242.4 830.3 L243.0 828.9 L243.6 828.6 L244.2 828.6 L244.8 829.3 L245.4 830.5 L246.0 831.6 L246.6 831.6 L247.2 830.9 L247.8 830.8 L248.4 830.8 L249.0 829.8 L249.6 829.0 L250.2 829.1 L250.8 829.7 L251.4 829.4 L252.0 829.3 L252.6 829.7 L253.2 830.1 L253.8 830.3 L254.4 830.0 L255.0 829.8 L255.6 829.1 L256.2 827.4 L256.8 826.5 L257.4 826.7 L258.0 827.5 L258.6 828.2 L259.2 828.1 L259.8 827.8 L260.4 828.4 L261.0 828.4 L261.6 827.3 L262.2 826.3 L262.8 825.9 L263.4 825.0 L264.0 825.2 L264.6 826.3 L265.2 827.2 L265.8 828.6 L266.4 830.1 L267.0 829.7 L267.6 828.2 L268.2 827.4 L268.8 827.3 L269.4 826.6 L270.0 825.3 L270.6 824.3 L271.2 824.4 L271.8 825.0 L272.4 826.7 L273.0 828.8 L273.6 829.9 L274.2 829.6 L274.8 828.3 L275.4 826.7 L276.0 825.3 L276.6 824.7 L277.2 824.4 L277.8 825.4 L278.4 827.6 L279.0 829.0 L279.6 828.4 L280.2 827.7 L280.8 827.7 L281.4 826.9 L282.0 825.5 L282.6 825.0 L283.2 825.3 L283.8 826.3 L284.4 827.2 L285.0 827.8 L285.6 828.1 L286.2 828.0 L286.8 828.0 L287.4 828.4 L288.0 828.2 L288.6 826.7 L289.2 825.8 L289.8 826.2 L290.4 826.7 L291.0 827.9 L291.6 828.7 L292.2 828.7 L292.8 828.3 L293.4 827.1 L294.0 825.6 L294.6 825.3 L295.2 825.3 L295.8 825.6 L296.4 826.1 L297.0 826.6 L297.6 826.7 L298.2 826.1 L298.8 825.4 L299.4 824.8 L300.0 824.7 L300.6 825.3 L301.2 826.4 L301.8 827.3 L302.4 827.2 L303.0 826.8 L303.6 825.3 L304.2 823.6 L304.8 823.3 L305.4 824.5 L306.0 826.1 L306.6 827.4 L307.2 827.4 L307.8 826.3 L308.4 825.7 L309.0 825.4 L309.6 825.3 L310.2 826.5 L310.8 827.9 L311.4 827.9 L312.0 827.2 L312.6 826.7 L313.2 825.8 L313.8 825.0 L314.4 825.3 L315.0 826.3 L315.6 826.9 L316.2 826.9 L316.8 826.2 L317.4 825.6 L318.0 825.4 L318.6 825.3 L319.2 825.4 L319.8 825.8 L320.4 826.1 L321.0 825.8 L321.6 825.0 L322.2 825.0 L322.8 825.5 L323.4 825.6 L324.0 825.4 L324.6 825.6 L325.2 826.2 L325.8 826.3 L326.4 826.0 L327.0 825.4 L327.6 824.6 L328.2 825.4 L328.8 827.2 L329.4 828.1 L330.0 827.9 L330.6 827.1 L331.2 826.1 L331.8 825.5 L332.4 825.3 L333.0 825.7 L333.6 826.8 L334.2 827.7 L334.8 827.1 L335.4 825.7 L336.0 824.7 L336.6 824.1 L337.2 824.3 L337.8 825.5 L338.4 826.7 L339.0 827.9 L339.6 828.5 L340.2 828.2 L340.8 827.9 L341.4 827.6 L342.0 826.8 L342.6 826.8 L343.2 828.1 L343.8 828.9 L344.4 828.5 L345.0 827.0 L345.6 825.5 L346.2 825.2 L346.8 825.3 L347.4 825.8 L348.0 826.8 L348.6 827.7 L349.2 826.9 L349.8 825.0 L350.4 823.5 L351.0 824.2 L351.6 826.5 L352.2 828.0 L352.8 827.7 L353.4 826.6 L354.0 825.8 L354.6 825.2 L355.2 825.2 L355.8 826.0 L356.4 827.1 L357.0 827.7 L357.6 828.0 L358.2 827.6 L358.8 826.2 L359.4 824.6 L360.0 824.7 L360.6 826.3 L361.2 828.0 L361.8 828.8 L362.4 828.6 L363.0 827.0 L363.6 824.9 L364.2 824.2 L364.8 826.2 L365.4 828.2 L366.0 828.3 L366.6 828.0 L367.2 827.6 L367.8 827.3 L368.4 826.8 L369.0 826.3 L369.6 826.8 L370.2 827.2 L370.8 827.3 L371.4 827.7 L372.0 828.1 L372.6 827.6 L373.2 827.2 L373.8 826.9 L374.4 826.7 L375.0 826.9 L375.6 827.2 L376.2 827.4 L376.8 827.7 L377.4 827.6 L378.0 827.2 L378.6 826.9 L379.2 827.4 L379.8 828.6 L380.4 829.2 L381.0 828.7 L381.6 827.8 L382.2 826.3 L382.8 825.3 L383.4 826.6 L384.0 829.2 L384.6 830.8 L385.2 831.5 L385.8 831.6 L386.4 830.5 L387.0 828.9 L387.6 827.5 L388.2 827.6 L388.8 829.6 L389.4 831.5 L390.0 831.0 L390.6 829.6 L391.2 828.9 L391.8 827.8 L392.4 827.1 L393.0 828.4 L393.6 830.4 L394.2 832.1 L394.8 832.8 L395.4 832.3 L396.0 831.2 L396.6 830.0 L397.2 829.8 L397.8 830.8 L398.4 832.0 L399.0 832.8 L399.6 833.3 L400.2 832.9 L400.8 831.7 L401.4 831.0 L402.0 831.8 L402.6 833.7 L403.2 835.4 L403.8 836.7 L404.4 836.8 L405.0 835.4 L405.6 834.4 L406.2 834.0 L406.8 833.7 L407.4 834.5 L408.0 836.2 L408.6 837.8 L409.2 838.2 L409.8 837.9 L410.4 837.9 L411.0 837.7 L411.6 837.2 L412.2 837.3 L412.8 838.7 L413.4 839.8 L414.0 839.7 L414.6 839.3 L415.2 838.8 L415.8 839.3 L416.4 840.4 L417.0 841.7 L417.6 842.9 L418.2 843.3 L418.8 843.5 L419.4 842.5 L420.0 841.3 L420.6 841.6 L421.2 843.0 L421.8 844.2 L422.4 845.6 L423.0 846.9 L423.6 846.8 L424.2 845.8 L424.8 844.5 L425.4 843.8 L426.0 844.1 L426.6 845.3 L427.2 846.4 L427.8 846.4 L428.4 845.9 L429.0 845.5 L429.6 845.9 L430.2 847.1 L430.8 848.2 L431.4 849.1 L432.0 850.2 L432.6 851.0 L433.2 851.2 L433.8 851.1 L434.4 851.0 L435.0 851.7 L435.6 853.2 L436.2 854.3 L436.8 854.2 L437.4 853.8 L438.0 852.7 L438.6 851.9 L439.2 852.7 L439.8 854.4 L440.4 856.8 L441.0 858.1 L441.6 858.3 L442.2 858.4 L442.8 858.9 L443.4 859.3 L444.0 860.0 L444.6 861.4 L445.2 862.9 L445.8 863.0 L446.4 862.8 L447.0 864.2 L447.6 864.9 L448.2 864.0 L448.8 863.2 L449.4 863.8 L450.0 865.9 L450.6 868.4 L451.2 870.2 L451.8 871.3 L452.4 871.7 L453.0 871.6 L453.6 872.4 L454.2 874.1 L454.8 875.9 L455.4 877.2 L456.0 878.0 L456.6 878.4 L457.2 878.4 L457.8 878.9 L458.4 880.2 L459.0 881.9 L459.6 883.8 L460.2 885.1 L460.8 886.8 L461.4 888.3 L462.0 889.4 L462.6 890.7 L463.2 892.5 L463.8 894.4 L464.4 895.9 L465.0 897.7 L465.6 900.1 L466.2 902.0 L466.8 902.1 L467.4 903.3 L468.0 906.7 L468.6 909.5 L469.2 911.0 L469.8 913.1 L470.4 916.7 L471.0 920.2 L471.6 923.3 L472.2 926.1 L472.8 928.5 L473.4 931.7 L474.0 936.1 L474.6 940.6 L475.2 945.2 L475.8 950.2 L476.4 955.5 L477.0 961.5 L477.6 967.7 L478.2 973.1 L478.8 978.3 L479.4 983.3 L480.0 988.3 L480.6 994.1 L481.2 1000.3 L481.8 1007.8 L482.4 1016.7 L483.0 1025.5 L483.6 1033.8 L484.2 1041.4 L484.8 1048.9 L485.4 1055.7 L486.0 1062.0 L486.6 1069.2 L487.2 1077.3 L487.8 1086.1 L488.4 1096.3 L489.0 1108.3 L489.6 1121.1 L490.2 1133.9 L490.8 1147.2 L491.4 1162.2 L492.0 1176.0 L492.6 1187.6 L493.2 1198.9 L493.8 1209.9 L494.4 1220.2 L495.0 1230.5 L495.6 1241.4 L496.2 1255.3 L496.8 1271.1 L497.4 1284.9 L498.0 1294.4 L498.6 1298.1 L499.2 1294.9 L499.8 1288.8 L500.4 1282.4 L501.0 1273.6 L501.6 1261.9 L502.2 1247.5 L502.8 1232.4 L503.4 1216.3 L504.0 1195.6 L504.6 1170.5 L505.2 1142.1 L505.8 1122.7 L506.4 1107.0 L507.0 1092.2 L507.6 1076.8 L508.2 1062.5 L508.8 1049.7 L509.4 1036.4 L510.0 1021.1 L510.6 1006.2 L511.2 992.4 L511.8 979.7 L512.4 969.5 L513.0 959.9 L513.6 949.0 L514.2 938.0 L514.8 928.9 L515.4 921.9 L516.0 915.6 L516.6 909.8 L517.2 905.6 L517.8 902.7 L518.4 899.5 L519.0 895.9 L519.6 893.6 L520.2 891.8 L520.8 889.2 L521.4 886.9 L522.0 885.6 L522.6 884.1 L523.2 881.7 L523.8 878.8 L524.4 876.2 L525.0 874.5 L525.6 873.8 L526.2 873.6 L526.8 873.8 L527.4 873.8 L528.0 872.8 L528.6 871.1 L529.2 869.3 L529.8 868.2 L530.4 868.0 L531.0 868.2 L531.6 868.2 L532.2 868.0 L532.8 868.0 L533.4 868.6 L534.0 869.7 L534.6 868.9 L535.2 867.0 L535.8 866.0 L536.4 865.9 L537.0 865.9 L537.6 866.0 L538.2 866.3 L538.8 867.6 L539.4 868.7 L540.0 868.4 L540.6 867.6 L541.2 867.2 L541.8 867.2 L542.4 867.7 L543.0 868.2 L543.6 867.7 L544.2 866.6 L544.8 866.6 L545.4 867.3 L546.0 868.2 L546.6 869.0 L547.2 869.7 L547.8 870.0 L548.4 870.0 L549.0 869.7 L549.6 869.3 L550.2 868.5 L550.8 868.5 L551.4 869.3 L552.0 869.2 L552.6 869.3 L553.2 870.6 L553.8 871.2 L554.4 870.5 L555.0 870.0 L555.6 870.0 L556.2 869.6 L556.8 868.9 L557.4 868.4 L558.0 868.9 L558.6 870.5 L559.2 872.4 L559.8 873.3 L560.4 873.6 L561.0 874.1 L561.6 873.9 L562.2 872.5 L562.8 871.2 L563.4 870.8 L564.0 871.1 L564.6 872.4 L565.2 873.8 L565.8 874.8 L566.4 876.1 L567.0 876.8 L567.6 876.3 L568.2 876.3 L568.8 877.0 L569.4 877.9 L570.0 878.8 L570.6 879.0 L571.2 878.7 L571.8 879.2 L572.4 880.1 L573.0 880.6 L573.6 880.8 L574.2 881.2 L574.8 881.8 L575.4 882.8 L576.0 883.8 L576.6 883.6 L577.2 883.2 L577.8 884.3 L578.4 885.6 L579.0 886.6 L579.6 887.6 L580.2 887.7 L580.8 887.6 L581.4 887.5 L582.0 887.4 L582.6 887.6 L583.2 887.9 L583.8 889.4 L584.4 891.0 L585.0 892.3 L585.6 892.9 L586.2 893.5 L586.8 894.4 L587.4 895.4 L588.0 896.3 L588.6 896.7 L589.2 897.1 L589.8 899.1 L590.4 901.9 L591.0 903.9 L591.6 905.3 L592.2 906.8 L592.8 907.8 L593.4 907.9 L594.0 907.4 L594.6 906.8 L595.2 907.9 L595.8 909.9 L596.4 912.0 L597.0 914.3 L597.6 916.0 L598.2 916.5 L598.8 917.1 L599.4 917.6 L600.0 917.8 L600.6 918.8 L601.2 919.9 L601.8 921.0 L602.4 922.7 L603.0 924.3 L603.6 925.6 L604.2 926.7 L604.8 927.8 L605.4 928.8 L606.0 929.2 L606.6 929.7 L607.2 931.1 L607.8 932.6 L608.4 933.3 L609.0 934.9 L609.6 936.7 L610.2 937.5 L610.8 938.7 L611.4 940.4 L612.0 941.3 L612.6 941.3 L613.2 940.9 L613.8 940.0 L614.4 940.0 L615.0 940.9 L615.6 941.2 L616.2 940.6 L616.8 940.0 L617.4 938.1 L618.0 935.8 L618.6 934.1 L619.2 931.9 L619.8 930.1 L620.4 929.3 L621.0 928.2 L621.6 927.4 L622.2 926.6 L622.8 924.7 L623.4 922.9 L624.0 921.2 L624.6 918.3 L625.2 915.3 L625.8 913.4 L626.4 912.8 L627.0 912.3 L627.6 911.8 L628.2 911.0 L628.8 908.6 L629.4 905.2 L630.0 902.1 L630.6 899.8 L631.2 897.3 L631.8 895.0 L632.4 893.8 L633.0 893.5 L633.6 891.8 L634.2 889.2 L634.8 887.1 L635.4 885.1 L636.0 882.3 L636.6 879.1 L637.2 876.3 L637.8 874.3 L638.4 872.3 L639.0 870.9 L639.6 870.2 L640.2 870.1 L640.8 869.3 L641.4 867.6 L642.0 865.8 L642.6 863.7 L643.2 861.4 L643.8 860.1 L644.4 859.9 L645.0 859.6 L645.6 858.1 L646.2 856.7 L646.8 855.7 L647.4 854.7 L648.0 853.2 L648.6 851.0 L649.2 849.8 L649.8 849.8 L650.4 850.0 L651.0 849.7 L651.6 849.1 L652.2 848.0 L652.8 846.2 L653.4 843.6 L654.0 841.1 L654.6 839.8 L655.2 839.0 L655.8 838.7 L656.4 839.0 L657.0 839.3 L657.6 838.7 L658.2 837.0 L658.8 834.9 L659.4 832.8 L660.0 830.9 L660.6 830.1 L661.2 830.7 L661.8 832.2 L662.4 832.7 L663.0 832.5 L663.6 832.4 L664.2 831.7 L664.8 830.4 L665.4 829.4 L666.0 828.7 L666.6 828.2 L667.2 827.7 L667.8 827.8 L668.4 828.2 L669.0 828.0 L669.6 827.0 L670.2 826.0 L670.8 824.9 L671.4 823.6 L672.0 822.2 L672.6 822.1 L673.2 823.5 L673.8 824.8 L674.4 825.8 L675.0 826.3 L675.6 825.0 L676.2 823.7 L676.8 823.4 L677.4 823.3 L678.0 823.4 L678.6 823.8 L679.2 824.5 L679.8 824.7 L680.4 825.1 L681.0 825.2 L681.6 824.7 L682.2 824.1 L682.8 823.5 L683.4 823.1 L684.0 823.1 L684.6 824.2 L685.2 825.8 L685.8 826.8 L686.4 826.9 L687.0 826.6 L687.6 826.3 L688.2 825.7 L688.8 824.3 L689.4 823.5 L690.0 824.6 L690.6 826.3 L691.2 826.9 L691.8 827.4 L692.4 827.5 L693.0 826.1 L693.6 824.9 L694.2 824.7 L694.8 825.2 L695.4 825.0 L696.0 824.7 L696.6 824.9 L697.2 825.0 L697.8 825.3 L698.4 826.2 L699.0 826.9 L699.6 826.4 L700.2 825.8 L700.8 826.3 L701.4 826.4 L702.0 825.0 L702.6 824.6 L703.2 825.8 L703.8 827.0 L704.4 826.5 L705.0 825.2 L705.6 824.3 L706.2 823.8 L706.8 823.8 L707.4 824.4 L708.0 825.2 L708.6 826.2 L709.2 826.6 L709.8 826.9 L710.4 827.2 L711.0 826.8 L711.6 826.2 L712.2 825.9 L712.8 826.2 L713.4 826.8 L714.0 826.8 L714.6 826.3 L715.2 825.9 L715.8 825.5 L716.4 825.3 L717.0 826.1 L717.6 826.5 L718.2 825.4 L718.8 825.0 L719.4 825.6 L720.0 826.0 L720.6 826.0 L721.2 826.1 L721.8 825.9 L722.4 825.8 L723.0 825.6 L723.6 825.6 L724.2 826.7 L724.8 827.5 L725.4 826.9 L726.0 826.6 L726.6 826.8 L727.2 825.4 L727.8 823.6 L728.4 823.2 L729.0 824.2 L729.6 824.7 L730.2 824.6 L730.8 824.8 L731.4 825.2 L732.0 826.1 L732.6 826.6 L733.2 826.0 L733.8 824.9 L734.4 823.3 L735.0 823.2 L735.6 824.5 L736.2 825.2 L736.8 826.2 L737.4 827.2 L738.0 826.6 L738.6 825.3 L739.2 824.9 L739.8 824.9 L740.4 824.8 L741.0 825.3 L741.6 826.0 L742.2 826.1 L742.8 825.5 L743.4 824.6 L744.0 824.2 L744.6 824.7 L745.2 825.0 L745.8 825.3 L746.4 825.0 L747.0 824.6 L747.6 825.5 L748.2 826.1 L748.8 825.9 L749.4 825.4 L750.0 825.6 L750.6 825.2 L751.2 823.9 L751.8 824.2 L752.4 825.7 L753.0 826.8 L753.6 826.7 L754.2 826.0 L754.8 825.6 L755.4 825.1 L756.0 824.3 L756.6 824.0 L757.2 824.3 L757.8 824.4 L758.4 824.8 L759.0 825.9 L759.6 826.6 L760.2 826.6 L760.8 826.3 L761.4 825.8 L762.0 825.6 L762.6 826.0 L763.2 826.3 L763.8 825.6 L764.4 825.2 L765.0 825.7 L765.6 826.1 L766.2 825.7 L766.8 824.7 L767.4 824.3 L768.0 824.6 L768.6 824.5 L769.2 824.1 L769.8 824.5 L770.4 826.1 L771.0 827.0 L771.6 825.7 L772.2 823.9 L772.8 823.1 L773.4 823.4 L774.0 824.6 L774.6 825.1 L775.2 825.7 L775.8 826.9 L776.4 827.6 L777.0 826.7 L777.6 824.8 L778.2 822.9 L778.8 822.7 L779.4 824.8 L780.0 826.3 L780.6 826.5 L781.2 826.4 L781.8 825.9 L782.4 824.7 L783.0 824.4 L783.6 824.6 L784.2 824.4 L784.8 824.7 L785.4 826.0 L786.0 827.1 L786.6 827.4 L787.2 827.6 L787.8 827.1 L788.4 825.7 L789.0 824.6 L789.6 824.1 L790.2 823.5 L790.8 823.9 L791.4 825.4 L792.0 826.3 L792.6 826.6 L793.2 826.6 L793.8 825.8 L794.4 824.8 L795.0 824.8 L795.6 825.1 L796.2 825.3 L796.8 826.1 L797.4 827.2 L798.0 827.7 L798.6 826.8 L799.2 824.9 L799.8 823.6 L800.4 823.3 L801.0 824.3 L801.6 826.7 L802.2 828.2 L802.8 828.1 L803.4 827.5 L804.0 827.0 L804.6 826.7 L805.2 825.2 L805.8 824.9 L806.4 826.2 L807.0 826.6 L807.6 826.6 L808.2 826.8 L808.8 827.5 L809.4 828.0 L810.0 827.4 L810.6 826.4 L811.2 825.7 L811.8 825.9 L812.4 826.8 L813.0 827.6 L813.6 827.5 L814.2 827.4 L814.8 827.1 L815.4 826.7 L816.0 826.1 L816.6 825.7 L817.2 826.0 L817.8 827.2 L818.4 827.9 L819.0 828.5 L819.6 828.9 L820.2 829.0 L820.8 828.2 L821.4 826.3 L822.0 825.0 L822.6 825.2 L823.2 825.6 L823.8 825.9 L824.4 826.7 L825.0 828.3 L825.6 829.5 L826.2 828.3 L826.8 826.3 L827.4 826.1 L828.0 826.6 L828.6 826.5 L829.2 826.7 L829.8 828.0 L830.4 829.2 L831.0 829.1 L831.6 828.2 L832.2 827.5 L832.8 826.7 L833.4 825.7 L834.0 825.6 L834.6 825.9 L835.2 826.6 L835.8 827.4 L836.4 827.7 L837.0 827.2 L837.6 826.7 L838.2 825.9 L838.8 825.0 L839.4 825.3 L840.0 826.7 L840.6 827.5 L841.2 827.6 L841.8 827.7 L842.4 827.7 L843.0 827.6 L843.6 826.7 L844.2 825.7 L844.8 825.4 L845.4 825.6 L846.0 825.7 L846.6 826.0 L847.2 826.9 L847.8 827.4 L848.4 827.0 L849.0 825.6 L849.6 824.0 L850.2 822.8 L850.8 822.8 L851.4 824.2 L852.0 826.3 L852.6 827.4 L853.2 826.7 L853.8 825.9 L854.4 825.8 L855.0 825.6 L855.6 824.9 L856.2 824.2 L856.8 824.4 L857.4 825.2 L858.0 826.0 L858.6 826.3 L859.2 826.7 L859.8 827.0 L860.4 826.6 L861.0 825.2 L861.6 823.8 L862.2 823.1 L862.8 823.5 L863.4 825.2 L864.0 826.9 L864.6 827.7 L865.2 828.3 L865.8 828.6 L866.4 827.8 L867.0 826.4 L867.6 825.5 L868.2 825.1 L868.8 824.9 L869.4 825.4 L870.0 825.9 L870.6 826.0 L871.2 825.9 L871.8 825.2 L872.4 824.0 L873.0 823.3 L873.6 823.8 L874.2 824.8 L874.8 825.1 L875.4 825.6 L876.0 826.6 L876.6 826.6 L877.2 825.8 L877.8 824.4 L878.4 822.8 L879.0 822.3 L879.6 822.5 L880.2 823.9 L880.8 826.6 L881.4 829.0 L882.0 829.3 L882.6 827.6 L883.2 825.6 L883.8 824.5 L884.4 823.6 L885.0 823.1 L885.6 824.2 L886.2 826.7 L886.8 828.2 L887.4 827.6 L888.0 826.7 L888.6 826.0 L889.2 825.0 L889.8 824.6 L890.4 825.0 L891.0 825.3 L891.6 825.4 L892.2 825.5 L892.8 826.0 L893.4 826.1 L894.0 824.8 L894.6 824.3 L895.2 824.4 L895.8 824.8 L896.4 826.0 L897.0 826.9 L897.6 826.9 L898.2 826.9 L898.8 826.8 L899.4 826.0 L900.0 825.2 L900.6 824.5 L901.2 824.2 L901.8 824.8 L902.4 825.4 L903.0 825.8 L903.6 825.8 L904.2 824.9 L904.8 824.8 L905.4 825.1 L906.0 824.6 L906.6 824.1 L907.2 824.0 L907.8 824.6 L908.4 825.2 L909.0 825.5 L909.6 825.4 L910.2 824.8 L910.8 824.0 L911.4 823.9 L912.0 824.1 L912.6 824.7 L913.2 825.0 L913.8 825.1 L914.4 825.7 L915.0 825.3 L915.6 824.5 L916.2 824.5 L916.8 824.0 L917.4 823.5 L918.0 824.0 L918.6 824.6 L919.2 824.9 L919.8 824.8 L920.4 824.5 L921.0 824.7 L921.6 824.6 L922.2 824.4 L922.8 824.5 L923.4 824.5 L924.0 824.3 L924.6 823.9 L925.2 824.5 L925.8 825.6 L926.4 825.9 L927.0 825.3 L927.6 824.0 L928.2 823.2 L928.8 822.2 L929.4 821.9 L930.0 823.8 L930.6 826.2 L931.2 827.2 L931.8 827.1 L932.4 826.1 L933.0 824.4 L933.6 822.8 L934.2 822.3 L934.8 823.1 L935.4 824.0 L936.0 824.6 L936.6 825.1 L937.2 825.4 L937.8 824.7 L938.4 823.7 L939.0 823.9 L939.6 824.9 L940.2 824.5 L940.8 823.8 L941.4 823.9 L942.0 824.5 L942.6 825.3 L943.2 825.7 L943.8 825.8 L944.4 825.2 L945.0 823.4 L945.6 821.4 L946.2 821.0 L946.8 822.2 L947.4 824.1 L948.0 825.4 L948.6 824.9 L949.2 823.5 L949.8 822.5 L950.4 821.9 L951.0 822.6 L951.6 823.9 L952.2 824.9 L952.8 825.4 L953.4 825.2 L954.0 824.9 L954.6 824.4 L955.2 823.5 L955.8 822.9 L956.4 823.6 L957.0 824.4" fill="none" stroke="#0f0" stroke-width="1.85" stroke-linejoin="round" stroke-linecap="round"/>
<line x1="696.10" y1="1059.90" x2="766.70" y2="1059.90" stroke="#000" stroke-width="2.0" stroke-linecap="butt"/>
<text x="774.00" y="1069.90" font-size="30.4" text-anchor="start">Raw fiber</text>
<line x1="696.10" y1="1098.80" x2="766.70" y2="1098.80" stroke="#f00" stroke-width="2.0" stroke-linecap="butt"/>
<text x="774.00" y="1108.80" font-size="30.4" text-anchor="start">TTABm</text>
<line x1="696.10" y1="1136.70" x2="766.70" y2="1136.70" stroke="#00f" stroke-width="2.0" stroke-linecap="butt"/>
<text x="774.00" y="1146.70" font-size="30.4" text-anchor="start">LPb</text>
<line x1="696.10" y1="1175.00" x2="766.70" y2="1175.00" stroke="#0f0" stroke-width="2.0" stroke-linecap="butt"/>
<text x="774.00" y="1185.00" font-size="30.4" text-anchor="start">LSb</text>
<text x="25.70" y="793.60" font-size="38" text-anchor="start">(b)</text>
<text x="39.10" y="1074.80" font-size="36.8" text-anchor="middle" transform="rotate(-90 39.10 1074.80)">Derivative weight %</text>
<text x="425.30" y="1466.70" font-size="36.1" text-anchor="start">Temperature (°C)</text>
</svg>
</body></html>
